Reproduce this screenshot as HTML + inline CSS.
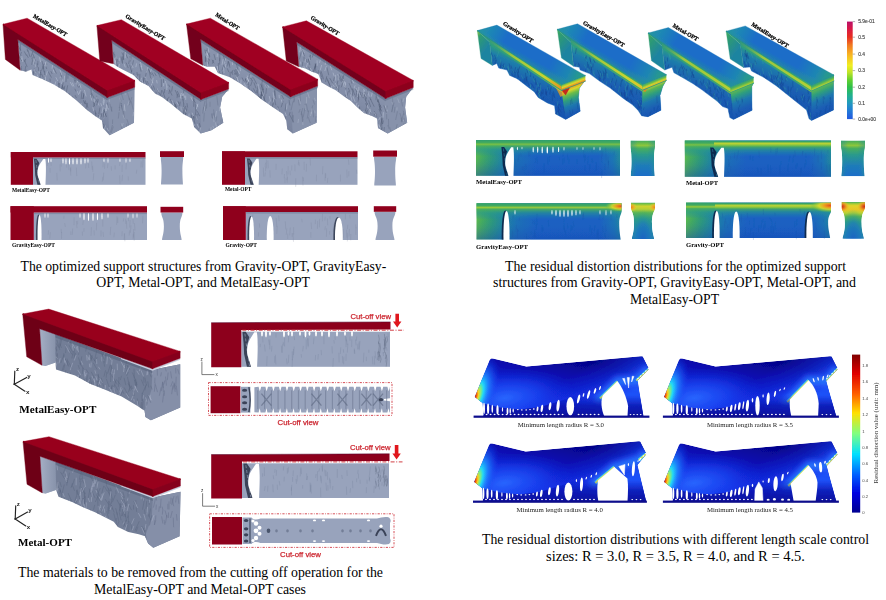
<!DOCTYPE html><html><head><meta charset="utf-8"><title>Optimized support structures</title><style>html,body{margin:0;padding:0;background:#fff}body{width:886px;height:600px;overflow:hidden}</style></head><body><svg width="886" height="600" viewBox="0 0 886 600" style="display:block"><defs><filter id="soft" x="-5%" y="-5%" width="110%" height="110%"><feGaussianBlur stdDeviation="0.45"/></filter><filter id="soft2" x="-20%" y="-20%" width="140%" height="140%"><feGaussianBlur stdDeviation="2.2"/></filter><clipPath id="cb1"><polygon points="17.80,39.60 107.30,97.60 134.80,87.20 134.40,88.00 134.00,122.70 109.50,135.30 103.00,128.10 101.90,120.60 95.40,116.20 86.70,109.70 75.90,100.00 65.00,91.30 54.20,84.80 43.40,79.40 32.50,75.00 31.40,69.60 26.00,71.80 20.20,70.30"/></clipPath><linearGradient id="g1" gradientUnits="userSpaceOnUse" x1="97.30" y1="83.60" x2="79.30" y2="119.60"><stop offset="0" stop-color="#8a95ae"/><stop offset="0.5" stop-color="#838ea8"/><stop offset="1" stop-color="#78839d"/></linearGradient><clipPath id="cb2"><polygon points="111.70,40.30 201.00,99.40 228.70,88.90 227.70,90.20 222.20,96.70 220.10,107.60 223.30,122.70 211.40,130.30 200.60,133.60 194.10,127.10 191.90,118.40 183.20,114.10 176.70,108.60 170.20,103.20 161.50,96.70 155.00,93.50 148.50,85.90 139.90,81.50 133.40,75.00 122.50,69.60 117.10,66.40 113.40,63.80"/></clipPath><linearGradient id="g2" gradientUnits="userSpaceOnUse" x1="191.00" y1="85.40" x2="173.00" y2="121.40"><stop offset="0" stop-color="#8a95ae"/><stop offset="0.5" stop-color="#838ea8"/><stop offset="1" stop-color="#78839d"/></linearGradient><clipPath id="cb3"><polygon points="200.60,39.30 290.60,96.80 317.70,86.10 317.00,88.00 316.60,122.70 292.70,133.60 287.30,129.20 286.20,120.60 283.00,114.10 273.20,107.60 262.40,100.00 251.50,91.30 240.70,83.70 229.90,77.20 217.90,72.90 214.70,66.80 207.10,66.80 202.80,65.30"/></clipPath><linearGradient id="g3" gradientUnits="userSpaceOnUse" x1="280.60" y1="82.80" x2="262.60" y2="118.80"><stop offset="0" stop-color="#8a95ae"/><stop offset="0.5" stop-color="#838ea8"/><stop offset="1" stop-color="#78839d"/></linearGradient><clipPath id="cb4"><polygon points="296.70,42.10 385.60,98.60 413.30,87.50 412.00,89.10 406.20,96.70 405.10,107.50 407.20,122.70 387.70,133.60 378.00,128.10 376.90,118.40 372.50,116.20 363.90,113.00 357.40,107.50 350.90,101.00 344.40,96.70 335.70,90.20 329.20,87.00 321.60,82.60 318.40,74.00 311.90,71.80 305.30,68.50 298.80,66.80"/></clipPath><linearGradient id="g4" gradientUnits="userSpaceOnUse" x1="375.60" y1="84.60" x2="357.60" y2="120.60"><stop offset="0" stop-color="#8a95ae"/><stop offset="0.5" stop-color="#838ea8"/><stop offset="1" stop-color="#78839d"/></linearGradient><clipPath id="cb5"><polygon points="489.60,42.10 561.50,90.10 585.40,80.90 583.90,81.90 579.30,88.30 578.40,97.40 580.20,111.20 565.60,119.40 555.50,113.90 554.60,105.70 547.30,102.90 538.10,97.40 534.40,91.90 527.10,86.40 518.90,80.00 516.10,78.20 509.70,75.40 507.00,70.00 498.70,68.10 496.90,63.50 492.30,65.40"/></clipPath><linearGradient id="g5" gradientUnits="userSpaceOnUse" x1="549.50" y1="72.10" x2="531.50" y2="112.10"><stop offset="0" stop-color="#2a9a86"/><stop offset="0.14" stop-color="#1f7eaa"/><stop offset="0.42" stop-color="#1a5eb2"/><stop offset="1" stop-color="#184eae"/></linearGradient><linearGradient id="g6" gradientUnits="userSpaceOnUse" x1="560.78" y1="88.23" x2="573.71" y2="121.83"><stop offset="0" stop-color="#e0601e"/><stop offset="0.07" stop-color="#e8a022"/><stop offset="0.14" stop-color="#d8d82c"/><stop offset="0.24" stop-color="#6cbc48"/><stop offset="0.38" stop-color="#2f9f7c"/><stop offset="0.55" stop-color="#1f78ae"/><stop offset="0.75" stop-color="#1a5cb4"/><stop offset="1" stop-color="#184eae"/></linearGradient><linearGradient id="g7" gradientUnits="userSpaceOnUse" x1="489.60" y1="42.10" x2="561.50" y2="90.10"><stop offset="0" stop-color="#2f9f78"/><stop offset="0.4" stop-color="#3aa868"/><stop offset="0.8" stop-color="#6cbc48"/><stop offset="1" stop-color="#d8d82c"/></linearGradient><linearGradient id="g8" gradientUnits="userSpaceOnUse" x1="477.30" y1="30.60" x2="491.60" y2="42.10"><stop offset="0" stop-color="#a4cc38"/><stop offset="0.3" stop-color="#2f9c70"/><stop offset="1" stop-color="#1f84a0"/></linearGradient><linearGradient id="g9" gradientUnits="userSpaceOnUse" x1="477.30" y1="30.60" x2="561.50" y2="84.60"><stop offset="0" stop-color="#2f9c74"/><stop offset="0.25" stop-color="#268e8c"/><stop offset="0.7" stop-color="#2f9c74"/><stop offset="1" stop-color="#48ae5e"/></linearGradient><linearGradient id="g10" gradientUnits="userSpaceOnUse" x1="489.60" y1="42.10" x2="561.50" y2="90.10"><stop offset="0" stop-color="#58b456" stop-opacity="0.3"/><stop offset="0.3" stop-color="#a8cc38" stop-opacity="0.9"/><stop offset="0.75" stop-color="#c8d430" stop-opacity="1"/><stop offset="1" stop-color="#e8901e" stop-opacity="1"/></linearGradient><linearGradient id="g11" gradientUnits="userSpaceOnUse" x1="561.50" y1="84.60" x2="563.34" y2="89.39"><stop offset="0" stop-color="#3aa868"/><stop offset="0.35" stop-color="#a8cc38"/><stop offset="0.6" stop-color="#e0d42a"/><stop offset="1" stop-color="#e8801e"/></linearGradient><linearGradient id="g12" gradientUnits="userSpaceOnUse" x1="477.30" y1="30.60" x2="575.40" y2="83.40"><stop offset="0" stop-color="#2496a0"/><stop offset="0.1" stop-color="#1f88b4"/><stop offset="0.26" stop-color="#1c6dc8"/><stop offset="0.72" stop-color="#1c6dc8"/><stop offset="0.9" stop-color="#1f86b2"/><stop offset="1" stop-color="#279a8c"/></linearGradient><linearGradient id="g13" gradientUnits="userSpaceOnUse" x1="561.50" y1="84.60" x2="565.50" y2="77.60"><stop offset="0" stop-color="#2a9c86" stop-opacity="0.55"/><stop offset="1" stop-color="#2a9c86" stop-opacity="0"/></linearGradient><clipPath id="cb6"><polygon points="571.00,42.50 642.50,89.80 666.40,80.10 665.80,81.00 662.70,86.50 660.00,95.60 660.90,110.30 648.00,116.70 641.60,115.80 638.00,110.30 632.50,104.80 623.30,98.40 610.50,88.30 599.50,81.00 589.40,73.60 580.20,70.00 579.30,67.20 573.50,66.30"/></clipPath><linearGradient id="g14" gradientUnits="userSpaceOnUse" x1="630.50" y1="71.80" x2="612.50" y2="111.80"><stop offset="0" stop-color="#2a9a86"/><stop offset="0.14" stop-color="#1f7eaa"/><stop offset="0.42" stop-color="#1a5eb2"/><stop offset="1" stop-color="#184eae"/></linearGradient><linearGradient id="g15" gradientUnits="userSpaceOnUse" x1="641.75" y1="87.95" x2="655.29" y2="121.30"><stop offset="0" stop-color="#d8c82c"/><stop offset="0.07" stop-color="#a8cc38"/><stop offset="0.14" stop-color="#58b456"/><stop offset="0.26" stop-color="#2f9f7c"/><stop offset="0.42" stop-color="#1f78ae"/><stop offset="0.65" stop-color="#1a5cb4"/><stop offset="1" stop-color="#184eae"/></linearGradient><linearGradient id="g16" gradientUnits="userSpaceOnUse" x1="571.00" y1="42.50" x2="642.50" y2="89.80"><stop offset="0" stop-color="#2f9f78"/><stop offset="0.4" stop-color="#3aa868"/><stop offset="0.8" stop-color="#6cbc48"/><stop offset="1" stop-color="#8cc63c"/></linearGradient><linearGradient id="g17" gradientUnits="userSpaceOnUse" x1="557.30" y1="29.30" x2="573.00" y2="42.50"><stop offset="0" stop-color="#48ae5e"/><stop offset="0.3" stop-color="#2f9c70"/><stop offset="1" stop-color="#1f84a0"/></linearGradient><linearGradient id="g18" gradientUnits="userSpaceOnUse" x1="557.30" y1="29.30" x2="642.50" y2="84.30"><stop offset="0" stop-color="#2f9c74"/><stop offset="0.25" stop-color="#268e8c"/><stop offset="0.7" stop-color="#2f9c74"/><stop offset="1" stop-color="#48ae5e"/></linearGradient><linearGradient id="g19" gradientUnits="userSpaceOnUse" x1="571.00" y1="42.50" x2="642.50" y2="89.80"><stop offset="0" stop-color="#58b456" stop-opacity="0.3"/><stop offset="0.3" stop-color="#a8cc38" stop-opacity="0.9"/><stop offset="0.75" stop-color="#c8d430" stop-opacity="1"/><stop offset="1" stop-color="#e0c428" stop-opacity="1"/></linearGradient><linearGradient id="g20" gradientUnits="userSpaceOnUse" x1="642.50" y1="84.30" x2="644.42" y2="89.02"><stop offset="0" stop-color="#2f9f80"/><stop offset="0.4" stop-color="#6cbc48"/><stop offset="0.7" stop-color="#c8d430"/><stop offset="1" stop-color="#e8b024"/></linearGradient><linearGradient id="g21" gradientUnits="userSpaceOnUse" x1="557.30" y1="29.30" x2="656.40" y2="82.60"><stop offset="0" stop-color="#2496a0"/><stop offset="0.1" stop-color="#1f88b4"/><stop offset="0.26" stop-color="#1c6dc8"/><stop offset="0.72" stop-color="#1c6dc8"/><stop offset="0.9" stop-color="#1f86b2"/><stop offset="1" stop-color="#279a8c"/></linearGradient><linearGradient id="g22" gradientUnits="userSpaceOnUse" x1="642.50" y1="84.30" x2="646.50" y2="77.30"><stop offset="0" stop-color="#2a9c86" stop-opacity="0.55"/><stop offset="1" stop-color="#2a9c86" stop-opacity="0"/></linearGradient><clipPath id="cb7"><polygon points="662.00,46.20 730.70,92.00 753.60,82.80 751.80,86.50 751.80,100.00 752.10,110.30 733.50,119.50 729.80,117.60 728.00,108.50 722.50,106.60 717.00,101.10 709.60,95.60 702.30,90.10 693.10,83.70 682.10,77.30 673.90,72.70 672.10,67.20 664.70,70.00"/></clipPath><linearGradient id="g23" gradientUnits="userSpaceOnUse" x1="718.70" y1="74.00" x2="700.70" y2="114.00"><stop offset="0" stop-color="#2a9a86"/><stop offset="0.14" stop-color="#1f7eaa"/><stop offset="0.42" stop-color="#1a5eb2"/><stop offset="1" stop-color="#184eae"/></linearGradient><linearGradient id="g24" gradientUnits="userSpaceOnUse" x1="729.95" y1="90.14" x2="743.37" y2="123.55"><stop offset="0" stop-color="#8cc63c"/><stop offset="0.08" stop-color="#58b456"/><stop offset="0.2" stop-color="#2f9f7c"/><stop offset="0.38" stop-color="#1f78ae"/><stop offset="0.62" stop-color="#1a5cb4"/><stop offset="1" stop-color="#184eae"/></linearGradient><linearGradient id="g25" gradientUnits="userSpaceOnUse" x1="662.00" y1="46.20" x2="730.70" y2="92.00"><stop offset="0" stop-color="#2f9f78"/><stop offset="0.4" stop-color="#3aa868"/><stop offset="0.8" stop-color="#48ae5e"/><stop offset="1" stop-color="#8cc63c"/></linearGradient><linearGradient id="g26" gradientUnits="userSpaceOnUse" x1="648.20" y1="33.00" x2="664.00" y2="46.20"><stop offset="0" stop-color="#48ae5e"/><stop offset="0.3" stop-color="#2f9c70"/><stop offset="1" stop-color="#1f84a0"/></linearGradient><linearGradient id="g27" gradientUnits="userSpaceOnUse" x1="648.20" y1="33.00" x2="730.70" y2="86.50"><stop offset="0" stop-color="#2f9c74"/><stop offset="0.25" stop-color="#268e8c"/><stop offset="0.7" stop-color="#2f9c74"/><stop offset="1" stop-color="#48ae5e"/></linearGradient><linearGradient id="g28" gradientUnits="userSpaceOnUse" x1="662.00" y1="46.20" x2="730.70" y2="92.00"><stop offset="0" stop-color="#58b456" stop-opacity="0.3"/><stop offset="0.3" stop-color="#a8cc38" stop-opacity="0.9"/><stop offset="0.75" stop-color="#a8cc38" stop-opacity="1"/><stop offset="1" stop-color="#b8d034" stop-opacity="1"/></linearGradient><linearGradient id="g29" gradientUnits="userSpaceOnUse" x1="730.70" y1="86.50" x2="732.60" y2="91.24"><stop offset="0" stop-color="#2a9a86"/><stop offset="0.4" stop-color="#48ae5e"/><stop offset="0.75" stop-color="#8cc63c"/><stop offset="1" stop-color="#b8d034"/></linearGradient><linearGradient id="g30" gradientUnits="userSpaceOnUse" x1="648.20" y1="33.00" x2="743.60" y2="85.30"><stop offset="0" stop-color="#2496a0"/><stop offset="0.1" stop-color="#1f88b4"/><stop offset="0.26" stop-color="#1c6dc8"/><stop offset="0.72" stop-color="#1c6dc8"/><stop offset="0.9" stop-color="#1f86b2"/><stop offset="1" stop-color="#279a8c"/></linearGradient><linearGradient id="g31" gradientUnits="userSpaceOnUse" x1="730.70" y1="86.50" x2="734.70" y2="79.50"><stop offset="0" stop-color="#2a9c86" stop-opacity="0.55"/><stop offset="1" stop-color="#2a9c86" stop-opacity="0"/></linearGradient><clipPath id="cb8"><polygon points="740.40,44.30 811.50,90.50 834.00,80.50 833.50,80.00 833.50,95.00 833.50,110.00 811.50,120.50 809.00,118.75 806.50,110.00 801.50,106.00 789.00,96.00 776.50,86.00 764.00,77.50 751.50,71.00 750.00,67.00 743.50,67.50"/></clipPath><linearGradient id="g32" gradientUnits="userSpaceOnUse" x1="799.50" y1="72.50" x2="781.50" y2="112.50"><stop offset="0" stop-color="#2a9a86"/><stop offset="0.14" stop-color="#1f7eaa"/><stop offset="0.42" stop-color="#1a5eb2"/><stop offset="1" stop-color="#184eae"/></linearGradient><linearGradient id="g33" gradientUnits="userSpaceOnUse" x1="810.69" y1="88.67" x2="825.31" y2="121.57"><stop offset="0" stop-color="#8cc63c"/><stop offset="0.08" stop-color="#58b456"/><stop offset="0.2" stop-color="#2f9f7c"/><stop offset="0.38" stop-color="#1f78ae"/><stop offset="0.62" stop-color="#1a5cb4"/><stop offset="1" stop-color="#184eae"/></linearGradient><linearGradient id="g34" gradientUnits="userSpaceOnUse" x1="740.40" y1="44.30" x2="811.50" y2="90.50"><stop offset="0" stop-color="#2f9f78"/><stop offset="0.4" stop-color="#3aa868"/><stop offset="0.8" stop-color="#48ae5e"/><stop offset="1" stop-color="#8cc63c"/></linearGradient><linearGradient id="g35" gradientUnits="userSpaceOnUse" x1="726.10" y1="31.20" x2="742.40" y2="44.30"><stop offset="0" stop-color="#48ae5e"/><stop offset="0.3" stop-color="#2f9c70"/><stop offset="1" stop-color="#1f84a0"/></linearGradient><linearGradient id="g36" gradientUnits="userSpaceOnUse" x1="726.10" y1="31.20" x2="811.50" y2="85.00"><stop offset="0" stop-color="#2f9c74"/><stop offset="0.25" stop-color="#268e8c"/><stop offset="0.7" stop-color="#2f9c74"/><stop offset="1" stop-color="#48ae5e"/></linearGradient><linearGradient id="g37" gradientUnits="userSpaceOnUse" x1="740.40" y1="44.30" x2="811.50" y2="90.50"><stop offset="0" stop-color="#58b456" stop-opacity="0.3"/><stop offset="0.3" stop-color="#a8cc38" stop-opacity="0.9"/><stop offset="0.75" stop-color="#a8cc38" stop-opacity="1"/><stop offset="1" stop-color="#b8d034" stop-opacity="1"/></linearGradient><linearGradient id="g38" gradientUnits="userSpaceOnUse" x1="811.50" y1="85.00" x2="813.54" y2="89.59"><stop offset="0" stop-color="#2a9a86"/><stop offset="0.4" stop-color="#48ae5e"/><stop offset="0.75" stop-color="#8cc63c"/><stop offset="1" stop-color="#b8d034"/></linearGradient><linearGradient id="g39" gradientUnits="userSpaceOnUse" x1="726.10" y1="31.20" x2="824.00" y2="83.00"><stop offset="0" stop-color="#2496a0"/><stop offset="0.1" stop-color="#1f88b4"/><stop offset="0.26" stop-color="#1c6dc8"/><stop offset="0.72" stop-color="#1c6dc8"/><stop offset="0.9" stop-color="#1f86b2"/><stop offset="1" stop-color="#279a8c"/></linearGradient><linearGradient id="g40" gradientUnits="userSpaceOnUse" x1="811.50" y1="85.00" x2="815.50" y2="78.00"><stop offset="0" stop-color="#2a9c86" stop-opacity="0.55"/><stop offset="1" stop-color="#2a9c86" stop-opacity="0"/></linearGradient><linearGradient id="g41" gradientUnits="userSpaceOnUse" x1="0.00" y1="21.60" x2="0.00" y2="119.10"><stop offset="0" stop-color="#b8106a"/><stop offset="0.07" stop-color="#d81848"/><stop offset="0.16" stop-color="#e83020"/><stop offset="0.24" stop-color="#f07820"/><stop offset="0.33" stop-color="#f8b020"/><stop offset="0.45" stop-color="#f0ee20"/><stop offset="0.52" stop-color="#c0e428"/><stop offset="0.6" stop-color="#60d030"/><stop offset="0.67" stop-color="#30c048"/><stop offset="0.76" stop-color="#20b090"/><stop offset="0.84" stop-color="#2098c0"/><stop offset="0.92" stop-color="#2078d8"/><stop offset="1" stop-color="#2058e0"/></linearGradient><linearGradient id="g42" gradientUnits="userSpaceOnUse" x1="476.00" y1="0.00" x2="620.00" y2="0.00"><stop offset="0" stop-color="#5ab84e"/><stop offset="0.035" stop-color="#46ac5c"/><stop offset="0.1" stop-color="#2f9a78"/><stop offset="0.17" stop-color="#23889a"/><stop offset="0.28" stop-color="#1d70b6"/><stop offset="0.42" stop-color="#1a60c2"/><stop offset="0.85" stop-color="#1a60c2"/><stop offset="0.95" stop-color="#1d74b4"/><stop offset="1" stop-color="#22889c"/></linearGradient><linearGradient id="g43" gradientUnits="userSpaceOnUse" x1="0.00" y1="140.00" x2="0.00" y2="175.80"><stop offset="0" stop-color="#2f9e70" stop-opacity="1"/><stop offset="0.07" stop-color="#42aa5e" stop-opacity="1"/><stop offset="0.12" stop-color="#7cc244" stop-opacity="0.95"/><stop offset="0.17" stop-color="#48ae5e" stop-opacity="0.9"/><stop offset="0.27" stop-color="#2a9a8c" stop-opacity="0.6"/><stop offset="0.45" stop-color="#1f86b2" stop-opacity="0.0"/><stop offset="0.7" stop-color="#1a50ba" stop-opacity="0.15"/><stop offset="1" stop-color="#1746b2" stop-opacity="0.45"/></linearGradient><clipPath id="cb9"><path d="M630.50,140.50 L655.00,140.50 L655.00,145.50 C655.00,150.50 654.00,149.50 654.00,161.25 C654.00,170.00 654.70,173.00 654.70,176.00 L630.80,176.00 C630.80,173.00 631.50,170.00 631.50,161.25 C631.50,149.50 630.50,150.50 630.50,145.50 Z"/></clipPath><linearGradient id="g44" gradientUnits="userSpaceOnUse" x1="0.00" y1="140.50" x2="0.00" y2="176.00"><stop offset="0" stop-color="#42aa5e"/><stop offset="0.08" stop-color="#6cbc48"/><stop offset="0.14" stop-color="#8cc63c"/><stop offset="0.22" stop-color="#48ae5e"/><stop offset="0.4" stop-color="#2a9a8c"/><stop offset="0.7" stop-color="#1f7cb8"/><stop offset="1" stop-color="#1c6dc8"/></linearGradient><linearGradient id="g45" gradientUnits="userSpaceOnUse" x1="630.50" y1="0.00" x2="655.00" y2="0.00"><stop offset="0" stop-color="#2a9a8c" stop-opacity="0.55"/><stop offset="0.3" stop-color="#1f7cb8" stop-opacity="0"/><stop offset="0.7" stop-color="#1f7cb8" stop-opacity="0"/><stop offset="1" stop-color="#2a9a8c" stop-opacity="0.55"/></linearGradient><linearGradient id="g46" gradientUnits="userSpaceOnUse" x1="476.50" y1="0.00" x2="621.50" y2="0.00"><stop offset="0" stop-color="#5ab84e"/><stop offset="0.035" stop-color="#46ac5c"/><stop offset="0.1" stop-color="#2f9a78"/><stop offset="0.17" stop-color="#23889a"/><stop offset="0.28" stop-color="#1d70b6"/><stop offset="0.42" stop-color="#1a60c2"/><stop offset="0.85" stop-color="#1a60c2"/><stop offset="0.95" stop-color="#1d74b4"/><stop offset="1" stop-color="#22889c"/></linearGradient><linearGradient id="g47" gradientUnits="userSpaceOnUse" x1="0.00" y1="203.20" x2="0.00" y2="239.50"><stop offset="0" stop-color="#2f9e70" stop-opacity="1"/><stop offset="0.07" stop-color="#42aa5e" stop-opacity="1"/><stop offset="0.12" stop-color="#9ccc38" stop-opacity="0.95"/><stop offset="0.17" stop-color="#48ae5e" stop-opacity="0.9"/><stop offset="0.27" stop-color="#2a9a8c" stop-opacity="0.6"/><stop offset="0.45" stop-color="#1f86b2" stop-opacity="0.0"/><stop offset="0.7" stop-color="#1a50ba" stop-opacity="0.15"/><stop offset="1" stop-color="#1746b2" stop-opacity="0.45"/></linearGradient><radialGradient id="g48" gradientUnits="userSpaceOnUse" cx="620.50" cy="206.20" r="9.90" gradientTransform="translate(620.5 206.2) scale(1.6 0.55) translate(-620.5 -206.2)"><stop offset="0" stop-color="#e8501e" stop-opacity="1"/><stop offset="0.3" stop-color="#f0a020" stop-opacity="0.95"/><stop offset="0.55" stop-color="#e0dc28" stop-opacity="0.8"/><stop offset="0.8" stop-color="#8cc63c" stop-opacity="0.5"/><stop offset="1" stop-color="#48ae5e" stop-opacity="0"/></radialGradient><clipPath id="cb10"><path d="M631.00,202.60 L655.00,202.60 L655.00,207.60 C655.00,212.60 652.00,211.60 652.00,223.80 C652.00,233.00 654.10,236.00 654.10,239.00 L631.90,239.00 C631.90,236.00 634.00,233.00 634.00,223.80 C634.00,211.60 631.00,212.60 631.00,207.60 Z"/></clipPath><linearGradient id="g49" gradientUnits="userSpaceOnUse" x1="0.00" y1="202.60" x2="0.00" y2="239.00"><stop offset="0" stop-color="#48ae5e"/><stop offset="0.05" stop-color="#8cc63c"/><stop offset="0.1" stop-color="#d0d42e"/><stop offset="0.18" stop-color="#b8d034"/><stop offset="0.28" stop-color="#58b456"/><stop offset="0.45" stop-color="#2a9a8c"/><stop offset="0.72" stop-color="#1f7cb8"/><stop offset="1" stop-color="#1c6dc8"/></linearGradient><radialGradient id="g50" gradientUnits="userSpaceOnUse" cx="643.00" cy="241.00" r="31.30" gradientTransform="translate(643.0 241.0) scale(0.42 1) translate(-643.0 -241.0)"><stop offset="0" stop-color="#1a60c2" stop-opacity="0.9"/><stop offset="0.55" stop-color="#1f7cb8" stop-opacity="0.75"/><stop offset="0.8" stop-color="#2a9a8c" stop-opacity="0.35"/><stop offset="1" stop-color="#48ae5e" stop-opacity="0"/></radialGradient><radialGradient id="g51" gradientUnits="userSpaceOnUse" cx="631.50" cy="207.20" r="5.62" gradientTransform="translate(631.5 207.2) scale(1 0.8) translate(-631.5 -207.2)"><stop offset="0" stop-color="#e8881e" stop-opacity="1"/><stop offset="0.4" stop-color="#ecac24" stop-opacity="0.9"/><stop offset="1" stop-color="#e0d42a" stop-opacity="0"/></radialGradient><radialGradient id="g52" gradientUnits="userSpaceOnUse" cx="654.50" cy="207.20" r="5.62" gradientTransform="translate(654.5 207.2) scale(1 0.8) translate(-654.5 -207.2)"><stop offset="0" stop-color="#e8881e" stop-opacity="1"/><stop offset="0.4" stop-color="#ecac24" stop-opacity="0.9"/><stop offset="1" stop-color="#e0d42a" stop-opacity="0"/></radialGradient><linearGradient id="g53" gradientUnits="userSpaceOnUse" x1="684.80" y1="0.00" x2="831.00" y2="0.00"><stop offset="0" stop-color="#5ab84e"/><stop offset="0.035" stop-color="#46ac5c"/><stop offset="0.1" stop-color="#2f9a78"/><stop offset="0.17" stop-color="#23889a"/><stop offset="0.28" stop-color="#1d70b6"/><stop offset="0.42" stop-color="#1a60c2"/><stop offset="0.85" stop-color="#1a60c2"/><stop offset="0.95" stop-color="#1d74b4"/><stop offset="1" stop-color="#22889c"/></linearGradient><linearGradient id="g54" gradientUnits="userSpaceOnUse" x1="0.00" y1="140.50" x2="0.00" y2="176.80"><stop offset="0" stop-color="#2f9e70" stop-opacity="1"/><stop offset="0.07" stop-color="#42aa5e" stop-opacity="1"/><stop offset="0.12" stop-color="#7cc244" stop-opacity="0.95"/><stop offset="0.17" stop-color="#48ae5e" stop-opacity="0.9"/><stop offset="0.27" stop-color="#2a9a8c" stop-opacity="0.6"/><stop offset="0.45" stop-color="#1f86b2" stop-opacity="0.0"/><stop offset="0.7" stop-color="#1a50ba" stop-opacity="0.15"/><stop offset="1" stop-color="#1746b2" stop-opacity="0.45"/></linearGradient><linearGradient id="g55" gradientUnits="userSpaceOnUse" x1="0.00" y1="141.50" x2="0.00" y2="147.50"><stop offset="0" stop-color="#d8d82c" stop-opacity="0"/><stop offset="0.35" stop-color="#c8d830" stop-opacity="0.9"/><stop offset="0.6" stop-color="#8cc63c" stop-opacity="0.8"/><stop offset="1" stop-color="#48ae5e" stop-opacity="0"/></linearGradient><clipPath id="cb11"><path d="M841.00,140.50 L865.00,140.50 L865.00,145.50 C865.00,150.50 863.80,149.50 863.80,161.40 C863.80,170.30 864.64,173.30 864.64,176.30 L841.36,176.30 C841.36,173.30 842.20,170.30 842.20,161.40 C842.20,149.50 841.00,150.50 841.00,145.50 Z"/></clipPath><linearGradient id="g56" gradientUnits="userSpaceOnUse" x1="0.00" y1="140.50" x2="0.00" y2="176.30"><stop offset="0" stop-color="#42aa5e"/><stop offset="0.08" stop-color="#6cbc48"/><stop offset="0.14" stop-color="#8cc63c"/><stop offset="0.22" stop-color="#48ae5e"/><stop offset="0.4" stop-color="#2a9a8c"/><stop offset="0.7" stop-color="#1f7cb8"/><stop offset="1" stop-color="#1c6dc8"/></linearGradient><linearGradient id="g57" gradientUnits="userSpaceOnUse" x1="841.00" y1="0.00" x2="865.00" y2="0.00"><stop offset="0" stop-color="#2a9a8c" stop-opacity="0.55"/><stop offset="0.3" stop-color="#1f7cb8" stop-opacity="0"/><stop offset="0.7" stop-color="#1f7cb8" stop-opacity="0"/><stop offset="1" stop-color="#2a9a8c" stop-opacity="0.55"/></linearGradient><linearGradient id="g58" gradientUnits="userSpaceOnUse" x1="686.00" y1="0.00" x2="831.00" y2="0.00"><stop offset="0" stop-color="#5ab84e"/><stop offset="0.035" stop-color="#46ac5c"/><stop offset="0.1" stop-color="#2f9a78"/><stop offset="0.17" stop-color="#23889a"/><stop offset="0.28" stop-color="#1d70b6"/><stop offset="0.42" stop-color="#1a60c2"/><stop offset="0.85" stop-color="#1a60c2"/><stop offset="0.95" stop-color="#1d74b4"/><stop offset="1" stop-color="#22889c"/></linearGradient><linearGradient id="g59" gradientUnits="userSpaceOnUse" x1="0.00" y1="202.60" x2="0.00" y2="238.00"><stop offset="0" stop-color="#2f9e70" stop-opacity="1"/><stop offset="0.07" stop-color="#42aa5e" stop-opacity="1"/><stop offset="0.12" stop-color="#9ccc38" stop-opacity="0.95"/><stop offset="0.17" stop-color="#48ae5e" stop-opacity="0.9"/><stop offset="0.27" stop-color="#2a9a8c" stop-opacity="0.6"/><stop offset="0.45" stop-color="#1f86b2" stop-opacity="0.0"/><stop offset="0.7" stop-color="#1a50ba" stop-opacity="0.15"/><stop offset="1" stop-color="#1746b2" stop-opacity="0.45"/></linearGradient><linearGradient id="g60" gradientUnits="userSpaceOnUse" x1="0.00" y1="203.60" x2="0.00" y2="209.60"><stop offset="0" stop-color="#d8d82c" stop-opacity="0"/><stop offset="0.35" stop-color="#c8d830" stop-opacity="0.9"/><stop offset="0.6" stop-color="#8cc63c" stop-opacity="0.8"/><stop offset="1" stop-color="#48ae5e" stop-opacity="0"/></linearGradient><radialGradient id="g61" gradientUnits="userSpaceOnUse" cx="830.00" cy="205.60" r="12.60" gradientTransform="translate(830.0 205.6) scale(1.6 0.55) translate(-830.0 -205.6)"><stop offset="0" stop-color="#e8501e" stop-opacity="1"/><stop offset="0.3" stop-color="#f0a020" stop-opacity="0.95"/><stop offset="0.55" stop-color="#e0dc28" stop-opacity="0.8"/><stop offset="0.8" stop-color="#8cc63c" stop-opacity="0.5"/><stop offset="1" stop-color="#48ae5e" stop-opacity="0"/></radialGradient><clipPath id="cb12"><path d="M841.50,202.00 L865.00,202.00 L865.00,207.00 C865.00,212.00 861.60,211.00 861.60,223.40 C861.60,232.80 863.98,235.80 863.98,238.80 L842.52,238.80 C842.52,235.80 844.90,232.80 844.90,223.40 C844.90,211.00 841.50,212.00 841.50,207.00 Z"/></clipPath><linearGradient id="g62" gradientUnits="userSpaceOnUse" x1="0.00" y1="202.00" x2="0.00" y2="238.80"><stop offset="0" stop-color="#48ae5e"/><stop offset="0.05" stop-color="#a8cc38"/><stop offset="0.1" stop-color="#e0d42a"/><stop offset="0.2" stop-color="#e8c828"/><stop offset="0.3" stop-color="#b8d034"/><stop offset="0.4" stop-color="#58b456"/><stop offset="0.55" stop-color="#2a9a8c"/><stop offset="0.78" stop-color="#1f7cb8"/><stop offset="1" stop-color="#1c6dc8"/></linearGradient><radialGradient id="g63" gradientUnits="userSpaceOnUse" cx="853.25" cy="240.80" r="31.65" gradientTransform="translate(853.2 240.8) scale(0.42 1) translate(-853.2 -240.8)"><stop offset="0" stop-color="#1a60c2" stop-opacity="0.9"/><stop offset="0.55" stop-color="#1f7cb8" stop-opacity="0.75"/><stop offset="0.8" stop-color="#2a9a8c" stop-opacity="0.35"/><stop offset="1" stop-color="#48ae5e" stop-opacity="0"/></radialGradient><radialGradient id="g64" gradientUnits="userSpaceOnUse" cx="842.00" cy="206.60" r="7.50" gradientTransform="translate(842.0 206.6) scale(1 0.8) translate(-842.0 -206.6)"><stop offset="0" stop-color="#c8301c" stop-opacity="1"/><stop offset="0.3" stop-color="#e0601e" stop-opacity="0.95"/><stop offset="0.6" stop-color="#eca022" stop-opacity="0.8"/><stop offset="1" stop-color="#e8c828" stop-opacity="0"/></radialGradient><radialGradient id="g65" gradientUnits="userSpaceOnUse" cx="864.50" cy="206.60" r="7.50" gradientTransform="translate(864.5 206.6) scale(1 0.8) translate(-864.5 -206.6)"><stop offset="0" stop-color="#c8301c" stop-opacity="1"/><stop offset="0.3" stop-color="#e0601e" stop-opacity="0.95"/><stop offset="0.6" stop-color="#eca022" stop-opacity="0.8"/><stop offset="1" stop-color="#e8c828" stop-opacity="0"/></radialGradient><linearGradient id="g66" gradientUnits="userSpaceOnUse" x1="39.60" y1="0.00" x2="55.60" y2="0.00"><stop offset="0" stop-color="#a5afc5" stop-opacity="1"/><stop offset="0.4" stop-color="#99a3ba" stop-opacity="1"/><stop offset="1" stop-color="#8893ab" stop-opacity="1"/></linearGradient><clipPath id="cb13"><polygon points="55.30,334.00 152.50,369.80 180.20,364.20 180.20,407.50 150.90,420.20 145.40,417.00 144.60,410.70 137.50,406.00 121.60,396.50 105.80,390.00 90.00,383.80 75.00,375.50 56.00,369.60 55.60,362.40"/></clipPath><linearGradient id="g67" gradientUnits="userSpaceOnUse" x1="39.90" y1="0.00" x2="55.90" y2="0.00"><stop offset="0" stop-color="#a5afc5" stop-opacity="1"/><stop offset="0.4" stop-color="#99a3ba" stop-opacity="1"/><stop offset="1" stop-color="#8893ab" stop-opacity="1"/></linearGradient><clipPath id="cb14"><polygon points="55.60,461.60 152.80,497.40 180.50,491.80 179.60,536.25 153.30,547.70 148.10,543.50 145.00,536.25 138.75,534.20 128.30,532.10 117.90,526.90 113.75,521.70 95.00,512.30 82.50,507.10 72.10,501.90 58.50,496.70 56.20,490.20"/></clipPath><linearGradient id="g68" gradientUnits="userSpaceOnUse" x1="540.00" y1="352.00" x2="528.00" y2="412.00"><stop offset="0" stop-color="#05058a"/><stop offset="0.2" stop-color="#0808a2"/><stop offset="0.5" stop-color="#0c18c6"/><stop offset="0.8" stop-color="#1230e6"/><stop offset="1" stop-color="#1434ea"/></linearGradient><radialGradient id="g69" gradientUnits="userSpaceOnUse" cx="505.00" cy="398.00" r="46.00" gradientTransform="translate(505 398) rotate(-8) scale(1.5 0.62) translate(-505 -398)"><stop offset="0" stop-color="#2a68ff" stop-opacity="0.95"/><stop offset="0.5" stop-color="#1e4cf6" stop-opacity="0.6"/><stop offset="1" stop-color="#1030e0" stop-opacity="0"/></radialGradient><linearGradient id="g70" gradientUnits="userSpaceOnUse" x1="606.00" y1="355.00" x2="629.00" y2="394.00"><stop offset="0" stop-color="#1634e6" stop-opacity="0"/><stop offset="0.3" stop-color="#1634e6" stop-opacity="0.35"/><stop offset="0.65" stop-color="#1a44f4" stop-opacity="0.75"/><stop offset="1" stop-color="#2058ff" stop-opacity="0.9"/></linearGradient><radialGradient id="g71" gradientUnits="userSpaceOnUse" cx="474.60" cy="397.00" r="36.00" gradientTransform="translate(474.6 397) rotate(-68) scale(1.25 0.55) translate(-474.6 -397)"><stop offset="0" stop-color="#c81808" stop-opacity="1"/><stop offset="0.08" stop-color="#f06010" stop-opacity="1"/><stop offset="0.16" stop-color="#f8d020" stop-opacity="1"/><stop offset="0.25" stop-color="#80f080" stop-opacity="1"/><stop offset="0.36" stop-color="#20d8f8" stop-opacity="1"/><stop offset="0.55" stop-color="#2088ff" stop-opacity="0.85"/><stop offset="1" stop-color="#1838ee" stop-opacity="0"/></radialGradient><linearGradient id="g72" gradientUnits="userSpaceOnUse" x1="0.00" y1="395.00" x2="0.00" y2="416.00"><stop offset="0" stop-color="#0a14b4" stop-opacity="0.0"/><stop offset="0.5" stop-color="#0a10a8" stop-opacity="0.75"/><stop offset="1" stop-color="#080c98" stop-opacity="0.95"/></linearGradient><clipPath id="cb15"><polygon points="474.60,397.00 489.60,360.00 491.00,358.40 493.00,358.60 526.30,366.40 641.20,356.20 642.80,356.60 648.80,368.40 648.60,369.60 637.60,380.40 643.50,416.20 483.50,416.20 482.60,403.20"/></clipPath><clipPath id="cb16"><polygon points="474.60,397.00 489.60,360.00 491.00,358.40 493.00,358.60 526.30,366.40 640.80,356.20 642.40,356.60 648.40,368.40 648.20,369.60 637.00,381.20 647.00,416.20 483.50,416.20 482.60,403.20"/></clipPath><clipPath id="cb17"><polygon points="474.60,397.00 489.60,360.00 491.00,358.40 493.00,358.60 526.30,366.40 639.30,356.20 640.90,356.60 646.90,368.40 646.70,369.60 638.10,380.00 646.80,416.20 483.50,416.20 482.60,403.20"/></clipPath><clipPath id="cb18"><polygon points="474.60,397.00 489.60,360.00 491.00,358.40 493.00,358.60 526.30,366.40 640.80,356.20 642.40,356.60 648.40,368.40 648.20,369.60 637.40,381.00 647.00,416.20 483.50,416.20 482.60,403.20"/></clipPath><linearGradient id="g73" gradientUnits="userSpaceOnUse" x1="0.00" y1="354.60" x2="0.00" y2="512.60"><stop offset="0" stop-color="#800000"/><stop offset="0.12" stop-color="#e00000"/><stop offset="0.25" stop-color="#ff6000"/><stop offset="0.37" stop-color="#ffe000"/><stop offset="0.5" stop-color="#80ff80"/><stop offset="0.63" stop-color="#00e0ff"/><stop offset="0.76" stop-color="#0060ff"/><stop offset="0.88" stop-color="#0000e0"/><stop offset="1" stop-color="#000090"/></linearGradient></defs><g filter="url(#soft)">
<polygon points="17.80,39.60 107.30,97.60 134.80,87.20 134.40,88.00 134.00,122.70 109.50,135.30 103.00,128.10 101.90,120.60 95.40,116.20 86.70,109.70 75.90,100.00 65.00,91.30 54.20,84.80 43.40,79.40 32.50,75.00 31.40,69.60 26.00,71.80 20.20,70.30" fill="url(#g1)" />
<polygon points="107.30,97.60 134.80,87.20 134.40,88.00 134.00,122.70 109.50,135.30" fill="#8792ab" />
<g clip-path="url(#cb1)" stroke="#4f5a74" stroke-opacity="0.5" stroke-width="0.9" fill="none" stroke-linecap="round"><path d="M46.7,81.1 l0.1,2.4"/><path d="M50.0,79.0 l0.3,2.2"/><path d="M24.2,60.0 l2.8,6.4"/><path d="M39.8,84.7 l1.0,5.4"/><path d="M103.4,123.9 l1.4,3.4"/><path d="M29.2,74.8 l0.0,3.1"/><path d="M75.2,95.5 l1.1,2.1"/><path d="M38.5,67.6 l0.0,3.9"/><path d="M58.6,92.8 l1.9,5.9"/><path d="M70.1,102.0 l1.7,6.1"/><path d="M104.0,110.5 l2.5,6.0"/><path d="M60.7,90.9 l0.2,6.6"/><path d="M95.6,113.2 l0.1,5.6"/><path d="M61.0,97.6 l-0.3,4.8"/><path d="M25.8,66.3 l-1.5,7.8"/><path d="M44.2,79.5 l0.3,2.1"/><path d="M32.9,54.1 l2.6,6.1"/><path d="M40.9,83.7 l0.3,2.5"/><path d="M69.4,98.9 l2.0,6.9"/><path d="M55.5,93.4 l3.0,7.2"/><path d="M34.1,60.0 l0.0,4.9"/><path d="M40.7,70.5 l0.1,4.2"/><path d="M104.0,112.0 l-0.4,5.7"/><path d="M26.0,70.1 l-1.2,7.1"/><path d="M53.7,68.0 l2.6,5.2"/><path d="M24.4,51.7 l1.9,3.6"/><path d="M18.3,46.1 l2.0,3.7"/><path d="M96.7,96.2 l0.8,3.4"/><path d="M50.1,89.5 l0.9,7.9"/><path d="M60.4,73.0 l1.2,3.9"/><path d="M91.0,89.8 l0.5,7.7"/><path d="M32.7,51.9 l-1.7,4.9"/><path d="M96.1,99.1 l1.5,3.9"/><path d="M87.4,110.0 l1.3,3.8"/><path d="M92.7,114.5 l-1.3,6.7"/><path d="M83.4,100.2 l2.0,3.6"/><path d="M21.3,52.5 l-1.9,5.9"/><path d="M60.6,98.4 l1.6,7.6"/><path d="M37.9,61.3 l-0.1,3.2"/><path d="M99.9,107.9 l-1.0,5.8"/><path d="M27.8,75.8 l-0.9,6.6"/><path d="M60.3,94.0 l-0.7,3.9"/><path d="M104.4,109.5 l-0.8,7.6"/><path d="M33.1,57.1 l-1.3,7.3"/><path d="M33.8,81.4 l1.3,5.8"/><path d="M66.3,73.9 l-0.3,7.8"/><path d="M67.6,85.7 l-1.4,7.1"/><path d="M37.2,63.7 l0.0,3.4"/><path d="M42.1,61.4 l1.6,7.3"/><path d="M60.2,96.5 l-1.2,4.4"/><path d="M63.8,87.1 l0.3,2.1"/><path d="M33.7,77.9 l0.3,3.0"/><path d="M83.4,93.4 l0.2,5.1"/><path d="M86.8,104.0 l1.0,3.4"/><path d="M87.4,103.3 l-1.8,6.3"/><path d="M59.0,83.3 l-0.4,5.1"/><path d="M59.5,82.9 l-0.7,7.6"/><path d="M98.3,99.8 l-1.6,5.1"/><path d="M91.8,93.5 l2.1,4.2"/><path d="M39.1,77.1 l-1.7,6.5"/><path d="M34.1,72.0 l-0.7,2.8"/><path d="M103.3,126.3 l0.4,4.4"/><path d="M107.7,103.0 l0.3,4.6"/><path d="M48.2,71.7 l3.1,5.5"/><path d="M68.0,74.3 l-0.1,4.0"/><path d="M62.8,102.0 l-2.1,6.4"/><path d="M27.9,50.0 l1.9,6.4"/><path d="M30.7,78.4 l2.0,6.6"/><path d="M34.5,68.9 l2.7,5.6"/><path d="M25.5,59.3 l-0.7,2.3"/><path d="M76.5,80.8 l3.2,6.4"/><path d="M95.1,101.5 l-1.5,5.1"/><path d="M41.7,74.2 l1.4,3.1"/><path d="M32.0,58.2 l1.0,3.7"/><path d="M85.4,100.7 l0.7,3.0"/><path d="M20.3,44.4 l0.3,6.4"/><path d="M36.2,82.4 l-0.5,2.6"/><path d="M57.5,92.8 l0.4,4.3"/><path d="M81.9,91.8 l-0.7,7.0"/><path d="M75.0,89.1 l0.9,2.1"/><path d="M26.8,54.8 l1.3,2.7"/><path d="M94.9,110.5 l1.1,3.5"/><path d="M45.2,64.1 l1.4,4.5"/><path d="M105.8,113.4 l-1.1,3.3"/><path d="M46.2,60.2 l0.5,4.3"/><path d="M62.5,86.6 l0.6,1.9"/><path d="M27.1,49.2 l0.5,2.1"/><path d="M40.4,72.3 l-0.3,6.5"/><path d="M83.9,94.9 l-1.3,3.7"/><path d="M33.7,71.2 l-0.5,2.2"/><path d="M98.3,115.3 l2.7,6.3"/><path d="M65.6,98.0 l-1.3,6.7"/><path d="M72.4,96.6 l2.0,5.8"/><path d="M21.0,55.8 l-0.5,2.6"/><path d="M69.1,93.4 l0.6,6.1"/><path d="M21.2,66.3 l0.3,5.0"/><path d="M75.7,102.5 l1.6,3.2"/><path d="M43.9,64.1 l-2.1,6.1"/><path d="M62.5,85.3 l-0.9,6.0"/><path d="M74.3,79.7 l0.9,2.8"/><path d="M84.0,101.9 l0.9,1.8"/><path d="M43.9,79.3 l1.6,5.8"/><path d="M64.8,86.1 l-0.7,2.6"/><path d="M39.1,83.0 l0.3,2.1"/><path d="M93.4,102.5 l1.2,3.4"/><path d="M101.4,113.6 l0.2,2.8"/><path d="M101.7,121.4 l-1.3,4.9"/><path d="M80.2,109.9 l2.4,4.3"/><path d="M20.0,57.1 l1.5,3.5"/><path d="M49.1,88.1 l-0.3,2.0"/><path d="M91.7,118.4 l-1.6,6.1"/><path d="M44.6,71.2 l0.1,8.0"/><path d="M51.0,71.5 l1.0,2.1"/><path d="M92.0,118.4 l1.0,3.3"/><path d="M63.2,82.9 l-1.9,7.5"/><path d="M91.3,116.4 l0.3,7.6"/><path d="M80.9,105.7 l-0.6,4.7"/><path d="M75.3,80.3 l3.0,6.9"/><path d="M60.4,78.4 l-2.1,6.1"/><path d="M43.1,66.7 l1.0,5.3"/></g>
<g clip-path="url(#cb1)" stroke="#c6cee0" stroke-opacity="0.55" stroke-width="0.8" fill="none" stroke-linecap="round"><path d="M33.0,58.7 l0.5,5.6"/><path d="M40.6,86.1 l1.5,3.5"/><path d="M34.9,64.2 l0.7,2.2"/><path d="M42.6,84.8 l0.8,4.9"/><path d="M56.0,77.6 l1.5,3.0"/><path d="M45.9,62.3 l-0.1,4.0"/><path d="M94.1,99.4 l0.5,2.9"/><path d="M60.6,94.0 l2.7,4.8"/><path d="M23.4,72.5 l0.0,3.9"/><path d="M19.3,71.6 l-1.2,5.2"/><path d="M103.9,100.4 l0.2,2.6"/><path d="M81.2,103.3 l-0.7,4.5"/><path d="M60.0,69.6 l1.6,4.9"/><path d="M100.9,103.6 l0.8,2.4"/><path d="M76.2,81.8 l0.2,2.3"/><path d="M70.3,82.3 l2.2,3.8"/><path d="M45.9,89.4 l-1.1,4.4"/><path d="M60.3,77.0 l-0.5,5.8"/><path d="M44.7,75.5 l0.7,4.6"/><path d="M42.9,85.9 l1.4,2.6"/><path d="M49.0,82.9 l-0.5,2.8"/><path d="M84.5,90.4 l1.5,5.7"/><path d="M90.5,95.4 l1.3,4.9"/><path d="M103.1,101.7 l0.5,2.9"/><path d="M79.8,84.5 l1.2,3.4"/><path d="M103.6,98.8 l0.4,2.2"/><path d="M99.9,115.6 l-1.7,5.7"/><path d="M47.3,90.3 l2.4,4.4"/><path d="M77.4,91.5 l1.2,3.1"/><path d="M19.1,54.0 l2.4,5.3"/><path d="M103.0,107.7 l-1.0,5.2"/><path d="M55.8,81.7 l-1.0,3.4"/><path d="M36.1,81.5 l0.3,2.1"/><path d="M91.9,89.4 l1.0,1.9"/><path d="M99.3,117.3 l1.3,5.4"/><path d="M45.4,77.2 l-0.3,3.0"/><path d="M46.5,60.7 l-1.4,4.8"/><path d="M77.0,79.0 l0.3,2.9"/><path d="M105.3,108.2 l0.4,3.0"/><path d="M64.6,76.1 l-0.6,5.2"/><path d="M92.9,107.6 l0.8,3.2"/><path d="M52.5,65.5 l-0.4,2.8"/><path d="M39.6,57.7 l1.0,4.1"/><path d="M107.1,128.1 l1.3,2.8"/><path d="M28.1,70.3 l1.2,3.6"/><path d="M56.7,87.0 l-1.1,4.9"/><path d="M76.4,106.0 l0.1,3.2"/><path d="M53.3,69.9 l0.9,2.8"/><path d="M34.7,69.4 l0.6,3.3"/><path d="M106.7,105.4 l-0.2,5.2"/><path d="M104.9,112.8 l-1.1,5.2"/><path d="M98.0,102.9 l0.9,2.3"/><path d="M105.3,125.9 l-0.8,3.4"/><path d="M58.1,92.0 l2.4,5.3"/><path d="M72.4,82.9 l1.4,3.2"/><path d="M36.6,72.8 l1.6,4.3"/><path d="M20.0,64.6 l0.7,2.7"/><path d="M38.7,71.2 l0.9,2.0"/><path d="M54.5,84.7 l0.9,2.2"/><path d="M80.3,90.4 l-1.0,3.1"/><path d="M47.3,71.4 l-0.8,3.6"/><path d="M106.5,104.5 l1.7,4.6"/><path d="M21.8,56.4 l0.9,5.2"/><path d="M96.9,97.1 l0.1,2.1"/><path d="M77.5,81.3 l0.9,4.4"/><path d="M62.5,79.8 l-1.1,3.9"/><path d="M29.2,73.9 l2.0,5.5"/><path d="M32.6,80.2 l1.8,3.5"/><path d="M100.4,122.5 l-0.9,4.4"/><path d="M34.9,58.7 l-0.8,3.5"/></g>
<g clip-path="url(#cb1)" stroke="#5f6a85" stroke-opacity="0.45" stroke-width="0.8" fill="none" stroke-linecap="round"><path d="M129.4,98.2 l0.3,4.3"/><path d="M121.5,105.4 l0.7,3.7"/><path d="M126.8,123.9 l-0.1,3.2"/><path d="M127.6,93.0 l2.1,7.7"/><path d="M123.6,111.4 l0.9,6.7"/><path d="M119.0,112.6 l-0.6,5.5"/><path d="M119.7,107.4 l-0.3,3.1"/><path d="M120.8,100.1 l-1.5,7.4"/><path d="M120.0,98.1 l1.6,5.6"/><path d="M111.6,107.1 l0.1,3.5"/><path d="M121.3,93.1 l2.0,6.5"/><path d="M127.0,119.6 l1.9,5.8"/><path d="M121.2,105.2 l2.2,8.4"/><path d="M130.2,127.5 l-1.6,7.2"/><path d="M113.2,126.9 l-1.9,5.7"/><path d="M131.7,97.5 l-2.3,7.4"/><path d="M110.0,104.2 l1.8,7.3"/><path d="M131.2,101.5 l1.9,7.7"/><path d="M121.1,124.7 l0.7,4.2"/><path d="M121.2,103.1 l0.7,3.1"/><path d="M112.4,125.3 l-1.9,6.8"/><path d="M112.6,119.9 l-0.1,3.7"/></g>
<g clip-path="url(#cb1)" stroke="#bcc5d8" stroke-opacity="0.5" stroke-width="0.7" fill="none" stroke-linecap="round"><path d="M124.5,104.6 l-0.2,5.5"/><path d="M123.1,123.4 l-0.8,2.3"/><path d="M124.4,105.8 l0.8,5.1"/><path d="M133.6,112.4 l-0.6,3.4"/><path d="M119.6,98.0 l1.5,4.7"/><path d="M129.2,100.7 l-1.5,4.3"/><path d="M123.2,115.5 l1.1,3.1"/><path d="M109.2,97.0 l0.2,4.5"/><path d="M121.4,123.8 l0.5,2.5"/><path d="M125.0,92.4 l0.2,2.0"/></g>
<polygon points="17.80,39.60 107.30,97.60 107.30,100.20 17.80,42.20" fill="#515c77" opacity="0.5"/>
<polygon points="107.30,97.60 134.80,87.20 134.80,89.40 107.30,99.80" fill="#515c77" opacity="0.4"/>
<path d="M3.00,24.30 L107.30,90.60 L134.80,80.50 M107.30,90.60 L107.30,97.60" stroke="#73001a" stroke-width="1.6" fill="none"/>
<polygon points="3.00,24.30 107.30,90.60 107.30,97.60 17.80,39.60 20.20,70.30 5.40,59.40" fill="#73001a" stroke="#73001a" stroke-width="0.4"/>
<polygon points="107.30,90.60 134.80,80.50 134.80,87.20 107.30,97.60" fill="#8c001d" stroke="#8c001d" stroke-width="0.3"/>
<polygon points="3.00,24.30 27.10,18.20 134.80,80.50 107.30,90.60" fill="#a00021" stroke="#a00021" stroke-width="0.4"/>
<text x="32.80" y="17.30" font-family="'Liberation Serif', serif" font-size="5.8" font-weight="bold" fill="#000" text-anchor="start" textLength="38.00" lengthAdjust="spacingAndGlyphs" transform="rotate(30.30 32.80 17.30)" stroke="#000" stroke-width="0.25">MetalEasy-OPT</text>
<polygon points="111.70,40.30 201.00,99.40 228.70,88.90 227.70,90.20 222.20,96.70 220.10,107.60 223.30,122.70 211.40,130.30 200.60,133.60 194.10,127.10 191.90,118.40 183.20,114.10 176.70,108.60 170.20,103.20 161.50,96.70 155.00,93.50 148.50,85.90 139.90,81.50 133.40,75.00 122.50,69.60 117.10,66.40 113.40,63.80" fill="url(#g2)" />
<polygon points="201.00,99.40 228.70,88.90 227.70,90.20 222.20,96.70 220.10,107.60 223.30,122.70 211.40,130.30 200.60,133.60" fill="#8792ab" />
<g clip-path="url(#cb2)" stroke="#4f5a74" stroke-opacity="0.5" stroke-width="0.9" fill="none" stroke-linecap="round"><path d="M122.3,56.9 l0.1,5.5"/><path d="M131.9,70.2 l-0.8,2.7"/><path d="M133.5,60.7 l-1.4,5.7"/><path d="M181.6,96.3 l-0.1,2.1"/><path d="M162.1,95.7 l-1.4,4.5"/><path d="M176.7,113.4 l0.1,2.3"/><path d="M148.0,68.7 l3.3,5.8"/><path d="M163.5,79.5 l-0.0,3.2"/><path d="M158.5,97.8 l0.8,3.0"/><path d="M138.0,88.5 l-0.7,6.7"/><path d="M115.5,67.4 l-0.6,4.8"/><path d="M152.0,72.8 l1.6,3.0"/><path d="M143.9,84.4 l-0.7,7.0"/><path d="M137.0,72.5 l0.5,6.7"/><path d="M137.3,88.8 l-0.8,3.2"/><path d="M113.9,52.1 l-1.9,6.2"/><path d="M178.1,113.4 l1.2,3.8"/><path d="M193.4,116.7 l-1.9,5.7"/><path d="M156.0,92.1 l1.0,7.1"/><path d="M177.2,94.4 l-0.1,3.3"/><path d="M122.0,52.8 l0.9,2.0"/><path d="M194.2,100.8 l1.0,1.9"/><path d="M174.7,104.7 l2.9,5.7"/><path d="M164.6,102.6 l-1.7,6.7"/><path d="M120.8,76.0 l3.2,7.0"/><path d="M130.0,56.6 l-1.3,7.0"/><path d="M170.3,99.3 l1.6,3.4"/><path d="M123.1,55.8 l0.6,3.9"/><path d="M114.4,53.9 l1.3,6.2"/><path d="M143.5,77.7 l-0.1,7.1"/><path d="M115.9,59.2 l1.5,6.5"/><path d="M175.3,90.4 l3.1,6.5"/><path d="M183.9,90.3 l-0.5,3.2"/><path d="M197.1,114.4 l-0.8,4.9"/><path d="M129.7,65.1 l2.0,6.7"/><path d="M195.2,103.9 l0.5,6.2"/><path d="M123.7,52.7 l-0.6,6.7"/><path d="M182.9,99.4 l0.8,4.3"/><path d="M189.8,121.8 l0.7,2.0"/><path d="M138.2,74.3 l-1.0,4.1"/><path d="M133.8,73.6 l-0.9,6.5"/><path d="M169.5,90.6 l-0.6,2.9"/><path d="M172.4,86.6 l-0.7,4.6"/><path d="M162.7,91.0 l2.3,6.9"/><path d="M129.5,76.6 l2.7,6.5"/><path d="M126.2,62.9 l1.9,4.8"/><path d="M141.0,92.7 l2.7,5.8"/><path d="M196.1,110.2 l-1.3,7.8"/><path d="M177.4,91.4 l2.4,5.3"/><path d="M131.2,56.7 l-0.7,4.3"/><path d="M174.2,102.7 l1.9,4.4"/><path d="M166.0,101.0 l1.1,7.4"/><path d="M164.7,89.4 l-0.4,3.4"/><path d="M191.6,115.3 l-0.5,7.1"/><path d="M169.5,89.9 l2.4,5.2"/><path d="M151.4,89.7 l1.7,5.5"/><path d="M150.4,87.1 l-0.3,4.4"/><path d="M193.6,116.7 l1.2,6.6"/><path d="M158.3,72.8 l2.0,4.9"/><path d="M183.7,104.2 l0.1,2.6"/><path d="M161.7,90.4 l-1.2,5.7"/><path d="M158.8,102.8 l-0.2,3.3"/><path d="M148.9,69.9 l1.7,7.7"/><path d="M117.6,59.5 l0.3,2.1"/><path d="M151.1,78.6 l1.2,3.4"/><path d="M180.2,102.1 l-0.6,3.3"/><path d="M146.7,70.1 l-1.2,6.5"/><path d="M168.9,97.2 l-1.0,3.2"/><path d="M145.0,89.3 l0.8,6.9"/><path d="M139.5,64.4 l1.5,6.8"/><path d="M187.0,103.6 l0.5,3.5"/><path d="M127.8,76.8 l1.1,3.5"/><path d="M139.9,74.3 l-0.3,5.8"/><path d="M147.0,90.9 l-0.5,2.3"/><path d="M193.9,99.4 l-0.2,7.0"/><path d="M112.9,74.3 l1.8,5.7"/><path d="M121.0,56.9 l1.5,6.5"/><path d="M128.5,77.1 l-0.8,2.9"/><path d="M167.9,99.0 l-1.2,7.3"/><path d="M185.7,112.8 l-0.6,5.1"/><path d="M153.4,85.9 l1.1,3.4"/><path d="M125.7,53.6 l1.9,4.4"/><path d="M156.5,88.4 l3.6,6.2"/><path d="M186.9,108.9 l-1.2,5.9"/><path d="M146.0,94.9 l-0.1,2.5"/><path d="M167.3,98.8 l-1.7,5.8"/><path d="M144.4,78.4 l-1.3,4.7"/><path d="M117.4,65.2 l-0.9,3.9"/><path d="M145.5,80.9 l2.2,6.2"/><path d="M151.3,85.7 l1.8,6.7"/><path d="M185.6,106.3 l0.3,3.6"/><path d="M199.4,123.5 l1.0,3.9"/><path d="M140.1,80.5 l3.1,5.9"/><path d="M178.3,101.7 l0.6,2.2"/><path d="M112.9,72.9 l-0.3,5.6"/><path d="M184.2,107.5 l-0.1,5.7"/><path d="M174.8,104.4 l-0.2,3.3"/><path d="M154.6,72.9 l1.5,2.7"/><path d="M182.9,108.0 l-0.8,4.1"/><path d="M182.6,96.3 l0.6,3.8"/><path d="M141.1,81.8 l3.5,6.8"/><path d="M161.3,79.7 l0.1,6.9"/><path d="M193.7,96.2 l0.0,4.3"/><path d="M197.5,111.6 l1.9,4.1"/><path d="M168.8,85.0 l1.0,1.8"/><path d="M171.8,112.5 l-0.6,2.5"/><path d="M122.9,73.5 l-0.4,3.4"/><path d="M128.1,78.5 l-1.4,6.1"/><path d="M175.7,104.6 l0.8,6.2"/><path d="M194.1,126.5 l3.1,5.5"/><path d="M115.4,70.1 l0.6,2.4"/><path d="M176.0,111.8 l2.2,4.4"/><path d="M146.0,78.3 l2.3,5.6"/><path d="M182.7,109.0 l0.9,5.7"/><path d="M148.4,95.0 l0.2,6.7"/><path d="M137.4,90.6 l-1.2,6.1"/><path d="M143.0,93.0 l-0.0,7.0"/><path d="M140.3,88.9 l-0.3,4.2"/><path d="M167.8,103.0 l1.8,3.2"/><path d="M136.2,77.0 l-1.7,6.7"/></g>
<g clip-path="url(#cb2)" stroke="#c6cee0" stroke-opacity="0.55" stroke-width="0.8" fill="none" stroke-linecap="round"><path d="M118.6,71.5 l0.1,5.5"/><path d="M138.9,84.4 l-1.3,4.6"/><path d="M142.2,80.7 l1.8,4.9"/><path d="M180.9,93.6 l-0.3,4.4"/><path d="M153.1,78.1 l-0.8,4.9"/><path d="M152.1,94.9 l1.6,4.8"/><path d="M165.8,104.1 l0.4,4.1"/><path d="M163.8,83.2 l-0.2,2.7"/><path d="M145.5,76.9 l1.6,3.8"/><path d="M119.4,58.1 l-0.1,2.4"/><path d="M181.0,106.9 l0.2,3.4"/><path d="M113.5,75.8 l0.5,5.4"/><path d="M162.2,100.1 l-1.1,3.5"/><path d="M181.9,117.1 l1.4,2.7"/><path d="M129.9,57.9 l0.1,2.2"/><path d="M189.5,122.5 l2.5,5.0"/><path d="M165.4,81.4 l1.7,5.6"/><path d="M163.5,105.5 l0.8,4.6"/><path d="M151.4,99.2 l1.9,5.6"/><path d="M116.0,57.0 l-1.5,5.4"/><path d="M185.0,115.6 l-0.2,4.8"/><path d="M197.9,104.1 l-1.5,4.8"/><path d="M171.9,100.5 l2.1,4.6"/><path d="M140.9,66.1 l1.4,3.7"/><path d="M133.0,78.4 l-0.2,2.0"/><path d="M128.8,83.7 l-0.8,2.8"/><path d="M190.9,97.2 l1.6,3.4"/><path d="M196.1,115.9 l0.9,3.7"/><path d="M185.4,109.9 l0.8,2.4"/><path d="M119.4,64.3 l-0.6,2.5"/><path d="M136.5,63.8 l-0.6,3.0"/><path d="M141.5,78.1 l-0.9,3.2"/><path d="M125.5,52.2 l-0.3,5.6"/><path d="M131.9,64.7 l1.0,2.8"/><path d="M147.4,95.5 l2.4,5.2"/><path d="M140.4,62.1 l1.3,4.7"/><path d="M197.2,124.2 l1.3,3.1"/><path d="M115.1,60.4 l0.4,2.7"/><path d="M192.2,113.1 l0.9,2.4"/><path d="M181.8,93.5 l1.0,2.1"/><path d="M166.8,86.8 l-0.0,2.8"/><path d="M176.7,102.0 l1.3,2.5"/><path d="M177.3,107.7 l-0.4,2.2"/><path d="M144.2,89.7 l1.9,3.5"/><path d="M193.1,122.4 l1.1,2.9"/><path d="M185.7,96.0 l0.0,3.5"/><path d="M114.0,58.0 l1.6,3.7"/><path d="M177.3,111.1 l-0.3,3.3"/><path d="M147.9,67.4 l-1.7,5.2"/><path d="M156.9,88.3 l2.0,3.6"/><path d="M197.0,104.2 l0.7,2.3"/><path d="M183.1,93.1 l1.7,4.5"/><path d="M115.5,62.8 l-0.4,4.1"/><path d="M124.0,72.0 l0.9,2.0"/><path d="M156.7,80.5 l0.4,2.5"/><path d="M125.9,78.4 l0.1,2.6"/><path d="M177.5,111.7 l1.1,5.7"/><path d="M151.7,84.0 l-1.1,3.4"/><path d="M180.8,95.3 l0.5,3.3"/><path d="M200.6,127.6 l-1.1,5.1"/><path d="M118.3,76.7 l1.7,5.5"/><path d="M151.0,79.1 l1.8,3.7"/><path d="M151.4,69.0 l-0.8,2.4"/><path d="M183.2,107.4 l-1.3,5.1"/><path d="M189.1,113.8 l-0.2,3.1"/><path d="M137.6,88.0 l1.3,4.3"/><path d="M158.8,102.8 l0.8,3.0"/><path d="M168.7,98.9 l0.4,5.8"/><path d="M136.9,75.7 l1.0,2.4"/><path d="M124.2,64.0 l1.0,3.0"/></g>
<g clip-path="url(#cb2)" stroke="#5f6a85" stroke-opacity="0.45" stroke-width="0.8" fill="none" stroke-linecap="round"><path d="M204.3,113.1 l-0.6,8.0"/><path d="M216.7,116.8 l-0.6,4.2"/><path d="M213.8,113.1 l0.1,6.7"/><path d="M210.0,102.1 l-0.0,4.3"/><path d="M211.8,114.5 l0.3,3.1"/><path d="M224.1,102.0 l0.0,6.3"/><path d="M209.3,129.0 l-0.9,4.7"/><path d="M206.1,95.8 l0.3,8.2"/><path d="M203.6,107.4 l-0.9,5.6"/><path d="M204.8,101.5 l-1.5,8.6"/><path d="M206.0,105.5 l-0.6,5.1"/><path d="M217.8,124.0 l-0.1,7.9"/><path d="M221.0,120.2 l0.1,7.6"/><path d="M222.2,118.9 l2.2,8.2"/><path d="M224.4,93.6 l-0.5,7.6"/><path d="M214.8,128.1 l0.4,6.4"/><path d="M222.1,124.8 l0.6,6.6"/><path d="M213.6,109.9 l1.1,7.3"/><path d="M212.0,113.4 l0.7,5.3"/><path d="M222.2,124.0 l0.2,6.0"/><path d="M206.7,104.3 l-0.2,3.9"/><path d="M216.9,96.6 l1.0,8.5"/></g>
<g clip-path="url(#cb2)" stroke="#bcc5d8" stroke-opacity="0.5" stroke-width="0.7" fill="none" stroke-linecap="round"><path d="M223.7,123.6 l1.2,5.7"/><path d="M213.0,126.2 l0.6,1.9"/><path d="M216.5,111.3 l-1.1,5.6"/><path d="M215.8,129.3 l-0.0,4.1"/><path d="M219.6,107.4 l-0.2,3.4"/><path d="M211.0,127.5 l-0.1,4.7"/><path d="M204.5,106.9 l-0.2,3.6"/><path d="M216.8,125.1 l0.1,5.9"/><path d="M213.3,115.9 l0.7,5.9"/><path d="M215.6,122.8 l0.3,2.7"/></g>
<polygon points="111.70,40.30 201.00,99.40 201.00,102.00 111.70,42.90" fill="#515c77" opacity="0.5"/>
<polygon points="201.00,99.40 228.70,88.90 228.70,91.10 201.00,101.60" fill="#515c77" opacity="0.4"/>
<path d="M96.90,25.60 L201.00,92.80 L228.70,82.60 M201.00,92.80 L201.00,99.40" stroke="#73001a" stroke-width="1.6" fill="none"/>
<polygon points="96.90,25.60 201.00,92.80 201.00,99.40 111.70,40.30 113.40,63.80 99.80,60.90" fill="#73001a" stroke="#73001a" stroke-width="0.4"/>
<polygon points="201.00,92.80 228.70,82.60 228.70,88.90 201.00,99.40" fill="#8c001d" stroke="#8c001d" stroke-width="0.3"/>
<polygon points="96.90,25.60 121.40,19.70 228.70,82.60 201.00,92.80" fill="#a00021" stroke="#a00021" stroke-width="0.4"/>
<text x="125.00" y="17.30" font-family="'Liberation Serif', serif" font-size="5.8" font-weight="bold" fill="#000" text-anchor="start" textLength="45.00" lengthAdjust="spacingAndGlyphs" transform="rotate(31.10 125.00 17.30)" stroke="#000" stroke-width="0.25">GravityEasy-OPT</text>
<polygon points="200.60,39.30 290.60,96.80 317.70,86.10 317.00,88.00 316.60,122.70 292.70,133.60 287.30,129.20 286.20,120.60 283.00,114.10 273.20,107.60 262.40,100.00 251.50,91.30 240.70,83.70 229.90,77.20 217.90,72.90 214.70,66.80 207.10,66.80 202.80,65.30" fill="url(#g3)" />
<polygon points="290.60,96.80 317.70,86.10 317.00,88.00 316.60,122.70 292.70,133.60" fill="#8792ab" />
<g clip-path="url(#cb3)" stroke="#4f5a74" stroke-opacity="0.5" stroke-width="0.9" fill="none" stroke-linecap="round"><path d="M290.0,112.5 l-0.7,2.6"/><path d="M264.8,111.4 l1.1,7.2"/><path d="M216.0,67.1 l1.8,4.7"/><path d="M219.6,71.4 l-1.4,3.9"/><path d="M257.0,90.5 l1.7,6.5"/><path d="M261.6,90.2 l0.1,7.1"/><path d="M260.4,94.9 l1.5,5.1"/><path d="M259.8,109.2 l0.9,5.4"/><path d="M212.4,72.9 l1.1,2.4"/><path d="M218.2,77.5 l-1.0,5.6"/><path d="M206.6,69.9 l-0.4,3.9"/><path d="M232.8,70.4 l-0.7,2.5"/><path d="M253.5,88.7 l2.0,3.8"/><path d="M281.4,121.5 l-0.1,4.6"/><path d="M223.1,85.2 l1.8,6.9"/><path d="M283.0,101.6 l-1.7,5.3"/><path d="M248.3,77.5 l-0.4,4.3"/><path d="M221.8,82.0 l-0.8,4.8"/><path d="M223.1,67.2 l-1.0,3.0"/><path d="M228.8,62.2 l1.0,5.1"/><path d="M236.7,68.7 l1.5,6.8"/><path d="M223.3,64.9 l1.6,3.0"/><path d="M260.6,84.1 l2.7,5.6"/><path d="M228.1,61.5 l-1.0,4.6"/><path d="M272.2,98.0 l1.2,6.2"/><path d="M285.8,125.0 l1.6,4.8"/><path d="M241.3,89.5 l-0.9,3.4"/><path d="M254.0,82.7 l1.9,5.3"/><path d="M277.9,106.7 l1.5,5.0"/><path d="M270.2,105.6 l1.3,5.2"/><path d="M235.6,69.6 l1.7,6.9"/><path d="M259.5,96.6 l0.4,4.2"/><path d="M227.4,68.7 l1.3,3.1"/><path d="M265.0,94.7 l-1.1,7.4"/><path d="M281.8,95.4 l1.7,3.2"/><path d="M263.2,91.0 l-0.2,4.5"/><path d="M263.3,107.5 l-0.1,4.1"/><path d="M217.5,80.9 l-0.6,6.4"/><path d="M204.9,49.9 l0.8,3.1"/><path d="M234.6,73.3 l2.1,5.4"/><path d="M276.8,111.2 l0.5,3.5"/><path d="M262.4,80.4 l-1.1,6.9"/><path d="M226.4,84.9 l2.6,5.0"/><path d="M223.0,80.6 l-0.9,3.1"/><path d="M267.0,105.5 l-0.6,4.3"/><path d="M274.7,91.1 l1.2,7.6"/><path d="M285.3,116.8 l-0.2,7.0"/><path d="M241.0,89.2 l0.4,4.6"/><path d="M282.8,117.5 l-0.2,2.3"/><path d="M272.7,104.0 l-0.3,7.8"/><path d="M249.7,74.5 l0.7,4.1"/><path d="M220.0,58.0 l-0.4,6.2"/><path d="M222.9,71.7 l-1.3,4.5"/><path d="M233.1,89.4 l0.1,2.8"/><path d="M233.6,78.0 l2.4,6.1"/><path d="M261.8,93.7 l-1.3,6.5"/><path d="M212.3,60.1 l1.5,2.9"/><path d="M226.5,79.9 l1.9,4.3"/><path d="M231.4,71.8 l1.3,2.7"/><path d="M206.1,66.5 l-0.3,2.5"/><path d="M289.1,100.1 l0.7,4.9"/><path d="M219.9,53.3 l-0.3,7.5"/><path d="M259.8,97.5 l1.1,3.3"/><path d="M213.4,74.3 l1.8,6.8"/><path d="M219.9,79.1 l2.8,7.0"/><path d="M273.1,108.9 l1.4,3.7"/><path d="M274.6,99.6 l1.1,5.2"/><path d="M274.8,89.8 l-0.1,5.4"/><path d="M275.7,115.9 l0.7,7.6"/><path d="M245.5,79.5 l2.4,4.9"/><path d="M262.0,94.3 l3.4,7.1"/><path d="M206.4,50.7 l3.2,5.5"/><path d="M278.1,113.4 l1.2,4.4"/><path d="M261.1,92.2 l0.6,4.0"/><path d="M262.7,107.4 l0.8,2.9"/><path d="M242.2,77.9 l1.4,2.9"/><path d="M231.3,90.6 l-1.7,7.3"/><path d="M290.2,115.6 l3.1,6.1"/><path d="M262.7,89.2 l-1.6,5.2"/><path d="M245.8,78.4 l-1.0,3.9"/><path d="M204.3,65.2 l2.0,4.2"/><path d="M260.4,97.1 l0.3,4.5"/><path d="M252.1,77.3 l-0.8,3.0"/><path d="M249.5,99.6 l1.5,3.2"/><path d="M248.6,87.1 l1.7,5.0"/><path d="M251.7,90.1 l2.4,5.0"/><path d="M237.1,78.8 l0.3,7.2"/><path d="M266.7,85.6 l-0.8,7.9"/><path d="M213.4,60.4 l-0.9,2.9"/><path d="M253.5,77.9 l3.0,5.9"/><path d="M223.4,56.2 l1.8,5.3"/><path d="M230.2,72.4 l-0.1,7.3"/><path d="M279.7,119.2 l2.7,6.7"/><path d="M267.7,107.4 l-1.2,6.0"/><path d="M213.4,72.2 l-0.8,7.6"/><path d="M207.4,48.1 l-0.9,5.2"/><path d="M214.7,69.8 l1.2,3.3"/><path d="M243.6,85.3 l1.3,2.3"/><path d="M214.0,54.4 l1.4,5.1"/><path d="M262.8,85.0 l0.4,7.2"/><path d="M264.7,110.1 l0.5,2.0"/><path d="M216.4,78.0 l3.2,6.0"/><path d="M220.4,73.7 l0.5,4.3"/><path d="M218.4,63.5 l-0.1,7.2"/><path d="M209.1,53.5 l0.1,7.4"/><path d="M205.7,56.2 l0.1,4.8"/><path d="M236.5,64.2 l1.3,5.3"/><path d="M204.8,74.3 l0.9,2.1"/><path d="M260.9,88.1 l1.5,4.8"/><path d="M253.0,103.7 l3.8,7.0"/><path d="M253.3,100.6 l-0.2,6.6"/><path d="M258.1,86.4 l-1.6,6.6"/><path d="M286.0,103.8 l-0.8,6.5"/><path d="M248.2,81.6 l0.9,5.2"/><path d="M207.8,56.0 l0.8,7.9"/><path d="M234.2,70.2 l1.6,3.8"/><path d="M205.3,57.1 l0.1,4.7"/><path d="M228.3,61.4 l1.0,3.7"/><path d="M266.9,111.8 l-1.1,3.9"/><path d="M252.5,80.3 l-1.8,5.2"/></g>
<g clip-path="url(#cb3)" stroke="#c6cee0" stroke-opacity="0.55" stroke-width="0.8" fill="none" stroke-linecap="round"><path d="M235.5,75.6 l2.5,4.9"/><path d="M247.1,77.9 l1.5,2.7"/><path d="M216.6,73.5 l0.5,2.8"/><path d="M221.1,80.5 l1.6,4.3"/><path d="M269.2,101.7 l-0.4,2.3"/><path d="M279.1,95.2 l0.2,2.7"/><path d="M280.3,119.5 l0.7,2.8"/><path d="M269.3,96.5 l1.1,4.6"/><path d="M207.8,47.2 l1.0,4.4"/><path d="M246.8,77.9 l1.9,3.4"/><path d="M284.3,124.3 l-0.0,2.2"/><path d="M265.8,85.5 l1.0,2.4"/><path d="M268.6,110.2 l0.2,3.7"/><path d="M254.8,95.5 l1.0,4.3"/><path d="M267.0,105.6 l-0.8,5.0"/><path d="M231.3,90.0 l1.1,3.7"/><path d="M250.7,75.6 l0.2,2.0"/><path d="M261.6,90.0 l1.9,5.6"/><path d="M267.7,85.2 l1.2,2.3"/><path d="M247.3,75.9 l1.2,5.6"/><path d="M214.9,73.7 l2.1,5.3"/><path d="M206.8,51.7 l0.5,5.9"/><path d="M258.2,102.5 l0.9,3.7"/><path d="M280.6,115.2 l-0.1,2.3"/><path d="M239.8,66.6 l0.7,4.2"/><path d="M285.3,112.8 l0.9,2.8"/><path d="M225.8,64.3 l-0.4,2.8"/><path d="M258.6,108.9 l0.1,2.9"/><path d="M218.3,78.2 l-0.4,3.0"/><path d="M274.2,98.3 l-1.0,3.8"/><path d="M218.0,70.1 l0.1,3.8"/><path d="M279.2,118.7 l-0.5,3.4"/><path d="M277.4,117.0 l1.6,5.8"/><path d="M203.7,74.2 l-0.5,2.0"/><path d="M217.3,54.0 l-0.2,2.7"/><path d="M210.4,76.1 l-1.2,4.7"/><path d="M287.0,103.9 l-0.4,5.2"/><path d="M206.5,51.9 l1.6,3.4"/><path d="M206.9,53.5 l2.2,5.0"/><path d="M244.3,82.8 l-0.2,2.7"/><path d="M217.0,66.3 l0.5,2.4"/><path d="M248.2,80.8 l-0.9,2.7"/><path d="M281.3,99.8 l0.8,2.6"/><path d="M207.4,62.2 l0.1,3.6"/><path d="M232.9,84.0 l0.2,4.6"/><path d="M251.9,103.4 l-0.6,5.5"/><path d="M237.3,77.6 l1.1,5.8"/><path d="M236.5,68.3 l3.0,5.2"/><path d="M258.0,84.1 l0.9,4.4"/><path d="M223.0,59.5 l-0.9,5.3"/><path d="M280.8,114.3 l-0.1,3.3"/><path d="M250.4,103.0 l-0.3,2.0"/><path d="M277.8,108.1 l1.9,5.7"/><path d="M259.2,89.1 l0.9,4.8"/><path d="M249.6,92.6 l-0.1,3.3"/><path d="M249.5,91.6 l-0.8,2.9"/><path d="M245.4,84.9 l1.3,3.7"/><path d="M217.3,66.8 l0.3,4.1"/><path d="M273.2,92.8 l0.6,5.2"/><path d="M260.5,105.7 l2.6,4.8"/><path d="M237.8,89.0 l0.9,2.3"/><path d="M223.6,67.5 l0.4,5.2"/><path d="M241.1,79.9 l-0.5,6.0"/><path d="M242.4,92.2 l1.9,4.7"/><path d="M262.1,96.3 l0.6,2.9"/><path d="M232.4,61.9 l0.1,2.8"/><path d="M206.9,68.1 l0.7,3.0"/><path d="M225.6,58.8 l-1.0,4.4"/><path d="M220.5,78.3 l0.9,4.4"/><path d="M206.8,56.4 l1.3,4.7"/></g>
<g clip-path="url(#cb3)" stroke="#5f6a85" stroke-opacity="0.45" stroke-width="0.8" fill="none" stroke-linecap="round"><path d="M301.8,114.1 l0.8,7.8"/><path d="M301.3,111.6 l1.8,8.4"/><path d="M316.0,116.4 l-0.6,5.2"/><path d="M299.9,93.3 l0.6,7.5"/><path d="M304.8,108.7 l-1.5,8.3"/><path d="M292.2,112.1 l0.2,5.8"/><path d="M312.7,105.7 l-1.6,5.6"/><path d="M302.6,108.5 l-1.4,5.9"/><path d="M308.4,117.5 l1.7,5.1"/><path d="M308.7,110.7 l-1.4,7.5"/><path d="M294.6,98.7 l-0.8,3.4"/><path d="M294.2,94.0 l-0.3,7.5"/><path d="M293.0,115.3 l0.1,7.3"/><path d="M293.0,115.7 l-0.3,5.5"/><path d="M316.7,120.2 l2.0,8.0"/><path d="M300.0,109.5 l-1.0,2.9"/><path d="M298.5,100.2 l0.8,4.8"/><path d="M313.2,110.8 l0.3,6.1"/><path d="M292.9,101.8 l-1.7,8.0"/><path d="M313.1,100.1 l1.3,4.0"/><path d="M305.1,104.3 l0.0,5.8"/><path d="M306.3,104.0 l1.6,7.6"/></g>
<g clip-path="url(#cb3)" stroke="#bcc5d8" stroke-opacity="0.5" stroke-width="0.7" fill="none" stroke-linecap="round"><path d="M314.7,110.8 l0.3,2.2"/><path d="M305.0,105.5 l0.5,4.2"/><path d="M298.5,119.5 l-0.5,3.1"/><path d="M311.7,112.1 l-1.1,3.6"/><path d="M302.8,122.4 l0.1,2.2"/><path d="M307.6,92.6 l1.6,5.2"/><path d="M306.6,97.3 l-0.2,5.7"/><path d="M311.7,108.7 l-0.6,4.7"/><path d="M299.0,98.4 l1.3,5.2"/><path d="M314.6,98.2 l0.7,2.3"/></g>
<polygon points="200.60,39.30 290.60,96.80 290.60,99.40 200.60,41.90" fill="#515c77" opacity="0.5"/>
<polygon points="290.60,96.80 317.70,86.10 317.70,88.30 290.60,99.00" fill="#515c77" opacity="0.4"/>
<path d="M186.50,24.10 L290.60,89.80 L317.70,79.40 M290.60,89.80 L290.60,96.80" stroke="#73001a" stroke-width="1.6" fill="none"/>
<polygon points="186.50,24.10 290.60,89.80 290.60,96.80 200.60,39.30 202.80,65.30 190.80,58.80" fill="#73001a" stroke="#73001a" stroke-width="0.4"/>
<polygon points="290.60,89.80 317.70,79.40 317.70,86.10 290.60,96.80" fill="#8c001d" stroke="#8c001d" stroke-width="0.3"/>
<polygon points="186.50,24.10 210.30,18.20 317.70,79.40 290.60,89.80" fill="#a00021" stroke="#a00021" stroke-width="0.4"/>
<text x="215.00" y="15.80" font-family="'Liberation Serif', serif" font-size="5.8" font-weight="bold" fill="#000" text-anchor="start" textLength="27.00" lengthAdjust="spacingAndGlyphs" transform="rotate(32.60 215.00 15.80)" stroke="#000" stroke-width="0.25">Metal-OPT</text>
<polygon points="296.70,42.10 385.60,98.60 413.30,87.50 412.00,89.10 406.20,96.70 405.10,107.50 407.20,122.70 387.70,133.60 378.00,128.10 376.90,118.40 372.50,116.20 363.90,113.00 357.40,107.50 350.90,101.00 344.40,96.70 335.70,90.20 329.20,87.00 321.60,82.60 318.40,74.00 311.90,71.80 305.30,68.50 298.80,66.80" fill="url(#g4)" />
<polygon points="385.60,98.60 413.30,87.50 412.00,89.10 406.20,96.70 405.10,107.50 407.20,122.70 387.70,133.60 378.00,128.10" fill="#8792ab" />
<g clip-path="url(#cb4)" stroke="#4f5a74" stroke-opacity="0.5" stroke-width="0.9" fill="none" stroke-linecap="round"><path d="M368.7,100.8 l1.8,5.7"/><path d="M378.2,99.3 l-0.2,2.3"/><path d="M304.0,56.9 l0.1,3.4"/><path d="M326.9,67.5 l1.8,7.3"/><path d="M370.5,115.8 l1.4,7.8"/><path d="M301.5,67.2 l0.2,3.3"/><path d="M307.0,73.1 l-0.3,4.6"/><path d="M310.3,55.5 l-2.6,7.1"/><path d="M380.5,105.3 l-0.5,4.1"/><path d="M343.8,75.2 l-1.1,4.8"/><path d="M351.0,80.6 l0.8,2.7"/><path d="M377.7,100.9 l3.6,6.6"/><path d="M352.8,88.6 l-0.4,7.7"/><path d="M302.7,62.2 l-0.4,3.5"/><path d="M315.7,64.4 l0.1,2.4"/><path d="M307.6,75.1 l0.7,5.5"/><path d="M302.1,50.3 l2.3,5.4"/><path d="M348.5,88.4 l2.2,5.6"/><path d="M315.5,65.0 l-1.7,6.9"/><path d="M339.2,74.4 l3.0,6.6"/><path d="M342.1,76.0 l1.8,4.5"/><path d="M345.4,85.8 l0.5,3.1"/><path d="M315.2,63.9 l0.6,7.2"/><path d="M374.2,122.9 l-0.8,4.9"/><path d="M349.2,83.5 l2.5,6.0"/><path d="M320.1,72.0 l1.4,4.9"/><path d="M374.5,111.6 l0.0,3.4"/><path d="M367.8,89.8 l0.0,3.5"/><path d="M382.3,117.8 l-1.1,6.0"/><path d="M329.9,78.3 l3.7,6.6"/><path d="M380.1,109.0 l0.8,2.4"/><path d="M363.3,89.9 l1.6,3.7"/><path d="M315.1,66.5 l-2.7,7.4"/><path d="M367.5,103.7 l-1.8,6.4"/><path d="M364.6,92.3 l-1.2,5.6"/><path d="M365.5,110.3 l1.5,3.8"/><path d="M383.3,120.9 l-0.6,2.8"/><path d="M381.8,119.3 l-1.2,6.9"/><path d="M349.9,103.0 l-1.6,6.5"/><path d="M326.8,78.2 l3.1,7.0"/><path d="M384.0,105.7 l2.2,6.7"/><path d="M316.0,63.6 l-1.3,4.8"/><path d="M359.2,94.7 l-1.1,6.6"/><path d="M359.9,108.0 l1.9,4.0"/><path d="M356.9,91.3 l-1.1,5.5"/><path d="M365.7,103.6 l0.9,1.9"/><path d="M369.0,108.2 l1.1,4.6"/><path d="M317.0,83.2 l1.5,5.5"/><path d="M305.8,72.0 l-0.2,4.6"/><path d="M367.4,110.3 l-0.4,2.2"/><path d="M314.1,85.2 l1.3,4.0"/><path d="M376.5,121.4 l0.4,4.3"/><path d="M381.8,127.9 l-0.6,3.1"/><path d="M313.2,54.3 l-0.9,2.9"/><path d="M339.6,77.9 l1.7,3.7"/><path d="M348.3,91.3 l-1.2,4.1"/><path d="M377.1,96.2 l0.8,5.7"/><path d="M381.4,117.8 l1.1,5.7"/><path d="M345.0,101.9 l1.0,4.9"/><path d="M381.8,124.2 l0.2,6.1"/><path d="M338.8,97.3 l-0.8,6.3"/><path d="M301.4,51.6 l-1.9,7.5"/><path d="M311.9,71.2 l0.4,2.2"/><path d="M364.3,94.6 l1.8,6.3"/><path d="M345.9,105.3 l-1.0,5.8"/><path d="M357.1,112.0 l-0.5,6.2"/><path d="M321.7,78.3 l-1.2,6.9"/><path d="M327.7,80.3 l2.7,6.7"/><path d="M361.6,95.1 l0.6,2.2"/><path d="M334.1,96.0 l0.8,3.0"/><path d="M379.5,106.5 l1.9,4.2"/><path d="M321.2,71.5 l2.2,7.5"/><path d="M318.4,70.5 l-0.2,7.0"/><path d="M365.7,92.3 l0.7,6.5"/><path d="M348.1,99.1 l0.8,3.6"/><path d="M378.6,104.1 l1.7,5.5"/><path d="M364.0,112.9 l1.2,5.3"/><path d="M379.5,103.9 l0.1,2.4"/><path d="M365.0,99.1 l2.8,6.2"/><path d="M326.2,92.1 l-0.5,5.8"/><path d="M365.7,116.6 l1.4,6.3"/><path d="M334.3,77.6 l-0.7,3.0"/><path d="M345.2,95.0 l2.9,6.8"/><path d="M326.7,76.6 l-1.1,4.9"/><path d="M357.2,94.1 l1.5,5.2"/><path d="M373.3,117.2 l-0.2,2.9"/><path d="M364.3,114.1 l-0.9,7.3"/><path d="M370.7,117.2 l-0.3,2.8"/><path d="M360.4,92.1 l-0.0,2.4"/><path d="M369.5,96.7 l1.4,3.0"/><path d="M359.5,106.9 l-0.4,4.1"/><path d="M306.7,59.5 l-0.1,2.0"/><path d="M310.2,54.8 l0.2,4.7"/><path d="M367.1,114.8 l0.9,2.5"/><path d="M352.9,89.8 l1.8,5.1"/><path d="M366.6,114.4 l0.4,6.8"/><path d="M302.8,48.0 l0.8,5.0"/><path d="M305.1,71.4 l1.0,5.4"/><path d="M343.7,80.2 l-2.4,6.8"/><path d="M370.5,99.2 l3.5,7.1"/><path d="M339.0,85.4 l-0.6,6.1"/><path d="M337.8,76.0 l1.2,4.2"/><path d="M316.8,72.0 l1.6,4.3"/><path d="M358.8,91.8 l-0.5,5.3"/><path d="M384.3,127.5 l-0.8,7.5"/><path d="M359.6,90.8 l-0.5,2.0"/><path d="M362.1,92.7 l1.5,3.8"/><path d="M355.7,89.2 l0.8,2.1"/><path d="M331.4,89.7 l2.0,4.3"/><path d="M306.9,75.4 l-1.6,4.5"/><path d="M379.1,109.6 l2.8,6.4"/><path d="M308.8,67.1 l1.0,3.1"/><path d="M302.6,68.7 l-2.5,7.3"/><path d="M337.8,81.0 l-1.4,6.7"/><path d="M308.7,59.4 l1.1,5.4"/><path d="M301.2,70.4 l2.2,4.2"/><path d="M376.1,95.8 l-0.1,3.9"/><path d="M375.6,113.2 l1.0,3.1"/><path d="M377.0,97.7 l2.2,5.1"/><path d="M316.2,74.5 l-0.5,5.8"/></g>
<g clip-path="url(#cb4)" stroke="#c6cee0" stroke-opacity="0.55" stroke-width="0.8" fill="none" stroke-linecap="round"><path d="M335.4,91.7 l0.2,2.2"/><path d="M334.4,89.3 l-0.1,3.0"/><path d="M358.8,87.3 l0.0,5.6"/><path d="M303.5,79.5 l0.5,2.9"/><path d="M368.6,107.8 l2.3,4.4"/><path d="M309.1,75.5 l1.0,1.9"/><path d="M321.6,65.3 l-1.3,4.5"/><path d="M356.0,88.2 l1.3,2.3"/><path d="M363.0,116.6 l1.7,4.5"/><path d="M367.6,105.0 l-0.4,2.4"/><path d="M377.7,93.7 l0.2,5.4"/><path d="M370.2,109.2 l-0.8,4.3"/><path d="M304.0,66.6 l0.6,3.1"/><path d="M300.7,46.7 l-1.0,5.2"/><path d="M337.2,90.4 l0.4,2.8"/><path d="M310.5,68.4 l1.5,3.1"/><path d="M363.7,111.3 l0.5,2.4"/><path d="M326.3,66.5 l-1.4,4.2"/><path d="M363.6,89.4 l-0.2,2.4"/><path d="M351.0,92.0 l-0.0,3.6"/><path d="M356.9,103.3 l-1.4,5.0"/><path d="M372.4,91.7 l-1.0,4.6"/><path d="M337.9,74.4 l0.8,5.7"/><path d="M359.2,93.0 l0.8,3.3"/><path d="M307.0,81.0 l-1.3,4.4"/><path d="M366.4,117.6 l1.4,4.8"/><path d="M320.3,59.7 l-0.7,2.8"/><path d="M378.1,119.2 l-1.3,4.9"/><path d="M368.0,91.7 l1.3,5.1"/><path d="M352.8,96.1 l2.2,5.4"/><path d="M345.6,90.9 l1.0,5.7"/><path d="M378.9,124.9 l0.8,2.2"/><path d="M325.6,61.5 l-0.3,3.0"/><path d="M383.4,112.6 l-0.4,4.7"/><path d="M364.6,93.6 l1.5,2.7"/><path d="M357.7,90.9 l-0.2,5.9"/><path d="M350.8,96.0 l1.2,4.6"/><path d="M302.9,49.4 l1.3,3.2"/><path d="M308.8,81.7 l1.3,4.6"/><path d="M364.4,90.2 l0.5,3.2"/><path d="M358.5,105.4 l-0.7,2.3"/><path d="M330.0,65.0 l1.7,5.0"/><path d="M374.3,112.5 l1.5,2.7"/><path d="M317.1,60.7 l0.1,4.6"/><path d="M355.0,85.7 l-0.8,2.3"/><path d="M332.8,83.9 l1.3,2.6"/><path d="M301.8,50.3 l1.2,5.7"/><path d="M360.2,109.0 l0.6,2.9"/><path d="M342.8,81.5 l1.4,5.0"/><path d="M333.1,73.0 l0.9,2.6"/><path d="M331.8,86.2 l-0.9,3.8"/><path d="M304.1,74.2 l1.4,2.6"/><path d="M335.5,83.5 l2.1,4.4"/><path d="M309.2,57.3 l0.4,2.9"/><path d="M307.6,63.1 l-1.1,3.7"/><path d="M345.4,82.4 l0.2,5.0"/><path d="M376.2,119.2 l-0.7,2.3"/><path d="M343.4,79.2 l1.8,5.1"/><path d="M305.3,78.6 l-0.4,3.8"/><path d="M305.3,59.4 l-0.2,2.8"/><path d="M328.8,95.6 l1.4,3.7"/><path d="M300.6,62.0 l0.2,2.1"/><path d="M363.3,92.8 l-0.0,4.0"/><path d="M354.0,105.6 l-0.7,5.7"/><path d="M372.7,119.9 l0.9,2.6"/><path d="M352.4,80.4 l1.4,2.5"/><path d="M335.6,75.2 l0.1,5.0"/><path d="M380.0,117.4 l-0.6,2.0"/><path d="M319.2,74.0 l0.5,5.8"/><path d="M385.4,105.9 l1.8,5.0"/></g>
<g clip-path="url(#cb4)" stroke="#5f6a85" stroke-opacity="0.45" stroke-width="0.8" fill="none" stroke-linecap="round"><path d="M412.3,109.0 l-1.4,4.1"/><path d="M394.9,107.3 l-0.6,5.0"/><path d="M387.2,106.1 l-0.9,3.9"/><path d="M386.6,114.5 l0.1,4.5"/><path d="M401.0,118.2 l0.7,3.8"/><path d="M389.7,127.2 l1.0,3.8"/><path d="M400.0,113.5 l2.5,7.9"/><path d="M392.6,98.6 l0.2,6.5"/><path d="M397.1,124.6 l-1.7,6.8"/><path d="M411.2,102.3 l0.6,8.6"/><path d="M387.9,125.5 l1.2,3.4"/><path d="M394.0,103.0 l-2.3,8.5"/><path d="M397.4,111.7 l-1.7,7.9"/><path d="M403.4,111.1 l0.7,3.6"/><path d="M403.5,113.7 l-2.1,7.5"/><path d="M411.3,99.5 l-0.9,3.3"/><path d="M401.3,99.1 l1.2,7.0"/><path d="M392.7,105.8 l-0.8,6.1"/><path d="M388.5,119.3 l0.1,6.7"/><path d="M403.9,121.4 l0.1,3.1"/><path d="M404.0,118.1 l1.5,6.7"/><path d="M411.2,120.9 l0.2,4.4"/></g>
<g clip-path="url(#cb4)" stroke="#bcc5d8" stroke-opacity="0.5" stroke-width="0.7" fill="none" stroke-linecap="round"><path d="M411.2,100.1 l-1.2,3.4"/><path d="M409.7,101.0 l0.5,4.9"/><path d="M403.6,120.2 l0.5,2.5"/><path d="M392.1,102.2 l0.5,2.1"/><path d="M397.0,107.7 l-0.1,2.3"/><path d="M410.8,113.4 l-0.5,3.4"/><path d="M397.8,98.9 l1.3,3.7"/><path d="M404.0,98.4 l-1.1,3.3"/><path d="M406.3,122.7 l-0.4,4.5"/><path d="M404.7,127.4 l-0.5,2.7"/></g>
<polygon points="296.70,42.10 385.60,98.60 385.60,101.20 296.70,44.70" fill="#515c77" opacity="0.5"/>
<polygon points="385.60,98.60 413.30,87.50 413.30,89.70 385.60,100.80" fill="#515c77" opacity="0.4"/>
<path d="M282.60,26.90 L385.60,91.30 L413.30,80.50 M385.60,91.30 L385.60,98.60" stroke="#73001a" stroke-width="1.6" fill="none"/>
<polygon points="282.60,26.90 385.60,91.30 385.60,98.60 296.70,42.10 298.80,66.80 286.30,60.90" fill="#73001a" stroke="#73001a" stroke-width="0.4"/>
<polygon points="385.60,91.30 413.30,80.50 413.30,87.50 385.60,98.60" fill="#8c001d" stroke="#8c001d" stroke-width="0.3"/>
<polygon points="282.60,26.90 306.40,20.80 413.30,80.50 385.60,91.30" fill="#a00021" stroke="#a00021" stroke-width="0.4"/>
<text x="310.20" y="18.70" font-family="'Liberation Serif', serif" font-size="5.8" font-weight="bold" fill="#000" text-anchor="start" textLength="32.30" lengthAdjust="spacingAndGlyphs" transform="rotate(31.50 310.20 18.70)" stroke="#000" stroke-width="0.25">Gravity-OPT</text>
</g>
<g filter="url(#soft)">
<rect x="33.00" y="157.40" width="112.50" height="27.40" fill="#98a3bc" />
<path d="M68.6,163.6 l0.4,6.6" stroke="#6d7892" stroke-opacity="0.35" stroke-width="0.6" fill="none"/>
<path d="M128.2,176.3 l0.1,4.2" stroke="#6d7892" stroke-opacity="0.35" stroke-width="0.6" fill="none"/>
<path d="M37.6,169.3 l0.3,4.6" stroke="#6d7892" stroke-opacity="0.35" stroke-width="0.6" fill="none"/>
<path d="M43.6,158.5 l-0.4,7.2" stroke="#6d7892" stroke-opacity="0.35" stroke-width="0.6" fill="none"/>
<path d="M36.4,163.1 l-0.3,7.3" stroke="#6d7892" stroke-opacity="0.35" stroke-width="0.6" fill="none"/>
<path d="M143.1,158.8 l-0.5,8.6" stroke="#6d7892" stroke-opacity="0.35" stroke-width="0.6" fill="none"/>
<path d="M141.2,161.4 l-0.2,6.1" stroke="#6d7892" stroke-opacity="0.35" stroke-width="0.6" fill="none"/>
<path d="M70.7,166.9 l-0.0,4.6" stroke="#6d7892" stroke-opacity="0.35" stroke-width="0.6" fill="none"/>
<path d="M42.0,160.1 l-0.4,3.5" stroke="#6d7892" stroke-opacity="0.35" stroke-width="0.6" fill="none"/>
<path d="M103.7,172.6 l-0.3,7.8" stroke="#6d7892" stroke-opacity="0.35" stroke-width="0.6" fill="none"/>
<path d="M115.1,165.4 l-0.0,4.1" stroke="#6d7892" stroke-opacity="0.35" stroke-width="0.6" fill="none"/>
<path d="M136.8,169.8 l-0.5,3.9" stroke="#6d7892" stroke-opacity="0.35" stroke-width="0.6" fill="none"/>
<path d="M111.2,166.3 l0.3,4.4" stroke="#6d7892" stroke-opacity="0.35" stroke-width="0.6" fill="none"/>
<path d="M122.5,174.8 l-0.5,6.5" stroke="#6d7892" stroke-opacity="0.35" stroke-width="0.6" fill="none"/>
<path d="M56.8,172.8 l0.4,7.7" stroke="#6d7892" stroke-opacity="0.35" stroke-width="0.6" fill="none"/>
<path d="M61.1,160.3 l0.2,6.4" stroke="#6d7892" stroke-opacity="0.35" stroke-width="0.6" fill="none"/>
<path d="M51.0,162.3 l0.1,3.6" stroke="#6d7892" stroke-opacity="0.35" stroke-width="0.6" fill="none"/>
<path d="M104.8,163.3 l-0.3,5.5" stroke="#6d7892" stroke-opacity="0.35" stroke-width="0.6" fill="none"/>
<path d="M93.8,173.2 l-0.6,7.3" stroke="#6d7892" stroke-opacity="0.35" stroke-width="0.6" fill="none"/>
<path d="M60.0,164.3 l0.2,7.1" stroke="#6d7892" stroke-opacity="0.35" stroke-width="0.6" fill="none"/>
<path d="M102.7,176.8 l-0.4,4.9" stroke="#6d7892" stroke-opacity="0.35" stroke-width="0.6" fill="none"/>
<path d="M107.9,163.7 l-0.4,4.4" stroke="#6d7892" stroke-opacity="0.35" stroke-width="0.6" fill="none"/>
<path d="M119.7,175.3 l0.3,8.8" stroke="#6d7892" stroke-opacity="0.35" stroke-width="0.6" fill="none"/>
<path d="M122.2,164.7 l-0.2,7.3" stroke="#6d7892" stroke-opacity="0.35" stroke-width="0.6" fill="none"/>
<path d="M42.0,170.8 l-0.5,3.3" stroke="#6d7892" stroke-opacity="0.35" stroke-width="0.6" fill="none"/>
<path d="M91.7,161.5 l0.5,8.3" stroke="#6d7892" stroke-opacity="0.35" stroke-width="0.6" fill="none"/>
<path d="M86.1,162.4 l-0.5,6.0" stroke="#6d7892" stroke-opacity="0.35" stroke-width="0.6" fill="none"/>
<path d="M92.6,165.8 l0.3,6.2" stroke="#6d7892" stroke-opacity="0.35" stroke-width="0.6" fill="none"/>
<path d="M120.1,160.6 l-0.5,5.3" stroke="#6d7892" stroke-opacity="0.35" stroke-width="0.6" fill="none"/>
<path d="M88.5,163.6 l0.2,4.3" stroke="#6d7892" stroke-opacity="0.35" stroke-width="0.6" fill="none"/>
<path d="M70.5,168.1 l0.3,7.6" stroke="#6d7892" stroke-opacity="0.35" stroke-width="0.6" fill="none"/>
<path d="M76.3,167.5 l0.5,8.6" stroke="#6d7892" stroke-opacity="0.35" stroke-width="0.6" fill="none"/>
<path d="M103.1,160.5 l-0.1,6.8" stroke="#6d7892" stroke-opacity="0.35" stroke-width="0.6" fill="none"/>
<path d="M66.2,159.2 l0.6,8.5" stroke="#6d7892" stroke-opacity="0.35" stroke-width="0.6" fill="none"/>
<path d="M50.0,167.9 l0.1,4.8" stroke="#6d7892" stroke-opacity="0.35" stroke-width="0.6" fill="none"/>
<path d="M43.4,173.7 l0.3,5.6" stroke="#6d7892" stroke-opacity="0.35" stroke-width="0.6" fill="none"/>
<path d="M45.3,166.4 l-0.5,8.8" stroke="#6d7892" stroke-opacity="0.35" stroke-width="0.6" fill="none"/>
<path d="M41.6,164.3 l0.3,3.8" stroke="#6d7892" stroke-opacity="0.35" stroke-width="0.6" fill="none"/>
<path d="M47.6,159.8 l-0.4,6.2" stroke="#6d7892" stroke-opacity="0.35" stroke-width="0.6" fill="none"/>
<path d="M126.4,161.8 l-0.4,7.6" stroke="#6d7892" stroke-opacity="0.35" stroke-width="0.6" fill="none"/>
<rect x="33.00" y="157.40" width="112.50" height="1.60" fill="#6a7590" opacity="0.5"/>
<polygon points="33.95,158.77 36.56,158.77 39.32,162.88 37.90,167.54 37.50,174.39 39.72,180.14 40.82,184.80 37.42,184.80 35.21,175.21 34.82,167.54" fill="#3a4358"/>
<path d="M35.84,160.14 Q37.35,171.10 39.48,184.25" stroke="#8e99b3" stroke-width="0.6" fill="none" stroke-dasharray="3 2"/>
<path d="M40.82,185.35 C39.72,180.14 36.95,176.58 37.66,171.10 C38.14,165.62 40.90,162.88 43.27,159.04 L45.33,159.04 C46.43,165.62 45.80,176.58 45.48,185.35 Z" fill="#fff"/>
<ellipse cx="48.50" cy="160.50" rx="0.54" ry="2.40" fill="#fff"/>
<ellipse cx="51.00" cy="160.15" rx="0.48" ry="2.00" fill="#fff"/>
<ellipse cx="63.00" cy="160.85" rx="0.54" ry="2.80" fill="#fff"/>
<ellipse cx="66.00" cy="161.20" rx="0.54" ry="3.20" fill="#fff"/>
<ellipse cx="69.50" cy="161.34" rx="0.60" ry="3.36" fill="#fff"/>
<ellipse cx="73.00" cy="161.20" rx="0.60" ry="3.20" fill="#fff"/>
<ellipse cx="77.00" cy="161.20" rx="0.60" ry="3.20" fill="#fff"/>
<ellipse cx="81.00" cy="161.20" rx="0.60" ry="3.20" fill="#fff"/>
<ellipse cx="85.00" cy="160.85" rx="0.54" ry="2.80" fill="#fff"/>
<ellipse cx="88.00" cy="160.50" rx="0.48" ry="2.40" fill="#fff"/>
<ellipse cx="104.00" cy="160.15" rx="0.42" ry="2.00" fill="#fff"/>
<ellipse cx="108.00" cy="160.50" rx="0.42" ry="2.40" fill="#fff"/>
<ellipse cx="120.00" cy="160.15" rx="0.42" ry="2.00" fill="#fff"/>
<ellipse cx="126.00" cy="160.50" rx="0.42" ry="2.40" fill="#fff"/>
<ellipse cx="130.00" cy="160.15" rx="0.42" ry="2.00" fill="#fff"/>
<rect x="10.80" y="152.00" width="134.70" height="5.40" fill="#8f001e" />
<rect x="10.80" y="152.00" width="22.20" height="32.80" fill="#8f001e" />
<text x="12.00" y="192.00" font-family="'Liberation Serif', serif" font-size="5.4" font-weight="bold" fill="#000" text-anchor="start" textLength="38.00" lengthAdjust="spacingAndGlyphs" >MetalEasy-OPT</text>
<path d="M160.80,157.00 L183.20,157.00 C183.20,162.00 182.40,162.00 182.40,170.80 C182.40,178.60 182.96,181.60 182.96,184.60 L161.04,184.60 C161.04,181.60 161.60,178.60 161.60,170.80 C161.60,162.00 160.80,162.00 160.80,157.00 Z" fill="#98a3bc"/>
<rect x="160.00" y="151.20" width="24.00" height="5.80" fill="#8f001e" />
<rect x="33.80" y="212.50" width="113.20" height="27.50" fill="#98a3bc" />
<path d="M83.3,220.4 l-0.5,4.5" stroke="#6d7892" stroke-opacity="0.35" stroke-width="0.6" fill="none"/>
<path d="M142.9,215.9 l-0.3,7.4" stroke="#6d7892" stroke-opacity="0.35" stroke-width="0.6" fill="none"/>
<path d="M134.2,232.0 l-0.0,8.7" stroke="#6d7892" stroke-opacity="0.35" stroke-width="0.6" fill="none"/>
<path d="M102.8,219.4 l-0.0,7.3" stroke="#6d7892" stroke-opacity="0.35" stroke-width="0.6" fill="none"/>
<path d="M117.0,216.2 l-0.4,8.7" stroke="#6d7892" stroke-opacity="0.35" stroke-width="0.6" fill="none"/>
<path d="M48.5,230.2 l-0.2,4.5" stroke="#6d7892" stroke-opacity="0.35" stroke-width="0.6" fill="none"/>
<path d="M64.7,223.1 l0.6,3.9" stroke="#6d7892" stroke-opacity="0.35" stroke-width="0.6" fill="none"/>
<path d="M130.1,220.1 l-0.4,7.5" stroke="#6d7892" stroke-opacity="0.35" stroke-width="0.6" fill="none"/>
<path d="M74.1,217.3 l-0.1,7.9" stroke="#6d7892" stroke-opacity="0.35" stroke-width="0.6" fill="none"/>
<path d="M131.0,225.3 l-0.6,7.6" stroke="#6d7892" stroke-opacity="0.35" stroke-width="0.6" fill="none"/>
<path d="M103.0,231.9 l0.5,5.0" stroke="#6d7892" stroke-opacity="0.35" stroke-width="0.6" fill="none"/>
<path d="M129.5,230.3 l-0.3,5.2" stroke="#6d7892" stroke-opacity="0.35" stroke-width="0.6" fill="none"/>
<path d="M77.7,220.7 l-0.1,3.7" stroke="#6d7892" stroke-opacity="0.35" stroke-width="0.6" fill="none"/>
<path d="M61.6,232.1 l-0.1,6.8" stroke="#6d7892" stroke-opacity="0.35" stroke-width="0.6" fill="none"/>
<path d="M133.7,229.0 l-0.3,8.5" stroke="#6d7892" stroke-opacity="0.35" stroke-width="0.6" fill="none"/>
<path d="M124.6,233.8 l0.3,7.5" stroke="#6d7892" stroke-opacity="0.35" stroke-width="0.6" fill="none"/>
<path d="M125.6,218.7 l0.2,5.3" stroke="#6d7892" stroke-opacity="0.35" stroke-width="0.6" fill="none"/>
<path d="M128.5,216.2 l0.0,5.0" stroke="#6d7892" stroke-opacity="0.35" stroke-width="0.6" fill="none"/>
<path d="M126.4,220.6 l0.4,8.1" stroke="#6d7892" stroke-opacity="0.35" stroke-width="0.6" fill="none"/>
<path d="M132.8,216.4 l0.5,7.5" stroke="#6d7892" stroke-opacity="0.35" stroke-width="0.6" fill="none"/>
<path d="M110.7,226.9 l-0.5,8.2" stroke="#6d7892" stroke-opacity="0.35" stroke-width="0.6" fill="none"/>
<path d="M96.6,222.8 l-0.2,7.7" stroke="#6d7892" stroke-opacity="0.35" stroke-width="0.6" fill="none"/>
<path d="M122.2,231.3 l-0.3,5.0" stroke="#6d7892" stroke-opacity="0.35" stroke-width="0.6" fill="none"/>
<path d="M64.0,215.6 l-0.2,3.2" stroke="#6d7892" stroke-opacity="0.35" stroke-width="0.6" fill="none"/>
<path d="M123.8,218.2 l-0.5,3.4" stroke="#6d7892" stroke-opacity="0.35" stroke-width="0.6" fill="none"/>
<path d="M117.7,217.6 l-0.0,5.4" stroke="#6d7892" stroke-opacity="0.35" stroke-width="0.6" fill="none"/>
<path d="M124.4,233.1 l-0.2,6.8" stroke="#6d7892" stroke-opacity="0.35" stroke-width="0.6" fill="none"/>
<path d="M134.5,223.1 l0.5,7.4" stroke="#6d7892" stroke-opacity="0.35" stroke-width="0.6" fill="none"/>
<path d="M70.8,231.4 l0.1,3.6" stroke="#6d7892" stroke-opacity="0.35" stroke-width="0.6" fill="none"/>
<path d="M101.0,230.5 l0.0,5.9" stroke="#6d7892" stroke-opacity="0.35" stroke-width="0.6" fill="none"/>
<path d="M82.3,231.5 l0.2,4.2" stroke="#6d7892" stroke-opacity="0.35" stroke-width="0.6" fill="none"/>
<path d="M76.4,220.9 l0.6,7.2" stroke="#6d7892" stroke-opacity="0.35" stroke-width="0.6" fill="none"/>
<path d="M50.4,232.2 l-0.6,6.5" stroke="#6d7892" stroke-opacity="0.35" stroke-width="0.6" fill="none"/>
<path d="M84.0,228.2 l-0.1,3.6" stroke="#6d7892" stroke-opacity="0.35" stroke-width="0.6" fill="none"/>
<path d="M94.0,230.3 l0.3,5.1" stroke="#6d7892" stroke-opacity="0.35" stroke-width="0.6" fill="none"/>
<path d="M61.1,228.8 l0.4,4.3" stroke="#6d7892" stroke-opacity="0.35" stroke-width="0.6" fill="none"/>
<path d="M133.2,233.8 l-0.1,5.3" stroke="#6d7892" stroke-opacity="0.35" stroke-width="0.6" fill="none"/>
<path d="M114.3,232.6 l-0.4,4.8" stroke="#6d7892" stroke-opacity="0.35" stroke-width="0.6" fill="none"/>
<path d="M72.7,228.5 l-0.4,6.3" stroke="#6d7892" stroke-opacity="0.35" stroke-width="0.6" fill="none"/>
<path d="M91.4,227.2 l-0.4,8.7" stroke="#6d7892" stroke-opacity="0.35" stroke-width="0.6" fill="none"/>
<rect x="33.80" y="212.50" width="113.20" height="1.60" fill="#6a7590" opacity="0.5"/>
<path d="M36.00,240.00 C35.70,225.97 36.75,214.50 38.50,214.50 C40.25,214.50 41.30,225.97 41.00,240.00 Z" fill="#3d465c"/>
<path d="M37.60,240.50 C37.30,226.47 38.18,215.00 39.55,215.00 C40.91,215.00 41.80,226.47 41.50,240.50 Z" fill="#fff"/>
<ellipse cx="45.00" cy="215.60" rx="0.48" ry="2.40" fill="#fff"/>
<ellipse cx="48.00" cy="215.60" rx="0.48" ry="2.40" fill="#fff"/>
<ellipse cx="80.00" cy="215.60" rx="0.48" ry="2.40" fill="#fff"/>
<ellipse cx="84.00" cy="216.65" rx="0.60" ry="3.60" fill="#fff"/>
<ellipse cx="88.50" cy="217.00" rx="0.60" ry="4.00" fill="#fff"/>
<ellipse cx="93.00" cy="217.00" rx="0.60" ry="4.00" fill="#fff"/>
<ellipse cx="97.50" cy="216.65" rx="0.60" ry="3.60" fill="#fff"/>
<ellipse cx="102.00" cy="216.30" rx="0.54" ry="3.20" fill="#fff"/>
<ellipse cx="108.00" cy="215.60" rx="0.48" ry="2.40" fill="#fff"/>
<ellipse cx="128.00" cy="215.60" rx="0.42" ry="2.40" fill="#fff"/>
<ellipse cx="133.00" cy="215.95" rx="0.42" ry="2.80" fill="#fff"/>
<ellipse cx="137.00" cy="215.60" rx="0.42" ry="2.40" fill="#fff"/>
<rect x="10.50" y="206.20" width="136.50" height="6.30" fill="#8f001e" />
<rect x="10.50" y="206.20" width="23.30" height="33.80" fill="#8f001e" />
<text x="12.00" y="247.20" font-family="'Liberation Serif', serif" font-size="5.4" font-weight="bold" fill="#000" text-anchor="start" textLength="43.00" lengthAdjust="spacingAndGlyphs" >GravityEasy-OPT</text>
<path d="M161.30,212.50 L182.40,212.50 C182.40,217.50 179.80,217.50 179.80,226.25 C179.80,234.00 181.62,237.00 181.62,240.00 L162.08,240.00 C162.08,237.00 163.90,234.00 163.90,226.25 C163.90,217.50 161.30,217.50 161.30,212.50 Z" fill="#98a3bc"/>
<rect x="160.50" y="206.80" width="22.70" height="5.70" fill="#8f001e" />
<rect x="245.00" y="157.10" width="112.50" height="27.70" fill="#98a3bc" />
<path d="M356.5,169.7 l0.4,4.1" stroke="#6d7892" stroke-opacity="0.35" stroke-width="0.6" fill="none"/>
<path d="M346.8,169.5 l0.3,8.2" stroke="#6d7892" stroke-opacity="0.35" stroke-width="0.6" fill="none"/>
<path d="M287.2,177.2 l-0.4,3.1" stroke="#6d7892" stroke-opacity="0.35" stroke-width="0.6" fill="none"/>
<path d="M302.5,176.7 l0.5,8.7" stroke="#6d7892" stroke-opacity="0.35" stroke-width="0.6" fill="none"/>
<path d="M303.4,177.4 l0.1,3.9" stroke="#6d7892" stroke-opacity="0.35" stroke-width="0.6" fill="none"/>
<path d="M316.5,174.7 l-0.1,6.6" stroke="#6d7892" stroke-opacity="0.35" stroke-width="0.6" fill="none"/>
<path d="M276.1,163.8 l-0.1,6.1" stroke="#6d7892" stroke-opacity="0.35" stroke-width="0.6" fill="none"/>
<path d="M298.8,160.0 l-0.6,5.0" stroke="#6d7892" stroke-opacity="0.35" stroke-width="0.6" fill="none"/>
<path d="M325.8,173.6 l-0.3,4.5" stroke="#6d7892" stroke-opacity="0.35" stroke-width="0.6" fill="none"/>
<path d="M304.1,161.7 l0.1,8.4" stroke="#6d7892" stroke-opacity="0.35" stroke-width="0.6" fill="none"/>
<path d="M269.9,170.2 l0.3,7.5" stroke="#6d7892" stroke-opacity="0.35" stroke-width="0.6" fill="none"/>
<path d="M325.3,172.8 l-0.3,8.0" stroke="#6d7892" stroke-opacity="0.35" stroke-width="0.6" fill="none"/>
<path d="M348.4,159.2 l0.5,5.7" stroke="#6d7892" stroke-opacity="0.35" stroke-width="0.6" fill="none"/>
<path d="M257.4,159.5 l0.4,7.1" stroke="#6d7892" stroke-opacity="0.35" stroke-width="0.6" fill="none"/>
<path d="M263.4,167.6 l0.2,9.0" stroke="#6d7892" stroke-opacity="0.35" stroke-width="0.6" fill="none"/>
<path d="M284.5,174.0 l-0.3,4.2" stroke="#6d7892" stroke-opacity="0.35" stroke-width="0.6" fill="none"/>
<path d="M265.5,166.6 l0.1,4.8" stroke="#6d7892" stroke-opacity="0.35" stroke-width="0.6" fill="none"/>
<path d="M265.6,162.6 l-0.5,4.2" stroke="#6d7892" stroke-opacity="0.35" stroke-width="0.6" fill="none"/>
<path d="M282.3,168.5 l-0.4,5.9" stroke="#6d7892" stroke-opacity="0.35" stroke-width="0.6" fill="none"/>
<path d="M295.7,178.2 l-0.0,8.7" stroke="#6d7892" stroke-opacity="0.35" stroke-width="0.6" fill="none"/>
<path d="M299.1,162.2 l0.1,3.9" stroke="#6d7892" stroke-opacity="0.35" stroke-width="0.6" fill="none"/>
<path d="M266.4,159.6 l0.2,8.8" stroke="#6d7892" stroke-opacity="0.35" stroke-width="0.6" fill="none"/>
<path d="M291.8,165.4 l-0.1,5.1" stroke="#6d7892" stroke-opacity="0.35" stroke-width="0.6" fill="none"/>
<path d="M322.9,166.2 l-0.4,8.2" stroke="#6d7892" stroke-opacity="0.35" stroke-width="0.6" fill="none"/>
<path d="M310.1,158.2 l0.4,7.4" stroke="#6d7892" stroke-opacity="0.35" stroke-width="0.6" fill="none"/>
<path d="M286.5,171.1 l0.5,5.4" stroke="#6d7892" stroke-opacity="0.35" stroke-width="0.6" fill="none"/>
<path d="M294.9,164.3 l0.1,7.0" stroke="#6d7892" stroke-opacity="0.35" stroke-width="0.6" fill="none"/>
<path d="M327.8,177.8 l-0.4,5.2" stroke="#6d7892" stroke-opacity="0.35" stroke-width="0.6" fill="none"/>
<path d="M340.4,174.5 l0.1,7.1" stroke="#6d7892" stroke-opacity="0.35" stroke-width="0.6" fill="none"/>
<path d="M284.9,177.7 l0.1,5.4" stroke="#6d7892" stroke-opacity="0.35" stroke-width="0.6" fill="none"/>
<path d="M267.8,160.5 l0.5,7.8" stroke="#6d7892" stroke-opacity="0.35" stroke-width="0.6" fill="none"/>
<path d="M250.9,164.8 l-0.0,6.0" stroke="#6d7892" stroke-opacity="0.35" stroke-width="0.6" fill="none"/>
<path d="M287.4,176.6 l-0.2,6.2" stroke="#6d7892" stroke-opacity="0.35" stroke-width="0.6" fill="none"/>
<path d="M348.8,171.3 l-0.0,5.0" stroke="#6d7892" stroke-opacity="0.35" stroke-width="0.6" fill="none"/>
<path d="M290.0,170.7 l0.3,4.6" stroke="#6d7892" stroke-opacity="0.35" stroke-width="0.6" fill="none"/>
<path d="M288.2,166.1 l-0.2,8.5" stroke="#6d7892" stroke-opacity="0.35" stroke-width="0.6" fill="none"/>
<path d="M306.5,163.8 l-0.2,7.9" stroke="#6d7892" stroke-opacity="0.35" stroke-width="0.6" fill="none"/>
<path d="M265.4,172.4 l-0.6,4.2" stroke="#6d7892" stroke-opacity="0.35" stroke-width="0.6" fill="none"/>
<path d="M254.5,174.8 l-0.4,4.4" stroke="#6d7892" stroke-opacity="0.35" stroke-width="0.6" fill="none"/>
<path d="M254.2,163.6 l0.3,7.3" stroke="#6d7892" stroke-opacity="0.35" stroke-width="0.6" fill="none"/>
<rect x="245.00" y="157.10" width="112.50" height="1.60" fill="#6a7590" opacity="0.5"/>
<polygon points="246.96,158.49 249.61,158.49 252.42,162.64 250.98,167.35 250.57,174.27 252.82,180.09 253.94,184.80 250.49,184.80 248.25,175.11 247.85,167.35" fill="#3a4358"/>
<path d="M248.89,159.87 Q250.41,170.95 252.58,184.25" stroke="#8e99b3" stroke-width="0.6" fill="none" stroke-dasharray="3 2"/>
<path d="M253.94,185.35 C252.82,180.09 250.01,176.49 250.73,170.95 C251.22,165.41 254.02,162.64 256.43,158.76 L258.52,158.76 C259.64,165.41 259.00,176.49 258.68,185.35 Z" fill="#fff"/>
<rect x="222.00" y="151.30" width="135.50" height="5.80" fill="#8f001e" />
<rect x="222.00" y="151.30" width="23.00" height="33.50" fill="#8f001e" />
<text x="225.00" y="191.20" font-family="'Liberation Serif', serif" font-size="5.4" font-weight="bold" fill="#000" text-anchor="start" textLength="26.50" lengthAdjust="spacingAndGlyphs" >Metal-OPT</text>
<path d="M374.00,156.70 L396.20,156.70 C396.20,161.70 395.20,161.70 395.20,171.10 C395.20,179.50 395.90,182.50 395.90,185.50 L374.30,185.50 C374.30,182.50 375.00,179.50 375.00,171.10 C375.00,161.70 374.00,161.70 374.00,156.70 Z" fill="#98a3bc"/>
<rect x="373.20" y="150.50" width="23.80" height="6.20" fill="#8f001e" />
<rect x="245.80" y="212.00" width="112.20" height="28.00" fill="#98a3bc" />
<path d="M347.3,232.9 l0.1,8.5" stroke="#6d7892" stroke-opacity="0.35" stroke-width="0.6" fill="none"/>
<path d="M258.5,232.4 l-0.1,4.2" stroke="#6d7892" stroke-opacity="0.35" stroke-width="0.6" fill="none"/>
<path d="M329.7,231.0 l-0.1,3.6" stroke="#6d7892" stroke-opacity="0.35" stroke-width="0.6" fill="none"/>
<path d="M343.3,228.8 l0.1,8.9" stroke="#6d7892" stroke-opacity="0.35" stroke-width="0.6" fill="none"/>
<path d="M252.9,214.2 l-0.5,3.1" stroke="#6d7892" stroke-opacity="0.35" stroke-width="0.6" fill="none"/>
<path d="M325.4,226.2 l-0.5,4.0" stroke="#6d7892" stroke-opacity="0.35" stroke-width="0.6" fill="none"/>
<path d="M268.4,225.8 l0.2,8.8" stroke="#6d7892" stroke-opacity="0.35" stroke-width="0.6" fill="none"/>
<path d="M287.8,233.6 l-0.1,5.3" stroke="#6d7892" stroke-opacity="0.35" stroke-width="0.6" fill="none"/>
<path d="M276.2,217.9 l0.6,9.0" stroke="#6d7892" stroke-opacity="0.35" stroke-width="0.6" fill="none"/>
<path d="M325.2,216.7 l-0.4,3.9" stroke="#6d7892" stroke-opacity="0.35" stroke-width="0.6" fill="none"/>
<path d="M286.8,228.5 l-0.5,6.2" stroke="#6d7892" stroke-opacity="0.35" stroke-width="0.6" fill="none"/>
<path d="M322.5,213.7 l-0.1,7.7" stroke="#6d7892" stroke-opacity="0.35" stroke-width="0.6" fill="none"/>
<path d="M311.1,222.5 l0.5,6.6" stroke="#6d7892" stroke-opacity="0.35" stroke-width="0.6" fill="none"/>
<path d="M285.3,221.3 l0.5,8.2" stroke="#6d7892" stroke-opacity="0.35" stroke-width="0.6" fill="none"/>
<path d="M347.8,224.8 l-0.4,4.1" stroke="#6d7892" stroke-opacity="0.35" stroke-width="0.6" fill="none"/>
<path d="M290.3,227.5 l-0.6,7.8" stroke="#6d7892" stroke-opacity="0.35" stroke-width="0.6" fill="none"/>
<path d="M333.8,223.8 l-0.6,7.8" stroke="#6d7892" stroke-opacity="0.35" stroke-width="0.6" fill="none"/>
<path d="M293.6,227.1 l0.1,7.4" stroke="#6d7892" stroke-opacity="0.35" stroke-width="0.6" fill="none"/>
<path d="M293.0,233.2 l0.5,8.6" stroke="#6d7892" stroke-opacity="0.35" stroke-width="0.6" fill="none"/>
<path d="M315.4,219.6 l-0.1,4.6" stroke="#6d7892" stroke-opacity="0.35" stroke-width="0.6" fill="none"/>
<path d="M346.6,229.6 l0.3,7.9" stroke="#6d7892" stroke-opacity="0.35" stroke-width="0.6" fill="none"/>
<path d="M356.0,227.4 l-0.2,7.5" stroke="#6d7892" stroke-opacity="0.35" stroke-width="0.6" fill="none"/>
<path d="M277.2,225.8 l-0.4,8.1" stroke="#6d7892" stroke-opacity="0.35" stroke-width="0.6" fill="none"/>
<path d="M301.7,218.8 l0.5,3.5" stroke="#6d7892" stroke-opacity="0.35" stroke-width="0.6" fill="none"/>
<path d="M349.4,228.9 l-0.4,7.6" stroke="#6d7892" stroke-opacity="0.35" stroke-width="0.6" fill="none"/>
<path d="M310.8,232.1 l0.1,5.6" stroke="#6d7892" stroke-opacity="0.35" stroke-width="0.6" fill="none"/>
<path d="M349.8,214.8 l0.3,3.6" stroke="#6d7892" stroke-opacity="0.35" stroke-width="0.6" fill="none"/>
<path d="M278.7,215.4 l0.4,5.7" stroke="#6d7892" stroke-opacity="0.35" stroke-width="0.6" fill="none"/>
<path d="M327.4,218.4 l0.3,6.9" stroke="#6d7892" stroke-opacity="0.35" stroke-width="0.6" fill="none"/>
<path d="M259.4,223.4 l0.3,4.3" stroke="#6d7892" stroke-opacity="0.35" stroke-width="0.6" fill="none"/>
<path d="M319.6,218.8 l-0.2,8.5" stroke="#6d7892" stroke-opacity="0.35" stroke-width="0.6" fill="none"/>
<path d="M350.8,234.0 l-0.1,6.4" stroke="#6d7892" stroke-opacity="0.35" stroke-width="0.6" fill="none"/>
<path d="M336.3,228.9 l-0.1,8.2" stroke="#6d7892" stroke-opacity="0.35" stroke-width="0.6" fill="none"/>
<path d="M292.2,233.0 l-0.0,3.7" stroke="#6d7892" stroke-opacity="0.35" stroke-width="0.6" fill="none"/>
<path d="M329.9,216.0 l0.2,3.3" stroke="#6d7892" stroke-opacity="0.35" stroke-width="0.6" fill="none"/>
<path d="M355.7,224.4 l0.3,3.8" stroke="#6d7892" stroke-opacity="0.35" stroke-width="0.6" fill="none"/>
<path d="M317.7,220.9 l-0.3,7.9" stroke="#6d7892" stroke-opacity="0.35" stroke-width="0.6" fill="none"/>
<path d="M252.4,223.0 l-0.5,8.1" stroke="#6d7892" stroke-opacity="0.35" stroke-width="0.6" fill="none"/>
<path d="M345.4,213.7 l-0.0,5.8" stroke="#6d7892" stroke-opacity="0.35" stroke-width="0.6" fill="none"/>
<path d="M326.6,228.3 l-0.2,8.6" stroke="#6d7892" stroke-opacity="0.35" stroke-width="0.6" fill="none"/>
<rect x="245.80" y="212.00" width="112.20" height="1.60" fill="#6a7590" opacity="0.5"/>
<path d="M247.60,240.00 C247.30,226.80 248.49,216.00 250.55,216.00 C252.62,216.00 253.80,226.80 253.50,240.00 Z" fill="#3d465c"/>
<path d="M249.20,240.50 C248.90,227.30 249.92,216.50 251.60,216.50 C253.28,216.50 254.30,227.30 254.00,240.50 Z" fill="#fff"/>
<path d="M266.80,240.50 C266.50,227.03 267.82,216.00 270.20,216.00 C272.58,216.00 273.90,227.03 273.60,240.50 Z" fill="#fff"/>
<path d="M333.40,240.00 C333.10,227.35 334.74,217.00 337.85,217.00 C340.97,217.00 342.60,227.35 342.30,240.00 Z" fill="#3d465c"/>
<path d="M335.00,240.50 C334.70,227.85 336.17,217.50 338.90,217.50 C341.63,217.50 343.10,227.85 342.80,240.50 Z" fill="#fff"/>
<rect x="223.00" y="206.20" width="135.00" height="5.80" fill="#8f001e" />
<rect x="223.00" y="206.20" width="22.80" height="33.80" fill="#8f001e" />
<text x="225.50" y="246.60" font-family="'Liberation Serif', serif" font-size="5.4" font-weight="bold" fill="#000" text-anchor="start" textLength="31.50" lengthAdjust="spacingAndGlyphs" >Gravity-OPT</text>
<path d="M374.60,211.80 L395.40,211.80 C395.40,216.80 392.40,216.80 392.40,225.90 C392.40,234.00 394.50,237.00 394.50,240.00 L375.50,240.00 C375.50,237.00 377.60,234.00 377.60,225.90 C377.60,216.80 374.60,216.80 374.60,211.80 Z" fill="#98a3bc"/>
<rect x="373.80" y="206.20" width="22.40" height="5.60" fill="#8f001e" />
</g>
<text x="203.40" y="270.50" font-family="'Liberation Serif', serif" font-size="13.7" font-weight="normal" fill="#000" text-anchor="middle" textLength="365.80" lengthAdjust="spacingAndGlyphs" >The optimized support structures from Gravity-OPT, GravityEasy-</text>
<text x="203.15" y="287.30" font-family="'Liberation Serif', serif" font-size="13.7" font-weight="normal" fill="#000" text-anchor="middle" textLength="213.70" lengthAdjust="spacingAndGlyphs" >OPT, Metal-OPT, and MetalEasy-OPT</text>
<g filter="url(#soft)">
<polygon points="489.60,42.10 561.50,90.10 585.40,80.90 583.90,81.90 579.30,88.30 578.40,97.40 580.20,111.20 565.60,119.40 555.50,113.90 554.60,105.70 547.30,102.90 538.10,97.40 534.40,91.90 527.10,86.40 518.90,80.00 516.10,78.20 509.70,75.40 507.00,70.00 498.70,68.10 496.90,63.50 492.30,65.40" fill="url(#g5)" stroke="#1b6cbc" stroke-width="0.4"/>
<g clip-path="url(#cb5)" stroke="#13408e" stroke-opacity="0.5" stroke-width="0.8" fill="none" stroke-linecap="round"><path d="M502.4,77.8 l0.9,2.4"/><path d="M525.5,73.2 l0.7,6.6"/><path d="M545.4,107.9 l-0.8,3.0"/><path d="M536.0,95.9 l0.3,5.1"/><path d="M551.0,87.4 l-1.2,6.5"/><path d="M540.0,83.4 l-0.8,4.2"/><path d="M560.5,94.0 l0.2,5.4"/><path d="M518.1,68.1 l0.4,4.3"/><path d="M509.2,74.0 l0.1,5.8"/><path d="M503.8,63.8 l-2.2,6.4"/><path d="M501.0,80.1 l0.2,3.9"/><path d="M511.1,65.9 l0.7,2.5"/><path d="M535.5,101.8 l1.1,5.3"/><path d="M558.5,104.6 l-0.4,6.3"/><path d="M516.7,70.8 l2.1,6.5"/><path d="M557.8,90.2 l1.6,4.5"/><path d="M525.1,93.0 l-0.4,5.3"/><path d="M558.3,107.4 l2.8,4.8"/><path d="M494.0,76.1 l0.1,3.6"/><path d="M491.1,72.3 l-1.0,4.9"/><path d="M490.5,51.5 l2.6,5.6"/><path d="M555.8,113.6 l1.1,4.4"/><path d="M558.7,109.8 l-0.5,2.3"/><path d="M558.6,111.9 l1.3,3.1"/><path d="M517.2,89.9 l-2.3,6.6"/><path d="M535.5,78.7 l0.2,5.6"/><path d="M517.8,69.4 l1.0,2.5"/><path d="M501.7,75.7 l0.2,2.8"/><path d="M531.6,83.8 l2.3,4.1"/><path d="M494.6,55.2 l1.8,5.5"/><path d="M548.0,85.8 l0.8,4.3"/><path d="M515.6,67.4 l-1.1,5.2"/><path d="M522.8,93.1 l1.8,4.7"/><path d="M494.0,58.5 l-0.1,2.4"/><path d="M520.0,79.8 l2.0,6.4"/><path d="M500.9,62.2 l-0.6,6.5"/><path d="M519.8,66.5 l-0.6,2.6"/><path d="M535.2,93.3 l0.2,2.3"/><path d="M512.9,82.5 l0.4,5.6"/><path d="M503.3,65.9 l2.3,4.8"/><path d="M552.6,93.1 l1.4,3.7"/><path d="M497.7,78.5 l1.1,3.5"/><path d="M537.1,87.8 l0.8,5.4"/><path d="M500.1,68.6 l-1.9,6.7"/><path d="M497.8,64.4 l-0.2,3.0"/><path d="M527.1,76.7 l-1.2,6.6"/><path d="M522.8,81.2 l-0.2,2.6"/><path d="M540.4,105.7 l-0.2,2.2"/><path d="M545.9,91.4 l0.0,2.3"/><path d="M541.3,98.7 l-0.4,3.8"/><path d="M512.3,71.0 l0.9,1.8"/><path d="M543.6,97.1 l-0.7,2.7"/><path d="M539.9,89.3 l2.7,4.6"/><path d="M493.2,73.0 l1.7,6.8"/><path d="M556.2,112.1 l-1.6,4.7"/><path d="M538.1,91.4 l0.2,3.0"/><path d="M524.3,78.5 l0.0,4.6"/><path d="M505.6,70.4 l0.7,4.5"/><path d="M536.5,91.3 l-0.5,3.3"/><path d="M541.7,92.7 l-0.9,3.1"/><path d="M526.4,77.3 l-0.4,4.0"/><path d="M548.6,104.1 l0.4,3.0"/><path d="M515.3,72.4 l-0.7,5.7"/><path d="M504.4,77.9 l-0.4,5.3"/><path d="M536.5,82.5 l0.5,2.3"/><path d="M494.9,62.4 l-1.7,5.1"/><path d="M546.6,92.0 l-0.4,2.5"/><path d="M542.9,89.9 l0.3,3.3"/><path d="M542.7,102.7 l0.9,6.3"/><path d="M519.8,93.1 l1.1,2.7"/><path d="M512.3,83.2 l-0.8,3.6"/><path d="M553.5,91.7 l1.1,5.8"/><path d="M500.8,63.9 l0.0,4.0"/><path d="M506.9,68.6 l1.9,3.4"/><path d="M518.1,72.3 l-0.1,5.4"/><path d="M502.2,73.8 l1.3,4.9"/><path d="M506.4,81.2 l0.0,3.2"/><path d="M530.7,72.9 l-0.1,3.6"/><path d="M533.4,76.6 l0.8,3.0"/><path d="M519.7,90.8 l-0.9,2.4"/><path d="M509.2,63.7 l1.0,4.8"/><path d="M494.6,71.0 l-0.5,3.3"/><path d="M526.6,69.1 l1.2,3.7"/><path d="M536.1,98.5 l0.9,4.7"/><path d="M545.7,89.6 l0.8,5.7"/><path d="M559.4,104.2 l1.5,2.7"/><path d="M495.7,60.7 l0.3,4.1"/><path d="M512.0,73.8 l2.5,6.4"/><path d="M526.9,79.7 l2.1,5.9"/><path d="M552.3,95.3 l0.2,5.1"/></g>
<g clip-path="url(#cb5)" stroke="#38a8a0" stroke-opacity="0.45" stroke-width="0.7" fill="none" stroke-linecap="round"><path d="M509.2,86.3 l1.4,3.2"/><path d="M537.3,85.0 l-0.7,3.2"/><path d="M514.4,88.8 l0.6,3.4"/><path d="M502.9,72.4 l0.6,3.7"/><path d="M508.4,69.6 l1.0,5.2"/><path d="M540.8,85.4 l-0.4,5.8"/><path d="M538.6,90.1 l1.0,2.6"/><path d="M537.2,82.5 l1.8,4.2"/><path d="M532.8,88.3 l0.1,3.3"/><path d="M500.2,69.7 l0.6,2.5"/><path d="M539.0,94.4 l0.1,5.1"/><path d="M506.3,79.9 l-0.6,4.2"/><path d="M516.3,90.4 l-0.2,5.3"/><path d="M498.8,51.5 l-1.8,5.4"/><path d="M541.3,103.3 l-0.5,2.7"/><path d="M525.7,95.2 l-0.8,3.7"/><path d="M539.6,102.0 l-0.7,2.7"/><path d="M512.8,70.9 l1.0,2.0"/><path d="M533.4,78.7 l0.9,3.0"/><path d="M557.5,112.7 l0.8,5.9"/><path d="M546.2,108.7 l-0.6,5.2"/><path d="M505.2,82.9 l-0.0,4.2"/><path d="M550.3,105.1 l-0.6,3.8"/><path d="M521.8,94.2 l-0.4,3.1"/><path d="M548.6,103.6 l1.2,3.4"/><path d="M508.0,66.3 l0.3,4.0"/><path d="M493.7,68.6 l1.2,5.4"/><path d="M505.0,76.5 l0.8,4.6"/><path d="M526.5,96.2 l0.3,3.9"/><path d="M545.2,102.4 l-0.6,3.4"/><path d="M496.5,68.5 l0.8,3.9"/><path d="M530.6,84.7 l-0.3,2.0"/><path d="M510.1,73.3 l-0.1,4.4"/><path d="M500.8,59.9 l-0.9,5.4"/><path d="M540.0,89.2 l-1.4,4.5"/><path d="M502.5,66.3 l1.5,3.7"/><path d="M507.9,67.0 l0.9,2.4"/><path d="M530.4,85.7 l0.6,4.1"/><path d="M527.7,69.1 l2.0,5.4"/><path d="M494.6,64.0 l1.4,3.9"/><path d="M545.2,102.3 l0.1,2.9"/><path d="M536.1,89.1 l-0.1,2.3"/><path d="M538.3,93.1 l2.1,4.5"/><path d="M551.6,85.3 l1.3,2.7"/><path d="M507.0,71.4 l0.8,2.9"/><path d="M522.9,89.5 l2.0,4.5"/><path d="M504.6,65.4 l-0.2,2.4"/><path d="M547.9,87.2 l-0.3,2.1"/><path d="M521.6,75.8 l1.4,2.9"/><path d="M557.9,101.5 l-0.5,3.7"/></g>
<polygon points="561.50,90.10 585.40,80.90 583.90,81.90 579.30,88.30 578.40,97.40 580.20,111.20 565.60,119.40" fill="url(#g6)" />
<g clip-path="url(#cb5)" stroke="#13408e" stroke-opacity="0.35" stroke-width="0.8" fill="none" stroke-linecap="round"><path d="M580.7,107.5 l0.2,2.9"/><path d="M582.0,105.9 l-0.2,5.3"/><path d="M572.6,109.9 l-0.1,3.2"/><path d="M581.4,98.0 l-1.0,3.7"/><path d="M583.9,96.4 l-0.5,5.1"/><path d="M581.0,107.4 l0.4,2.6"/><path d="M578.1,113.6 l-0.3,3.0"/><path d="M576.9,111.9 l0.1,2.1"/><path d="M569.6,110.4 l0.9,3.6"/><path d="M577.2,103.0 l0.8,5.9"/><path d="M574.5,115.5 l-0.4,2.5"/><path d="M564.0,118.6 l-0.3,2.1"/><path d="M570.6,100.4 l-0.0,4.0"/><path d="M571.6,99.0 l0.6,4.6"/><path d="M583.7,105.3 l0.8,4.1"/><path d="M583.7,103.8 l-1.2,5.1"/><path d="M571.1,114.2 l0.9,3.3"/><path d="M563.4,106.9 l1.3,6.2"/></g>
<polygon points="561.00,89.90 570.00,87.50 565.70,95.30" fill="#c4201c" opacity="0.95"/>
<polygon points="555.50,86.90 561.50,90.10 564.50,94.60 560.50,97.10" fill="#e8a022" opacity="0.75"/>
<polygon points="489.60,42.10 561.50,90.10 561.50,92.10 489.60,44.10" fill="url(#g7)" opacity="0.85"/>
<path d="M477.30,30.60 L561.50,84.60 L585.40,75.40 M561.50,84.60 L561.50,90.10 M489.60,42.10 L561.50,90.10 L585.40,80.90" stroke="#2f9f80" stroke-width="1.5" fill="none"/>
<polygon points="477.30,30.60 489.60,42.10 492.30,65.40 481.00,58.60" fill="url(#g8)" stroke="#2f9f78" stroke-width="0.3"/>
<polygon points="477.30,30.60 561.50,84.60 561.50,90.10 489.60,42.10" fill="url(#g9)" />
<polygon points="489.60,39.49 561.50,86.52 561.50,90.10 489.60,42.10" fill="url(#g10)" />
<polygon points="561.50,84.60 585.40,75.40 585.40,80.90 561.50,90.10" fill="url(#g11)" />
<polygon points="477.30,30.60 496.90,25.10 585.40,75.40 561.50,84.60" fill="url(#g12)" stroke="#1f7cb8" stroke-width="0.3"/>
<polygon points="477.30,30.60 485.14,28.40 571.06,80.92 561.50,84.60" fill="url(#g13)" />
<text x="502.50" y="24.50" font-family="'Liberation Serif', serif" font-size="5.8" font-weight="bold" fill="#000" text-anchor="start" textLength="34.50" lengthAdjust="spacingAndGlyphs" transform="rotate(32.00 502.50 24.50)" stroke="#000" stroke-width="0.25">Gravity-OPT</text>
<polygon points="571.00,42.50 642.50,89.80 666.40,80.10 665.80,81.00 662.70,86.50 660.00,95.60 660.90,110.30 648.00,116.70 641.60,115.80 638.00,110.30 632.50,104.80 623.30,98.40 610.50,88.30 599.50,81.00 589.40,73.60 580.20,70.00 579.30,67.20 573.50,66.30" fill="url(#g14)" stroke="#1b6cbc" stroke-width="0.4"/>
<g clip-path="url(#cb6)" stroke="#13408e" stroke-opacity="0.5" stroke-width="0.8" fill="none" stroke-linecap="round"><path d="M603.5,73.0 l0.2,2.8"/><path d="M603.1,90.3 l0.1,3.2"/><path d="M598.9,76.7 l1.7,6.4"/><path d="M613.7,73.5 l2.7,6.0"/><path d="M593.4,59.1 l1.6,3.6"/><path d="M602.9,70.9 l1.4,2.8"/><path d="M576.2,63.8 l-0.5,2.6"/><path d="M599.8,70.8 l2.9,5.5"/><path d="M622.4,106.3 l0.0,4.0"/><path d="M631.1,86.3 l0.1,5.5"/><path d="M621.6,92.3 l0.4,2.9"/><path d="M591.4,66.3 l-0.1,3.4"/><path d="M578.3,62.9 l1.3,2.9"/><path d="M607.4,89.0 l0.6,3.8"/><path d="M633.9,114.3 l-2.2,6.1"/><path d="M637.5,111.8 l1.7,4.8"/><path d="M642.9,114.2 l2.1,4.3"/><path d="M631.4,92.0 l1.8,4.8"/><path d="M604.9,68.8 l2.2,4.8"/><path d="M605.6,86.5 l0.8,2.1"/><path d="M639.2,101.3 l-0.3,3.9"/><path d="M624.5,90.5 l0.4,4.8"/><path d="M586.2,81.3 l-2.0,5.5"/><path d="M605.6,73.1 l-0.6,5.7"/><path d="M639.4,113.5 l-0.5,3.3"/><path d="M604.2,77.2 l-1.3,5.9"/><path d="M632.1,88.6 l0.1,2.8"/><path d="M585.5,57.4 l-0.3,2.8"/><path d="M588.3,64.5 l1.6,6.0"/><path d="M589.7,57.3 l0.8,4.1"/><path d="M573.3,56.1 l-0.6,1.9"/><path d="M586.3,55.9 l-0.2,2.5"/><path d="M612.6,78.6 l-1.1,3.3"/><path d="M599.5,87.5 l-0.6,2.6"/><path d="M573.3,69.0 l0.2,5.5"/><path d="M627.7,97.8 l0.6,3.3"/><path d="M585.5,70.1 l-0.1,5.9"/><path d="M615.5,95.8 l1.1,4.7"/><path d="M636.8,90.4 l-0.3,3.7"/><path d="M638.2,106.8 l-1.0,6.6"/><path d="M602.7,87.2 l1.5,3.3"/><path d="M616.5,80.4 l-1.4,5.2"/><path d="M578.6,64.8 l-1.1,3.5"/><path d="M642.0,113.6 l1.9,4.8"/><path d="M639.2,91.7 l2.1,3.7"/><path d="M605.0,94.5 l-0.9,4.0"/><path d="M627.1,87.5 l0.3,3.5"/><path d="M599.8,77.5 l-0.0,3.6"/><path d="M641.1,100.4 l0.9,1.9"/><path d="M574.6,71.4 l-1.7,5.2"/><path d="M631.2,100.1 l0.4,2.0"/><path d="M590.1,58.6 l0.9,4.6"/><path d="M605.8,70.3 l-1.0,5.6"/><path d="M612.2,89.6 l-2.1,6.0"/><path d="M623.4,105.1 l1.5,5.1"/><path d="M638.1,113.1 l0.1,3.2"/><path d="M597.2,84.2 l1.2,4.9"/><path d="M611.5,86.1 l0.2,6.6"/><path d="M640.1,103.8 l-0.5,4.7"/><path d="M640.8,103.2 l0.3,5.2"/><path d="M623.2,77.6 l-0.9,3.5"/><path d="M576.4,48.3 l-0.9,5.2"/><path d="M587.5,62.2 l0.3,5.5"/><path d="M613.6,89.6 l-1.1,6.7"/><path d="M638.0,103.5 l0.9,3.8"/><path d="M627.1,97.9 l-1.7,5.6"/><path d="M571.3,59.8 l2.5,6.2"/><path d="M630.7,99.3 l3.0,5.9"/><path d="M593.1,63.7 l-0.3,3.5"/><path d="M611.0,94.7 l1.8,4.2"/><path d="M630.9,88.8 l-1.2,6.6"/><path d="M585.3,80.3 l2.6,5.6"/><path d="M626.9,98.4 l-2.0,5.8"/><path d="M595.7,86.5 l-0.3,3.6"/><path d="M621.3,92.7 l1.0,3.2"/><path d="M608.3,94.6 l2.0,6.1"/><path d="M621.5,80.3 l-0.9,5.8"/><path d="M591.2,66.9 l0.7,5.8"/><path d="M627.9,85.4 l-0.9,3.6"/><path d="M580.8,73.9 l-0.1,2.5"/><path d="M575.9,67.7 l1.1,6.3"/><path d="M601.2,75.2 l-0.5,3.2"/><path d="M623.2,93.0 l2.2,5.0"/><path d="M597.7,70.6 l1.9,5.4"/><path d="M593.3,84.7 l0.5,5.2"/><path d="M599.8,89.4 l0.1,4.2"/><path d="M631.7,91.9 l0.2,2.5"/><path d="M624.6,92.6 l0.7,6.9"/><path d="M599.7,88.1 l1.6,3.5"/><path d="M617.5,100.8 l1.3,5.1"/></g>
<g clip-path="url(#cb6)" stroke="#38a8a0" stroke-opacity="0.45" stroke-width="0.7" fill="none" stroke-linecap="round"><path d="M606.9,81.3 l-1.0,3.7"/><path d="M637.5,100.3 l2.3,5.4"/><path d="M637.4,112.5 l-1.2,3.4"/><path d="M574.1,69.5 l-0.7,3.4"/><path d="M587.2,68.1 l1.3,3.4"/><path d="M629.1,84.1 l1.9,5.6"/><path d="M597.4,78.7 l-1.6,5.3"/><path d="M615.7,77.0 l0.2,2.3"/><path d="M612.5,100.0 l0.8,3.6"/><path d="M599.5,91.2 l0.2,4.4"/><path d="M600.4,73.4 l0.5,3.9"/><path d="M641.3,95.8 l0.8,2.1"/><path d="M596.8,86.4 l-0.5,2.9"/><path d="M602.7,80.5 l1.0,1.9"/><path d="M619.5,86.5 l-1.1,5.6"/><path d="M590.8,74.6 l1.5,4.4"/><path d="M574.0,47.6 l-0.1,4.9"/><path d="M590.7,64.3 l1.0,2.6"/><path d="M629.1,103.0 l-0.6,3.3"/><path d="M614.2,83.5 l1.5,4.0"/><path d="M641.3,105.0 l1.9,4.1"/><path d="M593.8,84.5 l0.3,2.0"/><path d="M634.2,105.6 l1.0,3.0"/><path d="M620.5,98.1 l-0.5,3.4"/><path d="M613.2,99.7 l-1.2,3.3"/><path d="M573.2,45.9 l0.8,4.1"/><path d="M625.3,86.2 l0.2,5.1"/><path d="M625.0,80.6 l1.7,4.8"/><path d="M602.7,73.9 l-0.7,4.6"/><path d="M616.3,95.3 l1.6,4.4"/><path d="M609.6,90.5 l0.7,2.7"/><path d="M593.9,70.6 l0.1,4.9"/><path d="M584.2,56.0 l1.9,4.6"/><path d="M576.8,64.0 l-0.8,3.0"/><path d="M637.2,109.7 l0.2,4.8"/><path d="M591.0,84.1 l0.5,2.0"/><path d="M592.7,71.9 l2.7,4.9"/><path d="M630.0,83.6 l1.6,5.4"/><path d="M584.6,65.0 l0.9,2.3"/><path d="M589.1,69.1 l0.2,3.2"/><path d="M627.2,90.3 l-0.9,5.6"/><path d="M611.0,80.1 l-0.6,2.5"/><path d="M612.9,99.5 l2.6,4.9"/><path d="M620.0,92.5 l1.2,5.2"/><path d="M607.3,73.2 l0.7,4.5"/><path d="M640.0,110.6 l0.6,2.1"/><path d="M578.0,65.4 l-0.5,2.7"/><path d="M578.3,74.0 l0.8,2.4"/><path d="M625.6,107.0 l0.6,3.3"/><path d="M638.8,116.9 l1.9,5.2"/></g>
<polygon points="642.50,89.80 666.40,80.10 665.80,81.00 662.70,86.50 660.00,95.60 660.90,110.30 648.00,116.70 641.60,115.80" fill="url(#g15)" />
<g clip-path="url(#cb6)" stroke="#13408e" stroke-opacity="0.35" stroke-width="0.8" fill="none" stroke-linecap="round"><path d="M655.5,118.4 l-0.6,2.5"/><path d="M660.5,113.8 l1.4,4.8"/><path d="M664.5,98.3 l-0.9,5.8"/><path d="M650.5,112.2 l-0.7,4.0"/><path d="M644.4,118.2 l-0.8,3.8"/><path d="M653.8,115.3 l-0.1,3.5"/><path d="M644.1,107.5 l-0.6,2.3"/><path d="M658.3,106.0 l-2.1,6.5"/><path d="M664.5,97.8 l-0.9,5.5"/><path d="M656.8,96.2 l0.3,6.6"/><path d="M656.5,115.4 l1.1,3.2"/><path d="M663.7,102.3 l0.6,2.1"/><path d="M665.3,113.6 l0.7,3.0"/><path d="M663.2,111.8 l1.3,4.8"/><path d="M652.6,118.5 l0.1,2.0"/><path d="M644.7,119.7 l-0.8,2.4"/><path d="M661.9,113.4 l-0.3,2.2"/><path d="M654.3,107.6 l-0.0,2.7"/></g>
<polygon points="642.00,89.60 648.00,87.90 645.10,92.20" fill="#e8801e" opacity="0.8"/>
<polygon points="571.00,42.50 642.50,89.80 642.50,91.80 571.00,44.50" fill="url(#g16)" opacity="0.85"/>
<path d="M557.30,29.30 L642.50,84.30 L666.40,74.60 M642.50,84.30 L642.50,89.80 M571.00,42.50 L642.50,89.80 L666.40,80.10" stroke="#2f9f80" stroke-width="1.5" fill="none"/>
<polygon points="557.30,29.30 571.00,42.50 573.50,66.30 561.40,58.00" fill="url(#g17)" stroke="#2f9f78" stroke-width="0.3"/>
<polygon points="557.30,29.30 642.50,84.30 642.50,89.80 571.00,42.50" fill="url(#g18)" />
<polygon points="571.00,39.89 642.50,86.22 642.50,89.80 571.00,42.50" fill="url(#g19)" />
<polygon points="642.50,84.30 666.40,74.60 666.40,80.10 642.50,89.80" fill="url(#g20)" />
<polygon points="557.30,29.30 577.50,23.80 666.40,74.60 642.50,84.30" fill="url(#g21)" stroke="#1f7cb8" stroke-width="0.3"/>
<polygon points="557.30,29.30 565.38,27.10 652.06,80.42 642.50,84.30" fill="url(#g22)" />
<text x="582.40" y="24.00" font-family="'Liberation Serif', serif" font-size="5.8" font-weight="bold" fill="#000" text-anchor="start" textLength="47.00" lengthAdjust="spacingAndGlyphs" transform="rotate(29.50 582.40 24.00)" stroke="#000" stroke-width="0.25">GravityEasy-OPT</text>
<polygon points="662.00,46.20 730.70,92.00 753.60,82.80 751.80,86.50 751.80,100.00 752.10,110.30 733.50,119.50 729.80,117.60 728.00,108.50 722.50,106.60 717.00,101.10 709.60,95.60 702.30,90.10 693.10,83.70 682.10,77.30 673.90,72.70 672.10,67.20 664.70,70.00" fill="url(#g23)" stroke="#1b6cbc" stroke-width="0.4"/>
<g clip-path="url(#cb7)" stroke="#13408e" stroke-opacity="0.5" stroke-width="0.8" fill="none" stroke-linecap="round"><path d="M715.5,109.5 l1.2,3.9"/><path d="M677.8,77.6 l-1.2,4.7"/><path d="M696.9,99.7 l1.5,2.7"/><path d="M683.4,66.4 l1.9,3.6"/><path d="M725.2,114.9 l-0.6,5.5"/><path d="M713.2,103.3 l0.1,3.0"/><path d="M703.8,79.7 l-0.7,3.6"/><path d="M719.1,87.6 l1.3,2.8"/><path d="M712.5,99.4 l0.4,5.9"/><path d="M702.1,92.1 l0.1,5.3"/><path d="M696.7,86.9 l0.4,2.6"/><path d="M690.3,83.3 l0.7,3.7"/><path d="M690.5,95.4 l1.2,2.1"/><path d="M711.0,93.5 l1.0,4.9"/><path d="M676.0,84.1 l1.8,6.4"/><path d="M692.9,70.7 l-1.3,6.3"/><path d="M677.1,79.1 l0.7,5.9"/><path d="M687.2,88.6 l-1.4,6.2"/><path d="M669.7,81.8 l0.7,5.5"/><path d="M669.7,75.8 l-0.4,2.3"/><path d="M707.4,103.8 l-0.1,6.7"/><path d="M668.7,64.7 l-0.9,3.1"/><path d="M710.5,87.5 l0.1,3.7"/><path d="M683.7,86.2 l-0.3,2.9"/><path d="M686.1,90.5 l-0.0,3.6"/><path d="M668.7,71.1 l1.2,5.1"/><path d="M662.2,65.8 l0.7,2.8"/><path d="M705.9,90.8 l0.0,3.3"/><path d="M681.6,65.0 l0.5,3.3"/><path d="M723.0,94.5 l0.9,2.5"/><path d="M684.0,85.0 l0.4,4.0"/><path d="M690.0,92.1 l-1.1,4.0"/><path d="M680.7,74.6 l1.0,5.3"/><path d="M678.8,85.9 l-0.3,3.8"/><path d="M693.4,74.8 l0.7,2.8"/><path d="M708.8,78.8 l0.8,5.5"/><path d="M665.2,57.3 l0.3,6.1"/><path d="M683.0,71.2 l0.7,3.3"/><path d="M717.3,103.8 l-0.3,6.4"/><path d="M667.4,57.9 l0.2,3.3"/><path d="M718.7,97.5 l-1.0,3.0"/><path d="M713.0,83.2 l2.0,6.6"/><path d="M718.6,105.1 l-0.9,3.7"/><path d="M680.4,67.2 l-2.0,5.7"/><path d="M706.7,85.1 l1.5,3.0"/><path d="M727.8,110.1 l1.3,3.5"/><path d="M693.3,74.8 l-0.1,2.8"/><path d="M707.0,82.8 l2.6,5.8"/><path d="M672.4,70.8 l0.2,4.4"/><path d="M713.4,94.3 l-0.4,2.2"/><path d="M662.0,53.0 l-0.8,4.9"/><path d="M669.5,78.5 l2.3,5.0"/><path d="M710.1,90.8 l-0.1,2.8"/><path d="M682.1,67.2 l1.6,3.7"/><path d="M688.3,81.4 l-0.7,4.0"/><path d="M666.8,79.1 l-1.7,6.1"/><path d="M714.6,105.3 l2.0,4.4"/><path d="M677.5,84.9 l0.6,3.6"/><path d="M697.1,92.7 l-1.0,5.9"/><path d="M721.7,91.9 l-0.5,5.8"/><path d="M686.5,69.2 l0.7,6.1"/><path d="M717.0,93.9 l-0.6,4.5"/><path d="M722.0,107.8 l-0.9,3.9"/><path d="M714.3,92.7 l-0.8,3.3"/><path d="M716.1,86.5 l-0.9,2.8"/><path d="M665.4,65.2 l0.3,4.8"/><path d="M690.1,69.1 l2.8,6.0"/><path d="M671.7,72.9 l-0.5,6.0"/><path d="M724.1,90.2 l-0.5,3.1"/><path d="M672.1,77.3 l0.2,2.8"/><path d="M724.8,100.1 l1.2,4.2"/><path d="M729.1,111.0 l-0.4,3.5"/><path d="M696.3,80.5 l-0.5,6.4"/><path d="M692.9,91.7 l-1.4,4.4"/><path d="M663.5,69.1 l-1.0,4.3"/><path d="M671.1,75.5 l1.2,6.0"/><path d="M730.9,94.1 l1.2,2.3"/><path d="M700.2,81.2 l1.9,3.8"/><path d="M725.7,105.1 l1.1,4.1"/><path d="M702.6,103.4 l-0.7,6.7"/><path d="M716.9,88.8 l1.5,3.4"/><path d="M692.6,91.2 l2.2,6.4"/><path d="M674.9,66.0 l0.1,2.3"/><path d="M682.9,77.8 l1.3,4.8"/><path d="M713.1,101.8 l0.5,4.3"/><path d="M679.4,74.4 l1.8,4.8"/><path d="M722.5,111.5 l0.6,6.1"/><path d="M672.7,77.3 l2.9,6.3"/><path d="M661.2,58.5 l2.1,4.5"/><path d="M719.2,112.3 l0.9,3.5"/></g>
<g clip-path="url(#cb7)" stroke="#38a8a0" stroke-opacity="0.45" stroke-width="0.7" fill="none" stroke-linecap="round"><path d="M675.4,73.1 l2.4,4.7"/><path d="M700.0,101.0 l2.4,5.2"/><path d="M689.3,80.3 l1.7,5.6"/><path d="M665.0,56.9 l0.9,4.2"/><path d="M703.2,101.5 l1.6,5.3"/><path d="M716.4,97.0 l1.7,5.5"/><path d="M687.2,71.4 l-0.2,4.8"/><path d="M669.7,54.4 l1.0,4.7"/><path d="M669.7,83.4 l0.6,5.2"/><path d="M718.3,110.6 l1.2,4.0"/><path d="M699.3,92.5 l-1.0,4.6"/><path d="M690.0,91.1 l-0.6,2.7"/><path d="M663.3,65.8 l-0.7,2.5"/><path d="M690.6,79.7 l0.6,4.3"/><path d="M660.0,68.9 l0.7,2.4"/><path d="M718.8,109.9 l1.3,2.3"/><path d="M714.1,92.5 l0.3,2.1"/><path d="M678.2,87.2 l1.3,2.5"/><path d="M708.0,85.7 l-1.2,3.5"/><path d="M683.1,76.4 l0.5,2.6"/><path d="M709.2,102.6 l1.2,2.5"/><path d="M704.7,102.9 l-0.3,2.4"/><path d="M707.3,81.9 l-0.6,4.4"/><path d="M694.0,89.2 l0.7,4.4"/><path d="M674.2,72.4 l-1.9,5.3"/><path d="M699.3,79.5 l-0.5,4.5"/><path d="M679.3,88.2 l-1.0,3.4"/><path d="M692.3,92.8 l0.6,2.7"/><path d="M727.9,101.2 l-0.5,3.9"/><path d="M706.8,95.8 l0.9,1.8"/><path d="M663.7,50.5 l-0.1,4.1"/><path d="M676.8,69.1 l1.2,5.7"/><path d="M704.5,83.5 l2.5,4.4"/><path d="M678.0,84.9 l1.9,3.5"/><path d="M682.6,85.0 l-0.4,2.4"/><path d="M688.6,77.8 l-1.3,3.5"/><path d="M726.8,110.7 l1.9,4.4"/><path d="M665.2,69.2 l1.1,4.4"/><path d="M681.6,75.5 l0.5,2.0"/><path d="M683.8,92.1 l-1.0,5.5"/><path d="M661.4,51.5 l-0.9,4.8"/><path d="M717.3,87.0 l0.9,1.9"/><path d="M721.1,100.9 l-0.7,2.9"/><path d="M669.0,53.5 l1.0,5.9"/><path d="M716.0,99.6 l-0.9,5.9"/><path d="M727.5,92.1 l1.6,4.7"/><path d="M683.3,91.3 l0.3,2.2"/><path d="M672.3,68.2 l0.3,4.8"/><path d="M713.9,94.5 l-0.4,5.0"/><path d="M722.2,112.6 l0.1,4.9"/></g>
<polygon points="730.70,92.00 753.60,82.80 751.80,86.50 751.80,100.00 752.10,110.30 733.50,119.50" fill="url(#g24)" />
<g clip-path="url(#cb7)" stroke="#13408e" stroke-opacity="0.35" stroke-width="0.8" fill="none" stroke-linecap="round"><path d="M740.2,111.6 l0.7,2.3"/><path d="M738.2,101.0 l-0.3,2.2"/><path d="M747.0,112.8 l-0.5,3.0"/><path d="M749.0,112.9 l-0.1,3.1"/><path d="M740.0,104.5 l-0.7,2.7"/><path d="M744.9,120.4 l0.5,2.8"/><path d="M742.3,99.4 l-0.1,3.5"/><path d="M741.8,119.8 l-0.5,4.9"/><path d="M743.9,116.8 l1.3,3.6"/><path d="M752.2,117.0 l0.7,2.5"/><path d="M736.3,113.8 l0.9,2.5"/><path d="M742.0,98.1 l0.3,3.3"/><path d="M736.0,98.1 l0.6,3.2"/><path d="M738.5,107.9 l0.5,3.8"/><path d="M732.1,118.1 l0.0,5.7"/><path d="M731.8,103.6 l0.2,6.5"/><path d="M736.0,117.7 l1.7,6.2"/><path d="M742.2,111.5 l0.3,2.6"/></g>
<polygon points="662.00,46.20 730.70,92.00 730.70,94.00 662.00,48.20" fill="url(#g25)" opacity="0.85"/>
<path d="M648.20,33.00 L730.70,86.50 L753.60,77.30 M730.70,86.50 L730.70,92.00 M662.00,46.20 L730.70,92.00 L753.60,82.80" stroke="#2f9f80" stroke-width="1.5" fill="none"/>
<polygon points="648.20,33.00 662.00,46.20 664.70,70.00 651.40,60.80" fill="url(#g26)" stroke="#2f9f78" stroke-width="0.3"/>
<polygon points="648.20,33.00 730.70,86.50 730.70,92.00 662.00,46.20" fill="url(#g27)" />
<polygon points="662.00,43.59 730.70,88.42 730.70,92.00 662.00,46.20" fill="url(#g28)" />
<polygon points="730.70,86.50 753.60,77.30 753.60,82.80 730.70,92.00" fill="url(#g29)" />
<polygon points="648.20,33.00 668.40,27.50 753.60,77.30 730.70,86.50" fill="url(#g30)" stroke="#1f7cb8" stroke-width="0.3"/>
<polygon points="648.20,33.00 656.28,30.80 739.86,82.82 730.70,86.50" fill="url(#g31)" />
<text x="672.30" y="26.80" font-family="'Liberation Serif', serif" font-size="5.8" font-weight="bold" fill="#000" text-anchor="start" textLength="28.50" lengthAdjust="spacingAndGlyphs" transform="rotate(30.60 672.30 26.80)" stroke="#000" stroke-width="0.25">Metal-OPT</text>
<polygon points="740.40,44.30 811.50,90.50 834.00,80.50 833.50,80.00 833.50,95.00 833.50,110.00 811.50,120.50 809.00,118.75 806.50,110.00 801.50,106.00 789.00,96.00 776.50,86.00 764.00,77.50 751.50,71.00 750.00,67.00 743.50,67.50" fill="url(#g32)" stroke="#1b6cbc" stroke-width="0.4"/>
<g clip-path="url(#cb8)" stroke="#13408e" stroke-opacity="0.5" stroke-width="0.8" fill="none" stroke-linecap="round"><path d="M784.8,92.5 l1.0,5.0"/><path d="M742.8,73.7 l-1.7,6.1"/><path d="M746.3,54.7 l1.3,3.5"/><path d="M802.7,109.3 l-1.1,3.7"/><path d="M758.7,77.6 l0.6,3.1"/><path d="M748.1,56.2 l0.7,2.6"/><path d="M786.2,90.5 l-0.8,6.2"/><path d="M755.0,60.7 l1.2,3.0"/><path d="M744.7,75.5 l2.3,4.8"/><path d="M755.8,71.6 l0.9,1.9"/><path d="M780.8,74.2 l1.8,5.6"/><path d="M782.2,82.8 l1.2,6.6"/><path d="M770.3,89.8 l-1.0,6.9"/><path d="M779.3,89.2 l-2.2,6.4"/><path d="M793.1,97.1 l1.3,4.0"/><path d="M794.7,102.2 l0.7,4.4"/><path d="M791.4,106.9 l-1.2,6.9"/><path d="M759.4,72.6 l0.9,6.6"/><path d="M763.5,76.1 l1.2,4.5"/><path d="M747.2,53.1 l0.4,2.8"/><path d="M764.7,77.4 l1.6,3.6"/><path d="M741.3,75.3 l0.7,3.3"/><path d="M763.6,75.0 l3.0,5.2"/><path d="M748.1,63.0 l0.7,3.9"/><path d="M808.8,106.6 l-0.2,6.8"/><path d="M783.7,82.9 l-0.7,2.1"/><path d="M778.4,72.4 l1.1,5.6"/><path d="M785.0,102.0 l1.1,3.7"/><path d="M802.8,94.6 l-1.4,4.2"/><path d="M746.9,74.6 l0.4,2.3"/><path d="M796.8,104.7 l-0.6,2.5"/><path d="M766.6,76.1 l0.7,6.4"/><path d="M756.9,72.4 l0.8,2.1"/><path d="M802.8,110.9 l0.3,2.7"/><path d="M771.8,75.1 l-0.7,6.6"/><path d="M776.7,94.3 l0.0,6.8"/><path d="M744.9,53.4 l1.3,2.9"/><path d="M776.8,82.8 l1.7,4.0"/><path d="M791.4,87.7 l-1.8,5.9"/><path d="M807.9,90.0 l0.5,3.9"/><path d="M759.1,84.1 l0.2,2.7"/><path d="M810.7,103.1 l0.3,2.5"/><path d="M778.0,75.1 l-1.1,3.2"/><path d="M741.0,49.6 l0.9,5.7"/><path d="M805.0,113.6 l1.5,2.8"/><path d="M744.3,61.5 l1.5,6.7"/><path d="M789.3,93.7 l2.0,4.3"/><path d="M781.1,82.0 l-0.5,6.1"/><path d="M746.8,53.3 l-0.1,3.3"/><path d="M811.1,115.1 l-0.4,2.6"/><path d="M794.3,109.6 l2.0,4.6"/><path d="M753.8,73.8 l-1.1,5.0"/><path d="M738.5,75.0 l1.0,3.2"/><path d="M800.4,108.5 l0.2,6.5"/><path d="M781.4,91.4 l-0.8,5.0"/><path d="M775.3,76.1 l2.3,4.7"/><path d="M746.4,74.2 l1.0,4.6"/><path d="M809.2,96.8 l-1.1,4.7"/><path d="M765.9,79.7 l-0.2,6.9"/><path d="M753.1,63.8 l-0.4,4.3"/><path d="M741.2,56.3 l-1.0,4.9"/><path d="M773.8,75.8 l0.3,3.3"/><path d="M776.9,92.6 l1.0,4.4"/><path d="M759.3,83.9 l2.0,6.4"/><path d="M745.4,50.2 l-0.4,6.3"/><path d="M763.7,81.3 l0.6,2.7"/><path d="M796.9,98.8 l0.8,2.4"/><path d="M756.3,76.5 l-1.4,4.7"/><path d="M781.2,85.0 l1.3,4.4"/><path d="M774.8,81.4 l0.4,2.0"/><path d="M754.4,70.0 l-1.2,4.2"/><path d="M792.8,81.7 l0.0,5.5"/><path d="M786.6,76.8 l-0.9,4.2"/><path d="M781.1,77.1 l0.3,6.5"/><path d="M752.4,80.6 l-0.3,6.3"/><path d="M796.0,96.2 l1.4,5.9"/><path d="M751.5,73.2 l0.9,1.8"/><path d="M781.6,89.4 l2.7,5.8"/><path d="M779.8,82.0 l0.3,2.7"/><path d="M743.7,67.1 l-1.0,6.5"/><path d="M746.7,65.5 l0.6,6.7"/><path d="M746.4,55.0 l0.4,6.9"/><path d="M804.5,96.6 l-0.5,5.3"/><path d="M771.9,79.3 l1.8,5.3"/><path d="M751.0,72.5 l0.7,2.2"/><path d="M808.5,112.6 l1.5,3.2"/><path d="M776.1,90.8 l-0.2,2.2"/><path d="M784.2,93.6 l1.6,4.3"/><path d="M788.2,86.7 l0.2,6.3"/><path d="M777.3,83.7 l0.2,3.9"/></g>
<g clip-path="url(#cb8)" stroke="#38a8a0" stroke-opacity="0.45" stroke-width="0.7" fill="none" stroke-linecap="round"><path d="M740.8,48.5 l-1.6,5.8"/><path d="M785.3,100.7 l-0.6,3.1"/><path d="M786.9,97.2 l-0.6,3.0"/><path d="M779.7,95.2 l0.5,3.0"/><path d="M764.0,88.0 l0.5,4.7"/><path d="M780.4,73.0 l-0.3,3.4"/><path d="M778.1,78.0 l-0.2,2.9"/><path d="M766.0,87.9 l1.6,5.6"/><path d="M775.1,80.0 l0.2,2.3"/><path d="M809.5,100.1 l-0.9,3.0"/><path d="M744.9,73.5 l-0.7,2.2"/><path d="M785.7,87.8 l0.3,4.4"/><path d="M803.6,95.0 l-0.3,2.0"/><path d="M786.8,77.7 l-0.6,2.2"/><path d="M765.8,91.0 l-0.1,2.8"/><path d="M744.4,70.5 l-0.4,2.6"/><path d="M810.6,113.0 l-0.6,5.8"/><path d="M780.3,94.4 l-0.3,4.5"/><path d="M751.9,63.8 l-0.9,5.4"/><path d="M762.6,61.2 l0.5,2.2"/><path d="M747.1,60.2 l-0.8,3.5"/><path d="M778.5,83.1 l-1.2,3.7"/><path d="M759.8,72.7 l1.0,2.4"/><path d="M777.3,81.7 l-0.6,2.1"/><path d="M751.2,53.8 l1.8,4.2"/><path d="M758.1,80.0 l0.6,3.7"/><path d="M768.7,72.6 l2.0,5.4"/><path d="M749.5,62.5 l2.3,4.3"/><path d="M787.8,103.8 l0.5,3.2"/><path d="M762.7,68.8 l0.8,4.6"/><path d="M789.7,91.6 l-0.4,4.2"/><path d="M786.3,78.3 l0.9,2.3"/><path d="M751.7,73.8 l-0.9,3.2"/><path d="M755.5,62.2 l-0.2,2.6"/><path d="M780.3,95.9 l0.7,4.7"/><path d="M784.0,86.6 l0.5,2.3"/><path d="M807.1,107.6 l-0.4,2.3"/><path d="M801.3,96.2 l1.2,3.9"/><path d="M753.3,75.7 l-1.2,3.8"/><path d="M810.3,117.2 l2.6,4.7"/><path d="M751.0,77.5 l-0.1,4.5"/><path d="M770.8,70.3 l1.2,4.0"/><path d="M750.0,68.5 l1.5,5.3"/><path d="M780.2,96.5 l-0.1,2.8"/><path d="M778.9,73.7 l0.3,3.9"/><path d="M797.3,88.7 l-0.6,3.2"/><path d="M757.0,57.7 l-0.2,2.3"/><path d="M773.9,82.5 l1.0,5.7"/><path d="M779.4,86.1 l-0.5,2.1"/><path d="M780.7,80.7 l-0.8,2.6"/></g>
<polygon points="811.50,90.50 834.00,80.50 833.50,80.00 833.50,95.00 833.50,110.00 811.50,120.50" fill="url(#g33)" />
<g clip-path="url(#cb8)" stroke="#13408e" stroke-opacity="0.35" stroke-width="0.8" fill="none" stroke-linecap="round"><path d="M829.7,105.6 l-0.2,5.0"/><path d="M816.6,97.3 l1.3,5.5"/><path d="M824.1,96.9 l0.5,2.1"/><path d="M825.9,111.2 l-0.8,6.9"/><path d="M823.2,96.8 l0.1,6.8"/><path d="M830.1,97.5 l0.1,6.2"/><path d="M816.9,106.2 l-0.1,2.4"/><path d="M817.0,113.3 l-0.4,2.8"/><path d="M825.2,113.6 l1.0,6.7"/><path d="M826.5,106.0 l-1.5,6.3"/><path d="M828.2,110.9 l-0.9,3.2"/><path d="M832.4,119.3 l-0.8,3.6"/><path d="M826.4,116.7 l0.2,6.0"/><path d="M820.6,115.6 l-0.1,5.3"/><path d="M830.4,97.3 l0.1,2.1"/><path d="M814.5,116.7 l-0.6,2.4"/><path d="M817.1,99.7 l-0.7,5.7"/><path d="M820.9,110.8 l-1.5,4.5"/></g>
<polygon points="740.40,44.30 811.50,90.50 811.50,92.50 740.40,46.30" fill="url(#g34)" opacity="0.85"/>
<path d="M726.10,31.20 L811.50,85.00 L834.00,75.00 M811.50,85.00 L811.50,90.50 M740.40,44.30 L811.50,90.50 L834.00,80.50" stroke="#2f9f80" stroke-width="1.5" fill="none"/>
<polygon points="726.10,31.20 740.40,44.30 743.50,67.50 730.20,59.00" fill="url(#g35)" stroke="#2f9f78" stroke-width="0.3"/>
<polygon points="726.10,31.20 811.50,85.00 811.50,90.50 740.40,44.30" fill="url(#g36)" />
<polygon points="740.40,41.69 811.50,86.92 811.50,90.50 740.40,44.30" fill="url(#g37)" />
<polygon points="811.50,85.00 834.00,75.00 834.00,80.50 811.50,90.50" fill="url(#g38)" />
<polygon points="726.10,31.20 745.30,25.90 834.00,75.00 811.50,85.00" fill="url(#g39)" stroke="#1f7cb8" stroke-width="0.3"/>
<polygon points="726.10,31.20 733.78,29.08 820.50,81.00 811.50,85.00" fill="url(#g40)" />
<text x="751.00" y="25.40" font-family="'Liberation Serif', serif" font-size="5.8" font-weight="bold" fill="#000" text-anchor="start" textLength="42.50" lengthAdjust="spacingAndGlyphs" transform="rotate(31.80 751.00 25.40)" stroke="#000" stroke-width="0.25">MetalEasy-OPT</text>
</g>
<g filter="url(#soft)">
<rect x="847.00" y="21.60" width="5.70" height="97.50" fill="url(#g41)" />
<path d="M852.7,21.6 h2.4" stroke="#666" stroke-width="0.5"/>
<text x="858.20" y="23.40" font-family="'Liberation Sans', sans-serif" font-size="4.9" font-weight="normal" fill="#3c3c3c" text-anchor="start" stroke="#3c3c3c" stroke-width="0.12">5.9e-01</text>
<path d="M852.7,37.2 h2.4" stroke="#666" stroke-width="0.5"/>
<text x="858.20" y="39.00" font-family="'Liberation Sans', sans-serif" font-size="4.9" font-weight="normal" fill="#3c3c3c" text-anchor="start" stroke="#3c3c3c" stroke-width="0.12">0.5</text>
<path d="M852.7,54.1 h2.4" stroke="#666" stroke-width="0.5"/>
<text x="858.20" y="55.90" font-family="'Liberation Sans', sans-serif" font-size="4.9" font-weight="normal" fill="#3c3c3c" text-anchor="start" stroke="#3c3c3c" stroke-width="0.12">0.4</text>
<path d="M852.7,70.6 h2.4" stroke="#666" stroke-width="0.5"/>
<text x="858.20" y="72.40" font-family="'Liberation Sans', sans-serif" font-size="4.9" font-weight="normal" fill="#3c3c3c" text-anchor="start" stroke="#3c3c3c" stroke-width="0.12">0.3</text>
<path d="M852.7,87.2 h2.4" stroke="#666" stroke-width="0.5"/>
<text x="858.20" y="89.00" font-family="'Liberation Sans', sans-serif" font-size="4.9" font-weight="normal" fill="#3c3c3c" text-anchor="start" stroke="#3c3c3c" stroke-width="0.12">0.2</text>
<path d="M852.7,103.3 h2.4" stroke="#666" stroke-width="0.5"/>
<text x="858.20" y="105.10" font-family="'Liberation Sans', sans-serif" font-size="4.9" font-weight="normal" fill="#3c3c3c" text-anchor="start" stroke="#3c3c3c" stroke-width="0.12">0.1</text>
<path d="M852.7,119.1 h2.4" stroke="#666" stroke-width="0.5"/>
<text x="858.20" y="120.90" font-family="'Liberation Sans', sans-serif" font-size="4.9" font-weight="normal" fill="#3c3c3c" text-anchor="start" stroke="#3c3c3c" stroke-width="0.12">0.0e+00</text>
</g>
<g filter="url(#soft)">
<rect x="476.00" y="140.00" width="144.00" height="35.80" fill="url(#g42)" />
<rect x="476.00" y="140.00" width="144.00" height="35.80" fill="url(#g43)" />
<path d="M562.8,158.8 l-0.0,5.5" stroke="#164e9e" stroke-opacity="0.3" stroke-width="0.6" fill="none"/>
<path d="M583.6,148.7 l0.2,8.6" stroke="#164e9e" stroke-opacity="0.3" stroke-width="0.6" fill="none"/>
<path d="M591.7,158.9 l-0.2,3.6" stroke="#164e9e" stroke-opacity="0.3" stroke-width="0.6" fill="none"/>
<path d="M515.3,158.8 l0.5,8.2" stroke="#164e9e" stroke-opacity="0.3" stroke-width="0.6" fill="none"/>
<path d="M525.7,163.8 l0.4,5.9" stroke="#164e9e" stroke-opacity="0.3" stroke-width="0.6" fill="none"/>
<path d="M602.8,150.4 l-0.2,6.1" stroke="#164e9e" stroke-opacity="0.3" stroke-width="0.6" fill="none"/>
<path d="M587.8,156.7 l-0.2,8.2" stroke="#164e9e" stroke-opacity="0.3" stroke-width="0.6" fill="none"/>
<path d="M549.6,156.0 l-0.3,5.9" stroke="#164e9e" stroke-opacity="0.3" stroke-width="0.6" fill="none"/>
<path d="M585.4,154.6 l0.2,6.0" stroke="#164e9e" stroke-opacity="0.3" stroke-width="0.6" fill="none"/>
<path d="M506.2,168.9 l-0.3,6.3" stroke="#164e9e" stroke-opacity="0.3" stroke-width="0.6" fill="none"/>
<path d="M614.3,150.9 l-0.5,4.2" stroke="#164e9e" stroke-opacity="0.3" stroke-width="0.6" fill="none"/>
<path d="M522.3,166.3 l0.0,3.3" stroke="#164e9e" stroke-opacity="0.3" stroke-width="0.6" fill="none"/>
<path d="M535.8,158.2 l-0.4,4.8" stroke="#164e9e" stroke-opacity="0.3" stroke-width="0.6" fill="none"/>
<path d="M608.1,156.6 l-0.3,6.6" stroke="#164e9e" stroke-opacity="0.3" stroke-width="0.6" fill="none"/>
<path d="M517.7,158.4 l0.2,3.5" stroke="#164e9e" stroke-opacity="0.3" stroke-width="0.6" fill="none"/>
<path d="M567.4,153.4 l0.3,6.7" stroke="#164e9e" stroke-opacity="0.3" stroke-width="0.6" fill="none"/>
<path d="M608.7,160.5 l-0.4,4.1" stroke="#164e9e" stroke-opacity="0.3" stroke-width="0.6" fill="none"/>
<path d="M585.2,165.3 l-0.5,5.5" stroke="#164e9e" stroke-opacity="0.3" stroke-width="0.6" fill="none"/>
<path d="M537.1,157.1 l0.4,6.4" stroke="#164e9e" stroke-opacity="0.3" stroke-width="0.6" fill="none"/>
<path d="M589.8,164.2 l-0.3,6.7" stroke="#164e9e" stroke-opacity="0.3" stroke-width="0.6" fill="none"/>
<path d="M547.6,157.3 l0.0,7.0" stroke="#164e9e" stroke-opacity="0.3" stroke-width="0.6" fill="none"/>
<path d="M524.0,166.0 l-0.4,4.9" stroke="#164e9e" stroke-opacity="0.3" stroke-width="0.6" fill="none"/>
<path d="M601.8,169.4 l-0.2,8.7" stroke="#164e9e" stroke-opacity="0.3" stroke-width="0.6" fill="none"/>
<path d="M509.1,168.7 l-0.4,3.2" stroke="#164e9e" stroke-opacity="0.3" stroke-width="0.6" fill="none"/>
<path d="M591.8,149.8 l0.3,3.0" stroke="#164e9e" stroke-opacity="0.3" stroke-width="0.6" fill="none"/>
<path d="M519.0,154.5 l-0.5,5.8" stroke="#164e9e" stroke-opacity="0.3" stroke-width="0.6" fill="none"/>
<path d="M544.3,163.6 l-0.0,8.8" stroke="#164e9e" stroke-opacity="0.3" stroke-width="0.6" fill="none"/>
<path d="M601.1,150.1 l0.5,8.4" stroke="#164e9e" stroke-opacity="0.3" stroke-width="0.6" fill="none"/>
<path d="M569.3,158.5 l-0.4,4.9" stroke="#164e9e" stroke-opacity="0.3" stroke-width="0.6" fill="none"/>
<path d="M529.9,150.7 l0.1,4.9" stroke="#164e9e" stroke-opacity="0.3" stroke-width="0.6" fill="none"/>
<path d="M592.5,159.6 l0.4,3.5" stroke="#164e9e" stroke-opacity="0.3" stroke-width="0.6" fill="none"/>
<path d="M601.5,158.1 l0.2,4.4" stroke="#164e9e" stroke-opacity="0.3" stroke-width="0.6" fill="none"/>
<path d="M584.3,155.7 l0.3,6.5" stroke="#164e9e" stroke-opacity="0.3" stroke-width="0.6" fill="none"/>
<path d="M520.8,153.2 l0.3,3.1" stroke="#164e9e" stroke-opacity="0.3" stroke-width="0.6" fill="none"/>
<path d="M577.0,159.0 l0.3,5.0" stroke="#164e9e" stroke-opacity="0.3" stroke-width="0.6" fill="none"/>
<path d="M559.3,157.3 l0.3,3.4" stroke="#164e9e" stroke-opacity="0.3" stroke-width="0.6" fill="none"/>
<path d="M563.1,152.2 l0.1,4.6" stroke="#164e9e" stroke-opacity="0.3" stroke-width="0.6" fill="none"/>
<path d="M528.3,151.5 l0.5,5.2" stroke="#164e9e" stroke-opacity="0.3" stroke-width="0.6" fill="none"/>
<path d="M605.3,163.5 l-0.3,6.3" stroke="#164e9e" stroke-opacity="0.3" stroke-width="0.6" fill="none"/>
<path d="M505.8,168.2 l0.2,3.7" stroke="#164e9e" stroke-opacity="0.3" stroke-width="0.6" fill="none"/>
<path d="M564.1,157.8 l0.2,4.7" stroke="#164e9e" stroke-opacity="0.3" stroke-width="0.6" fill="none"/>
<path d="M608.7,160.8 l-0.5,7.9" stroke="#164e9e" stroke-opacity="0.3" stroke-width="0.6" fill="none"/>
<path d="M605.8,153.2 l0.3,8.2" stroke="#164e9e" stroke-opacity="0.3" stroke-width="0.6" fill="none"/>
<path d="M605.5,147.7 l0.4,4.5" stroke="#164e9e" stroke-opacity="0.3" stroke-width="0.6" fill="none"/>
<path d="M596.4,162.3 l-0.0,8.4" stroke="#164e9e" stroke-opacity="0.3" stroke-width="0.6" fill="none"/>
<polygon points="501.39,147.01 504.12,147.01 507.02,151.56 505.53,156.71 505.11,164.29 507.43,170.65 508.59,175.80 505.03,175.80 502.72,165.19 502.30,156.71" fill="#0e2c50"/>
<path d="M503.38,148.53 Q504.95,160.65 507.18,175.19" stroke="#2a7aa0" stroke-width="0.6" fill="none" stroke-dasharray="3 2"/>
<path d="M508.59,176.41 C507.43,170.65 504.54,166.71 505.28,160.65 C505.78,154.59 508.67,151.56 511.15,147.32 L513.30,147.32 C514.46,154.59 513.80,166.71 513.47,176.41 Z" fill="#fff"/>
<ellipse cx="517.40" cy="148.54" rx="0.48" ry="1.76" fill="#fff"/>
<ellipse cx="522.00" cy="148.12" rx="0.36" ry="1.28" fill="#fff"/>
<ellipse cx="533.20" cy="149.52" rx="0.60" ry="2.88" fill="#fff"/>
<ellipse cx="537.70" cy="149.80" rx="0.60" ry="3.20" fill="#fff"/>
<ellipse cx="542.20" cy="149.94" rx="0.66" ry="3.36" fill="#fff"/>
<ellipse cx="547.30" cy="150.08" rx="0.72" ry="3.52" fill="#fff"/>
<ellipse cx="553.00" cy="149.80" rx="0.66" ry="3.20" fill="#fff"/>
<ellipse cx="558.60" cy="149.38" rx="0.60" ry="2.72" fill="#fff"/>
<ellipse cx="564.00" cy="148.68" rx="0.42" ry="1.92" fill="#fff"/>
<ellipse cx="577.00" cy="148.40" rx="0.36" ry="1.60" fill="#fff"/>
<ellipse cx="583.00" cy="148.54" rx="0.36" ry="1.76" fill="#fff"/>
<ellipse cx="594.00" cy="148.40" rx="0.36" ry="1.60" fill="#fff"/>
<ellipse cx="600.00" cy="148.68" rx="0.36" ry="1.92" fill="#fff"/>
<text x="476.00" y="184.30" font-family="'Liberation Serif', serif" font-size="5.6" font-weight="bold" fill="#000" text-anchor="start" textLength="46.00" lengthAdjust="spacingAndGlyphs" >MetalEasy-OPT</text>
<g clip-path="url(#cb9)">
<path d="M630.50,140.50 L655.00,140.50 L655.00,145.50 C655.00,150.50 654.00,149.50 654.00,161.25 C654.00,170.00 654.70,173.00 654.70,176.00 L630.80,176.00 C630.80,173.00 631.50,170.00 631.50,161.25 C631.50,149.50 630.50,150.50 630.50,145.50 Z" fill="url(#g44)"/>
<path d="M630.50,140.50 L655.00,140.50 L655.00,145.50 C655.00,150.50 654.00,149.50 654.00,161.25 C654.00,170.00 654.70,173.00 654.70,176.00 L630.80,176.00 C630.80,173.00 631.50,170.00 631.50,161.25 C631.50,149.50 630.50,150.50 630.50,145.50 Z" fill="url(#g45)"/>
</g>
<rect x="476.50" y="203.20" width="145.00" height="36.30" fill="url(#g46)" />
<rect x="476.50" y="203.20" width="145.00" height="36.30" fill="url(#g47)" />
<rect x="476.50" y="203.20" width="145.00" height="36.30" fill="url(#g48)" />
<path d="M597.9,233.4 l0.6,6.4" stroke="#164e9e" stroke-opacity="0.3" stroke-width="0.6" fill="none"/>
<path d="M590.0,225.5 l-0.1,6.0" stroke="#164e9e" stroke-opacity="0.3" stroke-width="0.6" fill="none"/>
<path d="M563.9,214.4 l-0.3,8.1" stroke="#164e9e" stroke-opacity="0.3" stroke-width="0.6" fill="none"/>
<path d="M602.8,226.1 l0.2,6.1" stroke="#164e9e" stroke-opacity="0.3" stroke-width="0.6" fill="none"/>
<path d="M571.4,225.4 l-0.6,5.7" stroke="#164e9e" stroke-opacity="0.3" stroke-width="0.6" fill="none"/>
<path d="M617.0,214.2 l-0.0,3.5" stroke="#164e9e" stroke-opacity="0.3" stroke-width="0.6" fill="none"/>
<path d="M534.8,229.2 l-0.6,7.8" stroke="#164e9e" stroke-opacity="0.3" stroke-width="0.6" fill="none"/>
<path d="M597.3,230.3 l-0.3,8.6" stroke="#164e9e" stroke-opacity="0.3" stroke-width="0.6" fill="none"/>
<path d="M548.2,220.1 l0.5,6.3" stroke="#164e9e" stroke-opacity="0.3" stroke-width="0.6" fill="none"/>
<path d="M583.8,211.9 l-0.6,4.6" stroke="#164e9e" stroke-opacity="0.3" stroke-width="0.6" fill="none"/>
<path d="M517.7,229.2 l-0.3,8.7" stroke="#164e9e" stroke-opacity="0.3" stroke-width="0.6" fill="none"/>
<path d="M583.5,213.9 l0.3,4.9" stroke="#164e9e" stroke-opacity="0.3" stroke-width="0.6" fill="none"/>
<path d="M566.1,211.0 l0.4,7.7" stroke="#164e9e" stroke-opacity="0.3" stroke-width="0.6" fill="none"/>
<path d="M572.3,226.0 l-0.2,3.8" stroke="#164e9e" stroke-opacity="0.3" stroke-width="0.6" fill="none"/>
<path d="M542.9,227.2 l0.1,3.8" stroke="#164e9e" stroke-opacity="0.3" stroke-width="0.6" fill="none"/>
<path d="M533.2,220.7 l-0.6,3.3" stroke="#164e9e" stroke-opacity="0.3" stroke-width="0.6" fill="none"/>
<path d="M557.2,212.5 l0.5,3.8" stroke="#164e9e" stroke-opacity="0.3" stroke-width="0.6" fill="none"/>
<path d="M591.7,228.5 l-0.2,6.3" stroke="#164e9e" stroke-opacity="0.3" stroke-width="0.6" fill="none"/>
<path d="M619.6,224.2 l-0.1,8.9" stroke="#164e9e" stroke-opacity="0.3" stroke-width="0.6" fill="none"/>
<path d="M535.4,232.4 l-0.2,5.5" stroke="#164e9e" stroke-opacity="0.3" stroke-width="0.6" fill="none"/>
<path d="M541.8,225.0 l0.5,7.1" stroke="#164e9e" stroke-opacity="0.3" stroke-width="0.6" fill="none"/>
<path d="M526.4,233.3 l0.3,6.0" stroke="#164e9e" stroke-opacity="0.3" stroke-width="0.6" fill="none"/>
<path d="M603.2,211.8 l0.1,7.7" stroke="#164e9e" stroke-opacity="0.3" stroke-width="0.6" fill="none"/>
<path d="M594.8,225.6 l-0.5,5.9" stroke="#164e9e" stroke-opacity="0.3" stroke-width="0.6" fill="none"/>
<path d="M536.4,224.0 l-0.1,5.7" stroke="#164e9e" stroke-opacity="0.3" stroke-width="0.6" fill="none"/>
<path d="M567.4,223.5 l0.5,4.7" stroke="#164e9e" stroke-opacity="0.3" stroke-width="0.6" fill="none"/>
<path d="M537.1,213.7 l-0.5,8.1" stroke="#164e9e" stroke-opacity="0.3" stroke-width="0.6" fill="none"/>
<path d="M611.2,212.3 l-0.2,8.4" stroke="#164e9e" stroke-opacity="0.3" stroke-width="0.6" fill="none"/>
<path d="M604.9,233.0 l0.6,4.8" stroke="#164e9e" stroke-opacity="0.3" stroke-width="0.6" fill="none"/>
<path d="M513.1,215.3 l0.0,3.1" stroke="#164e9e" stroke-opacity="0.3" stroke-width="0.6" fill="none"/>
<path d="M534.7,220.7 l0.2,3.9" stroke="#164e9e" stroke-opacity="0.3" stroke-width="0.6" fill="none"/>
<path d="M519.7,217.2 l-0.5,3.7" stroke="#164e9e" stroke-opacity="0.3" stroke-width="0.6" fill="none"/>
<path d="M517.4,228.6 l0.5,3.3" stroke="#164e9e" stroke-opacity="0.3" stroke-width="0.6" fill="none"/>
<path d="M598.0,229.7 l0.2,4.8" stroke="#164e9e" stroke-opacity="0.3" stroke-width="0.6" fill="none"/>
<path d="M599.8,211.2 l-0.5,8.7" stroke="#164e9e" stroke-opacity="0.3" stroke-width="0.6" fill="none"/>
<path d="M531.0,231.4 l0.3,3.3" stroke="#164e9e" stroke-opacity="0.3" stroke-width="0.6" fill="none"/>
<path d="M516.4,224.9 l-0.4,7.0" stroke="#164e9e" stroke-opacity="0.3" stroke-width="0.6" fill="none"/>
<path d="M582.8,214.8 l-0.0,4.3" stroke="#164e9e" stroke-opacity="0.3" stroke-width="0.6" fill="none"/>
<path d="M605.7,224.5 l0.2,6.7" stroke="#164e9e" stroke-opacity="0.3" stroke-width="0.6" fill="none"/>
<path d="M512.5,230.7 l0.3,6.1" stroke="#164e9e" stroke-opacity="0.3" stroke-width="0.6" fill="none"/>
<path d="M573.4,221.2 l0.3,6.2" stroke="#164e9e" stroke-opacity="0.3" stroke-width="0.6" fill="none"/>
<path d="M537.4,221.7 l-0.3,3.0" stroke="#164e9e" stroke-opacity="0.3" stroke-width="0.6" fill="none"/>
<path d="M565.4,230.4 l0.3,4.3" stroke="#164e9e" stroke-opacity="0.3" stroke-width="0.6" fill="none"/>
<path d="M564.0,223.4 l0.1,5.8" stroke="#164e9e" stroke-opacity="0.3" stroke-width="0.6" fill="none"/>
<path d="M564.1,225.9 l0.5,6.1" stroke="#164e9e" stroke-opacity="0.3" stroke-width="0.6" fill="none"/>
<path d="M501.70,239.50 C501.40,223.55 502.80,210.50 505.35,210.50 C507.91,210.50 509.30,223.55 509.00,239.50 Z" fill="#0e2c50"/>
<path d="M503.50,240.00 C503.20,224.05 504.40,211.00 506.50,211.00 C508.60,211.00 509.80,224.05 509.50,240.00 Z" fill="#fff"/>
<ellipse cx="515.00" cy="212.30" rx="0.48" ry="2.40" fill="#fff"/>
<ellipse cx="552.00" cy="212.30" rx="0.54" ry="2.40" fill="#fff"/>
<ellipse cx="556.00" cy="213.00" rx="0.60" ry="3.20" fill="#fff"/>
<ellipse cx="560.00" cy="213.35" rx="0.60" ry="3.60" fill="#fff"/>
<ellipse cx="564.00" cy="213.35" rx="0.60" ry="3.60" fill="#fff"/>
<ellipse cx="568.00" cy="213.35" rx="0.60" ry="3.60" fill="#fff"/>
<ellipse cx="572.00" cy="213.00" rx="0.60" ry="3.20" fill="#fff"/>
<ellipse cx="576.00" cy="212.65" rx="0.54" ry="2.80" fill="#fff"/>
<ellipse cx="580.00" cy="212.30" rx="0.48" ry="2.40" fill="#fff"/>
<ellipse cx="600.00" cy="212.30" rx="0.42" ry="2.40" fill="#fff"/>
<ellipse cx="606.00" cy="212.65" rx="0.42" ry="2.80" fill="#fff"/>
<ellipse cx="611.00" cy="212.30" rx="0.42" ry="2.40" fill="#fff"/>
<path d="M622.1,211.2 C620.5,215.2 619.2,217.2 619.2,223.3 C619.2,231.5 620.3,235.5 620.7,240.1 L622.1,240.1 Z" fill="#fff"/>
<text x="476.00" y="248.60" font-family="'Liberation Serif', serif" font-size="5.6" font-weight="bold" fill="#000" text-anchor="start" textLength="52.00" lengthAdjust="spacingAndGlyphs" >GravityEasy-OPT</text>
<g clip-path="url(#cb10)">
<path d="M631.00,202.60 L655.00,202.60 L655.00,207.60 C655.00,212.60 652.00,211.60 652.00,223.80 C652.00,233.00 654.10,236.00 654.10,239.00 L631.90,239.00 C631.90,236.00 634.00,233.00 634.00,223.80 C634.00,211.60 631.00,212.60 631.00,207.60 Z" fill="url(#g49)"/>
<path d="M631.00,202.60 L655.00,202.60 L655.00,207.60 C655.00,212.60 652.00,211.60 652.00,223.80 C652.00,233.00 654.10,236.00 654.10,239.00 L631.90,239.00 C631.90,236.00 634.00,233.00 634.00,223.80 C634.00,211.60 631.00,212.60 631.00,207.60 Z" fill="url(#g50)"/>
<path d="M631.00,202.60 L655.00,202.60 L655.00,207.60 C655.00,212.60 652.00,211.60 652.00,223.80 C652.00,233.00 654.10,236.00 654.10,239.00 L631.90,239.00 C631.90,236.00 634.00,233.00 634.00,223.80 C634.00,211.60 631.00,212.60 631.00,207.60 Z" fill="url(#g51)"/>
<path d="M631.00,202.60 L655.00,202.60 L655.00,207.60 C655.00,212.60 652.00,211.60 652.00,223.80 C652.00,233.00 654.10,236.00 654.10,239.00 L631.90,239.00 C631.90,236.00 634.00,233.00 634.00,223.80 C634.00,211.60 631.00,212.60 631.00,207.60 Z" fill="url(#g52)"/>
</g>
<rect x="684.80" y="140.50" width="146.20" height="36.30" fill="url(#g53)" />
<rect x="684.80" y="140.50" width="146.20" height="36.30" fill="url(#g54)" />
<rect x="714.04" y="140.50" width="116.96" height="7.00" fill="url(#g55)" />
<path d="M805.0,163.0 l-0.5,4.6" stroke="#164e9e" stroke-opacity="0.3" stroke-width="0.6" fill="none"/>
<path d="M750.4,155.1 l-0.0,4.8" stroke="#164e9e" stroke-opacity="0.3" stroke-width="0.6" fill="none"/>
<path d="M829.7,164.3 l-0.2,7.2" stroke="#164e9e" stroke-opacity="0.3" stroke-width="0.6" fill="none"/>
<path d="M821.3,150.4 l0.2,8.8" stroke="#164e9e" stroke-opacity="0.3" stroke-width="0.6" fill="none"/>
<path d="M757.6,167.8 l0.4,4.9" stroke="#164e9e" stroke-opacity="0.3" stroke-width="0.6" fill="none"/>
<path d="M730.8,166.1 l-0.1,5.1" stroke="#164e9e" stroke-opacity="0.3" stroke-width="0.6" fill="none"/>
<path d="M767.8,164.2 l0.5,8.5" stroke="#164e9e" stroke-opacity="0.3" stroke-width="0.6" fill="none"/>
<path d="M802.9,150.8 l-0.2,3.0" stroke="#164e9e" stroke-opacity="0.3" stroke-width="0.6" fill="none"/>
<path d="M737.3,154.8 l-0.4,5.9" stroke="#164e9e" stroke-opacity="0.3" stroke-width="0.6" fill="none"/>
<path d="M729.3,162.4 l-0.1,4.5" stroke="#164e9e" stroke-opacity="0.3" stroke-width="0.6" fill="none"/>
<path d="M793.6,154.5 l-0.6,8.0" stroke="#164e9e" stroke-opacity="0.3" stroke-width="0.6" fill="none"/>
<path d="M801.5,167.8 l-0.2,4.6" stroke="#164e9e" stroke-opacity="0.3" stroke-width="0.6" fill="none"/>
<path d="M794.8,150.1 l0.6,6.9" stroke="#164e9e" stroke-opacity="0.3" stroke-width="0.6" fill="none"/>
<path d="M777.6,147.8 l-0.3,5.5" stroke="#164e9e" stroke-opacity="0.3" stroke-width="0.6" fill="none"/>
<path d="M827.8,150.0 l0.1,3.5" stroke="#164e9e" stroke-opacity="0.3" stroke-width="0.6" fill="none"/>
<path d="M826.7,164.7 l0.4,7.5" stroke="#164e9e" stroke-opacity="0.3" stroke-width="0.6" fill="none"/>
<path d="M734.9,152.4 l-0.6,6.3" stroke="#164e9e" stroke-opacity="0.3" stroke-width="0.6" fill="none"/>
<path d="M723.4,151.1 l-0.4,8.5" stroke="#164e9e" stroke-opacity="0.3" stroke-width="0.6" fill="none"/>
<path d="M805.6,153.4 l0.6,4.0" stroke="#164e9e" stroke-opacity="0.3" stroke-width="0.6" fill="none"/>
<path d="M730.3,155.8 l0.4,3.6" stroke="#164e9e" stroke-opacity="0.3" stroke-width="0.6" fill="none"/>
<path d="M805.5,159.7 l0.4,5.0" stroke="#164e9e" stroke-opacity="0.3" stroke-width="0.6" fill="none"/>
<path d="M718.9,148.9 l0.3,6.0" stroke="#164e9e" stroke-opacity="0.3" stroke-width="0.6" fill="none"/>
<path d="M802.6,151.3 l-0.3,4.3" stroke="#164e9e" stroke-opacity="0.3" stroke-width="0.6" fill="none"/>
<path d="M812.7,163.6 l-0.4,7.4" stroke="#164e9e" stroke-opacity="0.3" stroke-width="0.6" fill="none"/>
<path d="M718.5,157.8 l-0.3,7.6" stroke="#164e9e" stroke-opacity="0.3" stroke-width="0.6" fill="none"/>
<path d="M797.4,163.1 l-0.4,3.3" stroke="#164e9e" stroke-opacity="0.3" stroke-width="0.6" fill="none"/>
<path d="M788.3,163.4 l-0.6,8.0" stroke="#164e9e" stroke-opacity="0.3" stroke-width="0.6" fill="none"/>
<path d="M818.1,155.3 l0.0,6.9" stroke="#164e9e" stroke-opacity="0.3" stroke-width="0.6" fill="none"/>
<path d="M821.4,162.3 l0.0,7.6" stroke="#164e9e" stroke-opacity="0.3" stroke-width="0.6" fill="none"/>
<path d="M770.8,147.3 l0.1,5.5" stroke="#164e9e" stroke-opacity="0.3" stroke-width="0.6" fill="none"/>
<path d="M752.9,156.1 l-0.3,4.9" stroke="#164e9e" stroke-opacity="0.3" stroke-width="0.6" fill="none"/>
<path d="M800.7,168.0 l-0.1,8.1" stroke="#164e9e" stroke-opacity="0.3" stroke-width="0.6" fill="none"/>
<path d="M728.6,159.0 l0.3,7.7" stroke="#164e9e" stroke-opacity="0.3" stroke-width="0.6" fill="none"/>
<path d="M758.9,150.6 l0.6,6.7" stroke="#164e9e" stroke-opacity="0.3" stroke-width="0.6" fill="none"/>
<path d="M789.8,154.9 l-0.5,6.4" stroke="#164e9e" stroke-opacity="0.3" stroke-width="0.6" fill="none"/>
<path d="M761.0,168.1 l0.2,7.5" stroke="#164e9e" stroke-opacity="0.3" stroke-width="0.6" fill="none"/>
<path d="M780.1,164.8 l-0.4,9.0" stroke="#164e9e" stroke-opacity="0.3" stroke-width="0.6" fill="none"/>
<path d="M781.4,161.0 l-0.4,3.5" stroke="#164e9e" stroke-opacity="0.3" stroke-width="0.6" fill="none"/>
<path d="M795.8,164.1 l0.2,4.5" stroke="#164e9e" stroke-opacity="0.3" stroke-width="0.6" fill="none"/>
<path d="M770.5,165.2 l0.2,8.5" stroke="#164e9e" stroke-opacity="0.3" stroke-width="0.6" fill="none"/>
<path d="M724.4,165.3 l-0.6,6.8" stroke="#164e9e" stroke-opacity="0.3" stroke-width="0.6" fill="none"/>
<path d="M776.0,148.3 l-0.1,7.0" stroke="#164e9e" stroke-opacity="0.3" stroke-width="0.6" fill="none"/>
<path d="M814.6,148.4 l0.0,7.8" stroke="#164e9e" stroke-opacity="0.3" stroke-width="0.6" fill="none"/>
<path d="M727.6,168.2 l0.5,5.1" stroke="#164e9e" stroke-opacity="0.3" stroke-width="0.6" fill="none"/>
<path d="M738.3,150.0 l-0.3,5.5" stroke="#164e9e" stroke-opacity="0.3" stroke-width="0.6" fill="none"/>
<polygon points="710.14,147.54 713.28,147.54 716.60,152.16 714.89,157.40 714.42,165.10 717.08,171.56 718.41,176.80 714.32,176.80 711.66,166.02 711.19,157.40" fill="#0e2c50"/>
<path d="M712.42,149.08 Q714.23,161.40 716.80,176.18" stroke="#2a7aa0" stroke-width="0.6" fill="none" stroke-dasharray="3 2"/>
<path d="M718.41,177.42 C717.08,171.56 713.75,167.56 714.61,161.40 C715.18,155.24 718.51,152.16 721.36,147.85 L723.83,147.85 C725.16,155.24 724.40,167.56 724.02,177.42 Z" fill="#fff"/>
<text x="686.00" y="185.20" font-family="'Liberation Serif', serif" font-size="5.6" font-weight="bold" fill="#000" text-anchor="start" textLength="32.00" lengthAdjust="spacingAndGlyphs" >Metal-OPT</text>
<g clip-path="url(#cb11)">
<path d="M841.00,140.50 L865.00,140.50 L865.00,145.50 C865.00,150.50 863.80,149.50 863.80,161.40 C863.80,170.30 864.64,173.30 864.64,176.30 L841.36,176.30 C841.36,173.30 842.20,170.30 842.20,161.40 C842.20,149.50 841.00,150.50 841.00,145.50 Z" fill="url(#g56)"/>
<path d="M841.00,140.50 L865.00,140.50 L865.00,145.50 C865.00,150.50 863.80,149.50 863.80,161.40 C863.80,170.30 864.64,173.30 864.64,176.30 L841.36,176.30 C841.36,173.30 842.20,170.30 842.20,161.40 C842.20,149.50 841.00,150.50 841.00,145.50 Z" fill="url(#g57)"/>
</g>
<rect x="686.00" y="202.60" width="145.00" height="35.40" fill="url(#g58)" />
<rect x="686.00" y="202.60" width="145.00" height="35.40" fill="url(#g59)" />
<rect x="715.00" y="202.60" width="116.00" height="7.00" fill="url(#g60)" />
<rect x="686.00" y="202.60" width="145.00" height="35.40" fill="url(#g61)" />
<path d="M796.3,230.5 l0.1,8.7" stroke="#164e9e" stroke-opacity="0.3" stroke-width="0.6" fill="none"/>
<path d="M764.1,224.0 l-0.6,5.5" stroke="#164e9e" stroke-opacity="0.3" stroke-width="0.6" fill="none"/>
<path d="M717.6,211.7 l0.4,3.7" stroke="#164e9e" stroke-opacity="0.3" stroke-width="0.6" fill="none"/>
<path d="M749.5,220.9 l0.0,3.2" stroke="#164e9e" stroke-opacity="0.3" stroke-width="0.6" fill="none"/>
<path d="M727.7,224.4 l-0.1,3.6" stroke="#164e9e" stroke-opacity="0.3" stroke-width="0.6" fill="none"/>
<path d="M770.0,217.3 l0.6,3.3" stroke="#164e9e" stroke-opacity="0.3" stroke-width="0.6" fill="none"/>
<path d="M735.7,210.3 l0.1,8.8" stroke="#164e9e" stroke-opacity="0.3" stroke-width="0.6" fill="none"/>
<path d="M804.4,211.2 l0.0,5.1" stroke="#164e9e" stroke-opacity="0.3" stroke-width="0.6" fill="none"/>
<path d="M827.4,225.1 l0.1,4.5" stroke="#164e9e" stroke-opacity="0.3" stroke-width="0.6" fill="none"/>
<path d="M765.2,220.9 l-0.1,6.4" stroke="#164e9e" stroke-opacity="0.3" stroke-width="0.6" fill="none"/>
<path d="M725.4,218.4 l0.6,5.4" stroke="#164e9e" stroke-opacity="0.3" stroke-width="0.6" fill="none"/>
<path d="M773.2,226.2 l0.4,7.4" stroke="#164e9e" stroke-opacity="0.3" stroke-width="0.6" fill="none"/>
<path d="M758.8,225.3 l-0.4,6.7" stroke="#164e9e" stroke-opacity="0.3" stroke-width="0.6" fill="none"/>
<path d="M716.8,213.1 l-0.4,5.1" stroke="#164e9e" stroke-opacity="0.3" stroke-width="0.6" fill="none"/>
<path d="M799.9,209.1 l0.5,3.6" stroke="#164e9e" stroke-opacity="0.3" stroke-width="0.6" fill="none"/>
<path d="M824.3,230.8 l0.1,8.0" stroke="#164e9e" stroke-opacity="0.3" stroke-width="0.6" fill="none"/>
<path d="M823.2,219.1 l0.4,3.2" stroke="#164e9e" stroke-opacity="0.3" stroke-width="0.6" fill="none"/>
<path d="M804.8,223.8 l0.3,3.9" stroke="#164e9e" stroke-opacity="0.3" stroke-width="0.6" fill="none"/>
<path d="M724.6,220.8 l0.1,7.1" stroke="#164e9e" stroke-opacity="0.3" stroke-width="0.6" fill="none"/>
<path d="M735.6,221.9 l0.6,4.5" stroke="#164e9e" stroke-opacity="0.3" stroke-width="0.6" fill="none"/>
<path d="M809.3,231.1 l0.2,5.6" stroke="#164e9e" stroke-opacity="0.3" stroke-width="0.6" fill="none"/>
<path d="M763.1,219.5 l-0.5,3.4" stroke="#164e9e" stroke-opacity="0.3" stroke-width="0.6" fill="none"/>
<path d="M747.2,212.7 l0.5,5.2" stroke="#164e9e" stroke-opacity="0.3" stroke-width="0.6" fill="none"/>
<path d="M815.7,221.8 l0.5,8.4" stroke="#164e9e" stroke-opacity="0.3" stroke-width="0.6" fill="none"/>
<path d="M796.8,219.1 l-0.3,6.4" stroke="#164e9e" stroke-opacity="0.3" stroke-width="0.6" fill="none"/>
<path d="M750.8,228.0 l-0.5,6.8" stroke="#164e9e" stroke-opacity="0.3" stroke-width="0.6" fill="none"/>
<path d="M754.0,218.4 l0.1,8.9" stroke="#164e9e" stroke-opacity="0.3" stroke-width="0.6" fill="none"/>
<path d="M829.3,217.0 l0.5,8.7" stroke="#164e9e" stroke-opacity="0.3" stroke-width="0.6" fill="none"/>
<path d="M775.5,221.8 l-0.4,7.7" stroke="#164e9e" stroke-opacity="0.3" stroke-width="0.6" fill="none"/>
<path d="M770.8,226.4 l0.5,6.7" stroke="#164e9e" stroke-opacity="0.3" stroke-width="0.6" fill="none"/>
<path d="M794.9,221.4 l-0.4,5.8" stroke="#164e9e" stroke-opacity="0.3" stroke-width="0.6" fill="none"/>
<path d="M722.2,212.8 l0.6,5.3" stroke="#164e9e" stroke-opacity="0.3" stroke-width="0.6" fill="none"/>
<path d="M730.5,218.8 l-0.5,6.6" stroke="#164e9e" stroke-opacity="0.3" stroke-width="0.6" fill="none"/>
<path d="M741.3,213.7 l0.2,8.6" stroke="#164e9e" stroke-opacity="0.3" stroke-width="0.6" fill="none"/>
<path d="M716.6,225.3 l0.1,5.9" stroke="#164e9e" stroke-opacity="0.3" stroke-width="0.6" fill="none"/>
<path d="M763.5,208.9 l-0.2,6.1" stroke="#164e9e" stroke-opacity="0.3" stroke-width="0.6" fill="none"/>
<path d="M753.6,231.9 l-0.2,8.1" stroke="#164e9e" stroke-opacity="0.3" stroke-width="0.6" fill="none"/>
<path d="M808.2,227.2 l-0.0,6.0" stroke="#164e9e" stroke-opacity="0.3" stroke-width="0.6" fill="none"/>
<path d="M812.0,211.4 l-0.3,3.1" stroke="#164e9e" stroke-opacity="0.3" stroke-width="0.6" fill="none"/>
<path d="M771.5,219.2 l0.5,8.6" stroke="#164e9e" stroke-opacity="0.3" stroke-width="0.6" fill="none"/>
<path d="M761.7,220.2 l-0.5,7.5" stroke="#164e9e" stroke-opacity="0.3" stroke-width="0.6" fill="none"/>
<path d="M774.7,212.5 l0.5,3.3" stroke="#164e9e" stroke-opacity="0.3" stroke-width="0.6" fill="none"/>
<path d="M737.1,219.8 l0.6,3.8" stroke="#164e9e" stroke-opacity="0.3" stroke-width="0.6" fill="none"/>
<path d="M745.6,227.1 l-0.2,8.6" stroke="#164e9e" stroke-opacity="0.3" stroke-width="0.6" fill="none"/>
<path d="M717.2,214.2 l-0.2,8.1" stroke="#164e9e" stroke-opacity="0.3" stroke-width="0.6" fill="none"/>
<path d="M712.20,238.00 C711.90,222.88 713.24,210.50 715.65,210.50 C718.07,210.50 719.40,222.88 719.10,238.00 Z" fill="#0e2c50"/>
<path d="M714.00,238.50 C713.70,223.38 714.84,211.00 716.80,211.00 C718.76,211.00 719.90,223.38 719.60,238.50 Z" fill="#fff"/>
<path d="M732.80,238.50 C732.50,223.65 733.82,211.50 736.20,211.50 C738.58,211.50 739.90,223.65 739.60,238.50 Z" fill="#fff"/>
<path d="M804.60,238.00 C804.30,223.43 805.76,211.50 808.45,211.50 C811.14,211.50 812.60,223.43 812.30,238.00 Z" fill="#0e2c50"/>
<path d="M806.40,238.50 C806.10,223.93 807.36,212.00 809.60,212.00 C811.84,212.00 813.10,223.93 812.80,238.50 Z" fill="#fff"/>
<path d="M831.6,210.6 C830.0,214.6 828.1,216.6 828.1,222.3 C828.1,230.0 829.8,234.0 830.2,238.6 L831.6,238.6 Z" fill="#fff"/>
<text x="686.00" y="246.80" font-family="'Liberation Serif', serif" font-size="5.6" font-weight="bold" fill="#000" text-anchor="start" textLength="38.00" lengthAdjust="spacingAndGlyphs" >Gravity-OPT</text>
<g clip-path="url(#cb12)">
<path d="M841.50,202.00 L865.00,202.00 L865.00,207.00 C865.00,212.00 861.60,211.00 861.60,223.40 C861.60,232.80 863.98,235.80 863.98,238.80 L842.52,238.80 C842.52,235.80 844.90,232.80 844.90,223.40 C844.90,211.00 841.50,212.00 841.50,207.00 Z" fill="url(#g62)"/>
<path d="M841.50,202.00 L865.00,202.00 L865.00,207.00 C865.00,212.00 861.60,211.00 861.60,223.40 C861.60,232.80 863.98,235.80 863.98,238.80 L842.52,238.80 C842.52,235.80 844.90,232.80 844.90,223.40 C844.90,211.00 841.50,212.00 841.50,207.00 Z" fill="url(#g63)"/>
<path d="M841.50,202.00 L865.00,202.00 L865.00,207.00 C865.00,212.00 861.60,211.00 861.60,223.40 C861.60,232.80 863.98,235.80 863.98,238.80 L842.52,238.80 C842.52,235.80 844.90,232.80 844.90,223.40 C844.90,211.00 841.50,212.00 841.50,207.00 Z" fill="url(#g64)"/>
<path d="M841.50,202.00 L865.00,202.00 L865.00,207.00 C865.00,212.00 861.60,211.00 861.60,223.40 C861.60,232.80 863.98,235.80 863.98,238.80 L842.52,238.80 C842.52,235.80 844.90,232.80 844.90,223.40 C844.90,211.00 841.50,212.00 841.50,207.00 Z" fill="url(#g65)"/>
</g>
</g>
<text x="675.50" y="270.50" font-family="'Liberation Serif', serif" font-size="13.7" font-weight="normal" fill="#000" text-anchor="middle" textLength="341.00" lengthAdjust="spacingAndGlyphs" >The residual distortion distributions for the optimized support</text>
<text x="674.50" y="287.00" font-family="'Liberation Serif', serif" font-size="13.7" font-weight="normal" fill="#000" text-anchor="middle" textLength="363.00" lengthAdjust="spacingAndGlyphs" >structures from Gravity-OPT, GravityEasy-OPT, Metal-OPT, and</text>
<text x="674.50" y="303.50" font-family="'Liberation Serif', serif" font-size="13.7" font-weight="normal" fill="#000" text-anchor="middle" textLength="89.00" lengthAdjust="spacingAndGlyphs" >MetalEasy-OPT</text>
<g filter="url(#soft)">
<polygon points="39.60,328.70 56.50,334.60 55.60,362.40 45.30,366.00 42.00,365.30" fill="#aab4c9" />
<polygon points="39.60,328.70 56.50,334.60 55.60,362.40 45.30,366.00 42.00,365.30" fill="url(#g66)" />
<polygon points="55.30,334.00 152.50,369.80 180.20,364.20 180.20,407.50 150.90,420.20 145.40,417.00 144.60,410.70 137.50,406.00 121.60,396.50 105.80,390.00 90.00,383.80 75.00,375.50 56.00,369.60 55.60,362.40" fill="#737e97" />
<polygon points="152.50,369.80 180.20,364.20 180.20,407.50 150.90,420.20 145.40,417.00 144.60,410.70 151.50,389.80" fill="#858fa8" />
<g clip-path="url(#cb13)" stroke="#59647f" stroke-opacity="0.55" stroke-width="0.8" fill="none" stroke-linecap="round"><path d="M65.8,370.6 l-2.3,9.6"/><path d="M60.0,344.0 l1.3,3.6"/><path d="M127.0,365.2 l2.6,4.3"/><path d="M146.3,384.6 l-3.9,8.9"/><path d="M74.3,348.6 l-0.1,7.4"/><path d="M106.7,372.2 l-0.5,5.2"/><path d="M145.7,386.0 l-0.7,3.9"/><path d="M98.5,374.3 l0.0,9.7"/><path d="M115.0,385.1 l2.6,4.7"/><path d="M143.1,401.2 l-0.8,9.5"/><path d="M148.0,395.6 l2.6,6.7"/><path d="M63.8,353.6 l0.1,3.9"/><path d="M80.0,376.0 l-1.3,7.2"/><path d="M134.4,380.0 l1.4,5.9"/><path d="M132.5,372.9 l3.0,7.4"/><path d="M56.7,363.1 l-2.2,4.8"/><path d="M124.4,387.9 l4.0,8.0"/><path d="M143.7,376.8 l0.3,5.6"/><path d="M105.7,355.1 l-1.0,7.3"/><path d="M122.4,390.7 l1.4,2.8"/><path d="M57.2,354.1 l0.3,4.6"/><path d="M53.6,369.8 l4.7,7.9"/><path d="M119.0,377.4 l-0.5,8.9"/><path d="M147.5,401.6 l-0.9,3.7"/><path d="M87.9,374.8 l-1.7,9.6"/><path d="M93.3,377.0 l0.2,3.4"/><path d="M111.3,367.0 l-1.2,7.2"/><path d="M93.0,381.2 l0.3,5.6"/><path d="M103.6,361.4 l1.0,4.9"/><path d="M117.3,393.6 l-1.0,6.4"/><path d="M93.4,363.1 l3.5,6.1"/><path d="M150.9,386.1 l1.1,3.0"/><path d="M88.6,352.6 l2.1,6.1"/><path d="M110.9,373.4 l-0.3,8.2"/><path d="M63.9,355.0 l-3.0,7.7"/><path d="M90.8,355.2 l4.3,6.2"/><path d="M135.2,380.4 l1.4,6.3"/><path d="M78.3,365.5 l1.1,3.2"/><path d="M145.0,378.2 l1.5,6.9"/><path d="M149.3,372.7 l1.9,4.2"/><path d="M97.6,374.9 l4.7,7.9"/><path d="M56.1,346.5 l0.6,3.9"/><path d="M91.4,382.9 l1.7,9.7"/><path d="M116.3,379.7 l-2.9,8.7"/><path d="M67.5,372.5 l-1.5,7.7"/><path d="M62.2,337.3 l-1.8,8.0"/><path d="M84.5,372.7 l-0.4,10.0"/><path d="M90.1,377.2 l2.2,9.5"/><path d="M78.6,357.8 l1.7,5.9"/><path d="M127.6,377.3 l1.7,8.8"/><path d="M97.4,385.1 l-1.1,8.2"/><path d="M137.4,398.9 l1.4,6.6"/><path d="M55.9,347.5 l-1.2,2.7"/><path d="M86.8,345.7 l-1.1,5.4"/><path d="M121.4,376.2 l-0.9,3.5"/><path d="M129.2,382.1 l0.8,8.6"/><path d="M101.4,378.3 l2.1,7.9"/><path d="M130.2,386.7 l-1.8,5.3"/><path d="M147.8,381.8 l0.9,5.4"/><path d="M112.1,375.9 l4.9,8.1"/><path d="M142.2,402.8 l-1.1,8.0"/><path d="M128.1,365.3 l-2.7,8.6"/><path d="M124.2,378.3 l1.5,6.4"/><path d="M102.6,387.9 l-3.0,6.8"/><path d="M142.3,395.1 l-0.1,5.7"/><path d="M110.9,365.3 l1.7,7.6"/><path d="M131.3,385.8 l3.1,9.5"/><path d="M57.2,353.7 l-1.9,7.3"/><path d="M141.4,402.4 l-0.9,5.7"/><path d="M135.6,379.3 l1.4,5.4"/><path d="M96.6,351.1 l-2.1,9.7"/><path d="M110.2,365.2 l-2.5,8.0"/><path d="M92.3,355.8 l-1.3,4.6"/><path d="M117.5,380.7 l2.5,3.5"/><path d="M90.2,353.7 l1.8,6.5"/><path d="M81.7,356.8 l-1.4,8.1"/><path d="M89.8,378.7 l0.0,6.9"/><path d="M122.1,392.1 l-1.2,2.8"/><path d="M114.8,389.7 l-0.1,9.3"/><path d="M56.6,349.7 l-1.8,6.8"/><path d="M69.4,350.3 l2.6,4.0"/><path d="M64.6,357.5 l4.0,8.7"/><path d="M82.8,368.1 l-0.5,5.5"/><path d="M68.0,360.9 l3.7,7.2"/><path d="M60.5,338.2 l-1.1,9.4"/><path d="M70.4,341.9 l0.9,3.5"/><path d="M142.2,393.3 l-0.0,7.5"/><path d="M105.5,370.7 l-1.5,5.6"/><path d="M84.1,370.0 l2.4,9.4"/><path d="M96.9,357.3 l-1.2,5.4"/><path d="M73.3,351.3 l-1.4,6.9"/><path d="M66.3,345.2 l-0.7,7.5"/><path d="M75.6,353.2 l-1.7,5.0"/><path d="M141.4,379.9 l2.4,5.7"/><path d="M101.8,353.9 l2.3,5.3"/><path d="M136.6,382.3 l-0.4,3.3"/><path d="M106.4,379.1 l2.7,7.8"/><path d="M80.0,344.9 l-1.4,9.5"/><path d="M102.6,354.6 l-1.4,6.7"/><path d="M65.0,363.7 l-1.4,6.1"/><path d="M97.1,381.1 l0.3,5.2"/><path d="M112.1,385.3 l-1.9,7.7"/><path d="M79.8,363.2 l4.0,5.9"/><path d="M134.0,369.0 l0.3,9.0"/><path d="M128.2,383.6 l4.9,8.0"/><path d="M86.2,369.5 l2.5,3.8"/><path d="M67.1,359.0 l0.8,6.1"/><path d="M56.5,343.9 l1.9,3.1"/><path d="M69.4,345.7 l2.7,5.7"/><path d="M128.2,372.3 l-1.4,3.2"/><path d="M63.9,365.1 l-2.0,6.1"/><path d="M70.4,372.9 l-2.5,8.9"/><path d="M97.7,381.1 l1.9,5.3"/><path d="M57.0,340.4 l2.7,9.1"/><path d="M91.4,372.2 l2.9,5.3"/><path d="M89.9,382.2 l-2.4,5.5"/><path d="M79.6,377.0 l-0.8,3.4"/><path d="M112.2,386.2 l-2.4,5.5"/><path d="M111.3,388.5 l-0.6,5.6"/><path d="M126.6,361.0 l-1.5,7.7"/></g>
<g clip-path="url(#cb13)" stroke="#b8c1d4" stroke-opacity="0.55" stroke-width="0.7" fill="none" stroke-linecap="round"><path d="M72.4,343.5 l2.5,4.6"/><path d="M137.3,401.2 l1.0,6.3"/><path d="M72.6,363.1 l-2.3,6.8"/><path d="M84.8,370.3 l-0.4,6.1"/><path d="M134.6,385.9 l3.2,6.1"/><path d="M147.9,371.4 l-0.2,3.0"/><path d="M86.7,355.3 l0.4,4.9"/><path d="M145.9,400.7 l0.1,6.3"/><path d="M148.8,395.6 l2.8,4.5"/><path d="M77.2,346.3 l1.4,5.7"/><path d="M94.2,379.0 l0.9,6.4"/><path d="M109.3,387.5 l2.8,4.9"/><path d="M141.1,370.6 l2.3,5.5"/><path d="M129.2,367.1 l-3.1,6.8"/><path d="M121.0,387.2 l-1.2,4.7"/><path d="M147.3,370.7 l-0.5,4.2"/><path d="M89.4,364.0 l0.3,2.8"/><path d="M65.7,345.5 l3.6,6.7"/><path d="M117.2,364.0 l0.2,5.8"/><path d="M113.8,373.7 l-0.3,7.0"/><path d="M78.2,375.3 l0.3,2.3"/><path d="M104.8,352.5 l-0.7,2.5"/><path d="M98.6,367.1 l1.2,2.0"/><path d="M136.9,371.0 l2.0,3.4"/><path d="M86.2,373.3 l-1.4,4.8"/><path d="M152.6,371.3 l-0.3,2.8"/><path d="M69.4,340.8 l-1.0,2.1"/><path d="M95.0,370.7 l0.7,2.6"/><path d="M92.0,376.2 l2.5,5.6"/><path d="M101.7,357.0 l-0.1,4.1"/><path d="M150.1,395.2 l0.3,4.8"/><path d="M135.4,386.2 l-0.7,3.8"/><path d="M124.4,365.2 l-0.8,6.5"/><path d="M111.0,389.3 l-0.4,3.4"/><path d="M132.8,396.3 l-1.5,3.6"/><path d="M113.7,387.6 l1.5,6.5"/><path d="M100.1,380.2 l-1.5,4.3"/><path d="M76.3,347.2 l0.9,2.9"/><path d="M60.1,358.7 l-1.0,4.3"/><path d="M109.0,356.7 l2.2,3.3"/><path d="M72.1,344.8 l1.2,5.4"/><path d="M122.1,388.8 l-3.0,7.2"/><path d="M95.9,376.5 l1.0,3.5"/><path d="M107.5,356.5 l-0.7,7.3"/><path d="M112.5,369.4 l-0.6,4.4"/><path d="M99.1,382.3 l1.4,2.1"/><path d="M145.6,397.8 l1.6,4.1"/><path d="M56.1,356.7 l1.3,1.9"/><path d="M84.6,372.1 l0.7,3.5"/><path d="M96.5,359.5 l0.3,4.1"/><path d="M77.9,370.2 l2.6,4.3"/><path d="M89.4,355.1 l0.1,4.3"/><path d="M89.4,379.5 l-0.8,2.3"/><path d="M64.6,357.7 l-0.2,4.5"/><path d="M140.4,367.9 l-1.0,3.0"/><path d="M114.5,369.9 l-0.4,3.9"/><path d="M112.1,360.3 l-0.5,4.0"/><path d="M143.3,395.6 l-0.2,2.7"/><path d="M88.0,356.9 l1.0,3.0"/><path d="M126.4,393.7 l2.3,3.8"/><path d="M132.9,389.5 l0.7,4.9"/><path d="M57.0,362.9 l-1.5,4.5"/><path d="M133.8,399.3 l0.4,2.0"/><path d="M105.3,385.4 l0.0,2.9"/><path d="M81.1,361.0 l1.6,3.4"/><path d="M120.6,360.9 l3.8,6.9"/><path d="M76.0,355.5 l-1.6,4.7"/><path d="M65.3,360.8 l0.8,3.4"/><path d="M100.0,378.7 l2.5,4.2"/><path d="M91.2,362.9 l-0.3,4.3"/></g>
<polygon points="55.30,334.00 152.50,369.80 152.50,373.30 55.30,337.50" fill="#4f5a74" opacity="0.45"/>
<g clip-path="url(#cb13)" stroke="#5f6a85" stroke-opacity="0.5" stroke-width="0.8" fill="none" stroke-linecap="round"><path d="M155.5,384.9 l1.9,6.9"/><path d="M164.4,390.8 l-0.1,4.6"/><path d="M162.7,382.3 l0.6,5.3"/><path d="M176.4,386.2 l1.0,8.9"/><path d="M165.6,377.0 l0.8,8.2"/><path d="M170.6,371.8 l1.0,6.2"/><path d="M176.2,377.1 l-0.4,8.7"/><path d="M162.6,382.2 l-1.2,8.5"/><path d="M174.0,382.7 l1.7,6.5"/><path d="M174.2,384.7 l0.9,6.8"/><path d="M172.6,381.6 l-1.7,4.6"/><path d="M172.8,385.8 l-1.1,8.0"/><path d="M163.6,393.6 l-1.0,8.4"/><path d="M164.8,380.8 l-0.9,3.2"/><path d="M174.2,383.5 l-1.2,5.7"/><path d="M155.0,378.0 l-0.3,4.5"/><path d="M162.9,383.8 l0.5,8.4"/><path d="M157.2,367.2 l0.2,8.0"/><path d="M165.0,367.6 l1.2,3.4"/><path d="M175.7,368.1 l0.1,4.9"/><path d="M168.1,373.0 l-0.7,6.8"/><path d="M177.8,369.4 l1.3,4.6"/><path d="M161.4,372.8 l-0.7,3.1"/><path d="M161.0,387.7 l-1.6,7.7"/><path d="M155.1,383.2 l-0.7,8.1"/></g>
<polygon points="120.89,357.57 152.50,368.80 180.20,358.30 180.20,359.80 152.50,370.70 120.89,359.02" fill="#c9d0e0" />
<path d="M22.70,314.00 L152.50,361.60 L180.20,351.40 M152.50,361.60 L152.50,368.80" stroke="#72001a" stroke-width="1.6" fill="none"/>
<polygon points="22.70,314.00 152.50,361.60 152.50,368.80 39.60,328.70 42.00,365.30 26.70,356.70" fill="#6e0019" stroke="#6e0019" stroke-width="0.4"/>
<polygon points="152.50,361.60 180.20,351.40 180.20,358.30 152.50,368.80" fill="#86001c" stroke="#86001c" stroke-width="0.3"/>
<polygon points="22.70,314.00 48.70,309.10 180.20,351.40 152.50,361.60" fill="#98001f" stroke="#98001f" stroke-width="0.4"/>
<text x="19.30" y="412.90" font-family="'Liberation Serif', serif" font-size="11" font-weight="bold" fill="#000" text-anchor="start" textLength="77.00" lengthAdjust="spacingAndGlyphs" >MetalEasy-OPT</text>
<polygon points="39.90,456.30 56.80,462.20 55.90,490.00 45.60,493.60 42.30,492.90" fill="#aab4c9" />
<polygon points="39.90,456.30 56.80,462.20 55.90,490.00 45.60,493.60 42.30,492.90" fill="url(#g67)" />
<polygon points="55.60,461.60 152.80,497.40 180.50,491.80 179.60,536.25 153.30,547.70 148.10,543.50 145.00,536.25 138.75,534.20 128.30,532.10 117.90,526.90 113.75,521.70 95.00,512.30 82.50,507.10 72.10,501.90 58.50,496.70 56.20,490.20" fill="#737e97" />
<polygon points="152.80,497.40 180.50,491.80 179.60,536.25 153.30,547.70 148.10,543.50 145.00,536.25 151.80,517.40" fill="#858fa8" />
<g clip-path="url(#cb14)" stroke="#59647f" stroke-opacity="0.55" stroke-width="0.8" fill="none" stroke-linecap="round"><path d="M113.9,513.7 l1.6,6.5"/><path d="M103.6,486.3 l-2.0,7.4"/><path d="M117.1,500.0 l3.8,7.4"/><path d="M105.4,499.5 l3.0,4.4"/><path d="M122.7,509.1 l-1.0,6.6"/><path d="M68.2,493.4 l3.7,8.3"/><path d="M125.1,513.3 l1.4,7.8"/><path d="M147.4,512.8 l3.5,7.2"/><path d="M142.0,526.5 l1.9,3.6"/><path d="M111.9,499.1 l-0.6,4.4"/><path d="M128.0,493.0 l0.0,3.3"/><path d="M64.2,484.9 l-2.3,9.2"/><path d="M120.5,503.9 l2.6,4.3"/><path d="M124.6,510.2 l0.9,6.5"/><path d="M144.4,499.7 l-1.8,9.5"/><path d="M144.6,509.8 l0.4,4.1"/><path d="M102.7,508.3 l-1.9,4.4"/><path d="M75.2,500.0 l-0.7,4.6"/><path d="M81.7,488.9 l-1.2,4.6"/><path d="M148.7,501.2 l0.5,3.1"/><path d="M127.7,523.7 l-1.0,9.9"/><path d="M80.5,473.4 l-1.0,5.7"/><path d="M85.0,492.9 l-0.6,9.3"/><path d="M65.9,474.1 l1.5,8.6"/><path d="M100.1,488.5 l-2.5,5.6"/><path d="M85.4,496.6 l-0.3,5.3"/><path d="M97.8,497.3 l0.1,8.1"/><path d="M122.9,492.1 l1.5,5.3"/><path d="M57.9,481.6 l-0.8,6.3"/><path d="M60.4,490.6 l-1.0,3.1"/><path d="M106.8,511.6 l1.5,5.7"/><path d="M98.8,494.3 l-3.3,7.3"/><path d="M128.4,515.9 l0.0,6.5"/><path d="M98.1,513.2 l0.2,7.0"/><path d="M65.8,499.8 l-0.9,4.6"/><path d="M81.1,481.2 l-1.4,7.0"/><path d="M60.0,482.2 l1.3,4.5"/><path d="M110.4,488.1 l1.3,3.3"/><path d="M116.8,512.6 l1.8,7.9"/><path d="M111.4,505.3 l2.7,7.0"/><path d="M118.9,521.5 l-2.4,6.4"/><path d="M119.4,512.7 l1.6,7.1"/><path d="M123.9,511.6 l-1.8,4.2"/><path d="M143.7,528.5 l2.5,9.6"/><path d="M73.0,486.6 l1.4,3.8"/><path d="M124.8,510.5 l-0.8,5.8"/><path d="M80.6,478.8 l-0.9,3.0"/><path d="M90.3,509.4 l0.2,5.6"/><path d="M68.8,499.1 l-2.1,8.5"/><path d="M143.4,496.3 l-0.3,3.9"/><path d="M108.0,507.5 l-0.1,4.5"/><path d="M94.6,505.3 l-1.0,4.2"/><path d="M129.3,505.7 l2.0,4.0"/><path d="M122.7,507.4 l1.8,5.3"/><path d="M72.4,483.5 l-1.2,3.9"/><path d="M69.4,473.0 l-1.4,6.8"/><path d="M60.2,488.8 l1.5,8.7"/><path d="M96.4,487.0 l2.8,8.7"/><path d="M144.5,527.9 l0.7,3.9"/><path d="M135.8,500.5 l0.2,3.1"/><path d="M107.8,490.9 l3.1,6.8"/><path d="M133.5,505.3 l0.1,3.9"/><path d="M82.6,498.5 l2.2,6.5"/><path d="M80.4,504.4 l-0.0,5.5"/><path d="M76.8,491.1 l-0.1,5.1"/><path d="M106.4,485.4 l2.6,5.3"/><path d="M109.0,504.3 l-0.2,9.2"/><path d="M129.0,521.5 l-0.1,9.5"/><path d="M136.2,507.3 l0.4,4.1"/><path d="M126.1,520.2 l-2.5,6.2"/><path d="M89.7,490.7 l-1.3,6.7"/><path d="M76.3,496.8 l-1.2,4.2"/><path d="M109.1,501.2 l3.1,7.8"/><path d="M146.7,501.3 l-0.7,7.1"/><path d="M115.8,490.6 l0.2,3.3"/><path d="M89.3,488.9 l2.8,8.7"/><path d="M123.1,496.9 l3.2,8.8"/><path d="M83.5,498.4 l1.8,7.6"/><path d="M67.3,478.4 l-0.5,6.8"/><path d="M53.8,492.0 l4.5,7.9"/><path d="M76.9,500.5 l-2.0,4.8"/><path d="M65.9,467.0 l-2.9,6.6"/><path d="M127.4,500.5 l-3.2,9.1"/><path d="M83.2,505.4 l0.9,4.4"/><path d="M130.8,523.2 l0.9,6.0"/><path d="M70.8,500.0 l-1.6,4.6"/><path d="M133.9,501.5 l1.4,2.7"/><path d="M137.9,526.9 l-1.8,4.6"/><path d="M97.8,511.0 l-0.9,8.7"/><path d="M81.7,478.7 l1.9,4.4"/><path d="M110.3,490.1 l2.0,8.9"/><path d="M53.8,482.2 l0.1,3.2"/><path d="M57.8,485.5 l2.5,6.3"/><path d="M139.0,521.7 l-3.8,8.7"/><path d="M91.4,490.1 l3.6,7.7"/><path d="M77.3,489.9 l2.5,9.6"/><path d="M55.4,494.3 l0.2,3.7"/><path d="M115.2,495.2 l-2.7,6.7"/><path d="M150.4,508.9 l-1.2,7.5"/><path d="M122.4,500.2 l1.9,7.8"/><path d="M76.5,490.5 l1.3,4.0"/><path d="M83.9,487.7 l0.6,9.8"/><path d="M108.5,501.6 l0.6,8.7"/><path d="M104.7,486.8 l2.2,3.9"/><path d="M81.3,487.2 l3.3,6.2"/><path d="M128.8,511.8 l-1.3,5.9"/><path d="M120.1,506.3 l-0.8,4.8"/><path d="M90.4,476.2 l4.6,8.8"/><path d="M81.6,472.6 l0.9,5.8"/><path d="M122.8,522.0 l2.6,4.5"/><path d="M74.4,479.3 l-2.3,7.0"/><path d="M64.2,498.2 l1.4,7.0"/><path d="M60.7,472.3 l3.8,6.2"/><path d="M105.7,479.7 l0.9,4.9"/><path d="M115.8,508.6 l1.5,5.8"/><path d="M116.3,518.4 l-0.0,6.7"/><path d="M120.2,503.7 l-0.1,7.6"/><path d="M151.9,515.6 l-2.4,9.5"/><path d="M108.6,488.1 l1.0,5.8"/><path d="M96.6,494.9 l3.4,6.1"/></g>
<g clip-path="url(#cb14)" stroke="#b8c1d4" stroke-opacity="0.55" stroke-width="0.7" fill="none" stroke-linecap="round"><path d="M120.4,492.4 l1.9,2.9"/><path d="M102.1,493.8 l-0.1,5.5"/><path d="M58.0,482.0 l-1.0,7.5"/><path d="M97.9,482.5 l-1.1,5.8"/><path d="M92.0,486.0 l-1.2,6.1"/><path d="M96.0,490.4 l0.8,2.0"/><path d="M142.9,496.7 l0.7,3.6"/><path d="M100.4,513.0 l1.7,4.9"/><path d="M58.8,497.3 l-1.8,6.1"/><path d="M141.2,495.0 l0.0,3.9"/><path d="M94.8,479.1 l-0.6,7.2"/><path d="M84.4,504.6 l-0.1,2.9"/><path d="M79.8,499.6 l1.6,7.5"/><path d="M104.1,492.8 l-3.0,7.1"/><path d="M153.9,515.3 l-2.0,5.6"/><path d="M99.1,506.6 l0.9,3.6"/><path d="M121.3,495.8 l1.5,2.8"/><path d="M145.9,524.5 l-0.9,5.0"/><path d="M122.1,505.5 l1.0,2.6"/><path d="M88.3,498.4 l1.2,3.2"/><path d="M141.7,527.4 l2.6,6.1"/><path d="M104.3,509.0 l0.4,3.4"/><path d="M110.8,491.7 l-0.6,6.4"/><path d="M99.3,497.2 l2.0,3.5"/><path d="M128.8,504.3 l-1.7,6.4"/><path d="M124.0,522.1 l-0.8,2.1"/><path d="M100.6,505.1 l-0.0,2.6"/><path d="M65.1,477.4 l1.4,4.0"/><path d="M134.8,501.7 l2.6,5.9"/><path d="M133.9,518.7 l-2.3,5.2"/><path d="M123.0,508.4 l1.7,5.1"/><path d="M86.5,502.9 l-0.8,7.7"/><path d="M104.2,505.8 l-2.2,5.5"/><path d="M127.8,498.7 l-0.5,2.2"/><path d="M96.7,478.9 l-1.6,4.7"/><path d="M83.4,499.7 l-0.1,6.0"/><path d="M80.4,492.2 l0.6,7.8"/><path d="M91.6,497.5 l-0.3,4.0"/><path d="M69.1,499.9 l-1.1,4.7"/><path d="M76.2,478.1 l-0.1,6.8"/><path d="M93.3,483.6 l-0.4,3.2"/><path d="M84.3,487.1 l-1.9,4.3"/><path d="M92.6,511.4 l0.8,6.3"/><path d="M93.1,481.6 l-0.3,4.8"/><path d="M65.7,471.9 l1.4,5.4"/><path d="M121.4,500.4 l2.2,3.7"/><path d="M76.6,499.1 l-1.1,2.6"/><path d="M143.9,514.3 l1.6,5.8"/><path d="M92.0,492.7 l0.1,4.6"/><path d="M66.6,476.7 l0.2,3.0"/><path d="M123.9,505.2 l1.0,5.9"/><path d="M149.9,497.1 l-0.6,5.4"/><path d="M92.3,488.0 l-0.7,3.4"/><path d="M138.6,513.4 l2.2,4.2"/><path d="M127.0,524.5 l-2.5,7.0"/><path d="M79.4,501.0 l-0.3,2.6"/><path d="M73.4,470.0 l-0.7,2.4"/><path d="M105.4,516.1 l2.5,6.2"/><path d="M123.7,504.1 l1.4,3.6"/><path d="M84.0,479.5 l1.5,7.1"/><path d="M111.3,506.8 l-1.1,2.7"/><path d="M147.5,507.2 l-0.4,7.0"/><path d="M58.0,488.6 l-2.0,4.9"/><path d="M133.8,526.2 l-1.4,3.8"/><path d="M56.9,465.0 l0.7,4.9"/><path d="M63.0,493.4 l1.2,3.1"/><path d="M130.6,489.9 l-1.4,3.6"/><path d="M81.5,488.2 l-1.7,7.1"/><path d="M93.6,476.5 l0.5,2.3"/><path d="M115.7,485.9 l2.9,6.5"/></g>
<polygon points="55.60,461.60 152.80,497.40 152.80,500.90 55.60,465.10" fill="#4f5a74" opacity="0.45"/>
<g clip-path="url(#cb14)" stroke="#5f6a85" stroke-opacity="0.5" stroke-width="0.8" fill="none" stroke-linecap="round"><path d="M156.1,496.8 l0.5,3.4"/><path d="M168.5,512.8 l-0.1,4.7"/><path d="M162.7,510.6 l-0.3,3.6"/><path d="M154.8,520.2 l-0.2,4.3"/><path d="M159.3,506.8 l-0.5,4.6"/><path d="M173.3,518.0 l0.3,8.8"/><path d="M167.8,504.2 l-0.0,4.7"/><path d="M177.9,496.0 l0.9,7.4"/><path d="M169.0,501.8 l0.0,7.3"/><path d="M162.1,506.9 l0.8,2.9"/><path d="M176.3,496.7 l-0.6,5.3"/><path d="M155.7,520.5 l-1.3,4.0"/><path d="M165.1,510.8 l1.9,6.4"/><path d="M166.8,515.4 l-1.3,7.6"/><path d="M170.9,498.0 l-0.0,5.5"/><path d="M155.8,515.8 l-0.2,3.6"/><path d="M161.1,499.0 l-0.7,8.7"/><path d="M172.2,511.4 l-1.6,6.2"/><path d="M156.3,505.0 l-0.3,4.3"/><path d="M164.1,520.2 l0.7,4.3"/><path d="M176.5,514.6 l0.5,5.6"/><path d="M172.2,498.6 l1.4,7.2"/><path d="M173.9,496.5 l-2.1,8.2"/><path d="M155.4,498.9 l-1.9,8.3"/><path d="M161.7,516.8 l1.1,6.4"/></g>
<polygon points="121.19,485.17 152.80,496.40 180.50,485.90 180.50,487.40 152.80,498.30 121.19,486.62" fill="#c9d0e0" />
<path d="M23.00,441.60 L152.80,489.20 L180.50,479.00 M152.80,489.20 L152.80,496.40" stroke="#72001a" stroke-width="1.6" fill="none"/>
<polygon points="23.00,441.60 152.80,489.20 152.80,496.40 39.90,456.30 42.30,492.90 27.00,484.30" fill="#6e0019" stroke="#6e0019" stroke-width="0.4"/>
<polygon points="152.80,489.20 180.50,479.00 180.50,485.90 152.80,496.40" fill="#86001c" stroke="#86001c" stroke-width="0.3"/>
<polygon points="23.00,441.60 49.00,436.70 180.50,479.00 152.80,489.20" fill="#98001f" stroke="#98001f" stroke-width="0.4"/>
<text x="18.00" y="545.60" font-family="'Liberation Serif', serif" font-size="11" font-weight="bold" fill="#000" text-anchor="start" textLength="54.00" lengthAdjust="spacingAndGlyphs" >Metal-OPT</text>
<g stroke="#222" stroke-width="1.15" fill="none" stroke-linecap="round"><path d="M14.3,384.2 L14.8,371.2 M14.3,384.2 L26.700000000000003,377.4 M14.3,384.2 L24.9,391.2"/></g>
<circle cx="14.3" cy="384.2" r="0.9" fill="#222"/>
<text x="15.90" y="371.00" font-family="'Liberation Sans', sans-serif" font-size="6.2" font-weight="bold" fill="#222" text-anchor="start" >z</text>
<text x="27.30" y="377.60" font-family="'Liberation Sans', sans-serif" font-size="6.2" font-weight="bold" fill="#222" text-anchor="start" >y</text>
<text x="25.90" y="393.80" font-family="'Liberation Sans', sans-serif" font-size="6.2" font-weight="bold" fill="#222" text-anchor="start" >x</text>
<g stroke="#222" stroke-width="1.15" fill="none" stroke-linecap="round"><path d="M15.2,518.9 L15.7,505.9 M15.2,518.9 L27.6,512.1 M15.2,518.9 L25.799999999999997,525.9"/></g>
<circle cx="15.2" cy="518.9" r="0.9" fill="#222"/>
<text x="16.80" y="505.70" font-family="'Liberation Sans', sans-serif" font-size="6.2" font-weight="bold" fill="#222" text-anchor="start" >z</text>
<text x="28.20" y="512.30" font-family="'Liberation Sans', sans-serif" font-size="6.2" font-weight="bold" fill="#222" text-anchor="start" >y</text>
<text x="26.80" y="528.50" font-family="'Liberation Sans', sans-serif" font-size="6.2" font-weight="bold" fill="#222" text-anchor="start" >x</text>
</g>
<g filter="url(#soft)">
<rect x="241.30" y="331.70" width="148.70" height="35.10" fill="#98a3bc" />
<path d="M347.9,343.7 l-0.6,9.0" stroke="#68738e" stroke-opacity="0.38" stroke-width="0.6" fill="none"/>
<path d="M351.8,339.3 l-0.1,7.8" stroke="#68738e" stroke-opacity="0.38" stroke-width="0.6" fill="none"/>
<path d="M306.2,339.6 l0.0,9.7" stroke="#68738e" stroke-opacity="0.38" stroke-width="0.6" fill="none"/>
<path d="M269.8,339.5 l-0.0,9.9" stroke="#68738e" stroke-opacity="0.38" stroke-width="0.6" fill="none"/>
<path d="M388.0,333.2 l0.2,4.0" stroke="#68738e" stroke-opacity="0.38" stroke-width="0.6" fill="none"/>
<path d="M284.6,336.5 l-0.0,10.0" stroke="#68738e" stroke-opacity="0.38" stroke-width="0.6" fill="none"/>
<path d="M384.5,342.5 l0.6,7.8" stroke="#68738e" stroke-opacity="0.38" stroke-width="0.6" fill="none"/>
<path d="M267.1,356.2 l-0.4,9.8" stroke="#68738e" stroke-opacity="0.38" stroke-width="0.6" fill="none"/>
<path d="M274.7,356.2 l0.0,6.6" stroke="#68738e" stroke-opacity="0.38" stroke-width="0.6" fill="none"/>
<path d="M281.4,345.6 l0.4,6.9" stroke="#68738e" stroke-opacity="0.38" stroke-width="0.6" fill="none"/>
<path d="M386.4,346.8 l0.6,3.9" stroke="#68738e" stroke-opacity="0.38" stroke-width="0.6" fill="none"/>
<path d="M354.3,348.5 l0.6,5.4" stroke="#68738e" stroke-opacity="0.38" stroke-width="0.6" fill="none"/>
<path d="M318.3,354.0 l-0.4,5.6" stroke="#68738e" stroke-opacity="0.38" stroke-width="0.6" fill="none"/>
<path d="M368.8,349.7 l-0.0,3.1" stroke="#68738e" stroke-opacity="0.38" stroke-width="0.6" fill="none"/>
<path d="M357.9,343.7 l-0.4,5.7" stroke="#68738e" stroke-opacity="0.38" stroke-width="0.6" fill="none"/>
<path d="M275.4,354.7 l0.5,9.8" stroke="#68738e" stroke-opacity="0.38" stroke-width="0.6" fill="none"/>
<path d="M346.1,337.2 l-0.1,10.0" stroke="#68738e" stroke-opacity="0.38" stroke-width="0.6" fill="none"/>
<path d="M257.4,341.8 l-0.6,4.2" stroke="#68738e" stroke-opacity="0.38" stroke-width="0.6" fill="none"/>
<path d="M293.5,349.0 l-0.7,9.1" stroke="#68738e" stroke-opacity="0.38" stroke-width="0.6" fill="none"/>
<path d="M314.0,337.5 l-0.6,6.7" stroke="#68738e" stroke-opacity="0.38" stroke-width="0.6" fill="none"/>
<path d="M303.3,345.9 l-0.6,5.5" stroke="#68738e" stroke-opacity="0.38" stroke-width="0.6" fill="none"/>
<path d="M323.9,335.2 l0.0,8.9" stroke="#68738e" stroke-opacity="0.38" stroke-width="0.6" fill="none"/>
<path d="M335.0,336.3 l0.2,3.6" stroke="#68738e" stroke-opacity="0.38" stroke-width="0.6" fill="none"/>
<path d="M276.0,333.2 l0.0,4.2" stroke="#68738e" stroke-opacity="0.38" stroke-width="0.6" fill="none"/>
<path d="M294.0,336.1 l0.6,4.0" stroke="#68738e" stroke-opacity="0.38" stroke-width="0.6" fill="none"/>
<path d="M346.1,353.8 l-0.1,7.1" stroke="#68738e" stroke-opacity="0.38" stroke-width="0.6" fill="none"/>
<path d="M301.2,354.1 l0.3,3.5" stroke="#68738e" stroke-opacity="0.38" stroke-width="0.6" fill="none"/>
<path d="M350.0,336.6 l-0.0,4.3" stroke="#68738e" stroke-opacity="0.38" stroke-width="0.6" fill="none"/>
<path d="M321.1,349.9 l0.4,5.3" stroke="#68738e" stroke-opacity="0.38" stroke-width="0.6" fill="none"/>
<path d="M264.5,344.6 l0.7,6.9" stroke="#68738e" stroke-opacity="0.38" stroke-width="0.6" fill="none"/>
<path d="M338.9,352.8 l0.2,9.6" stroke="#68738e" stroke-opacity="0.38" stroke-width="0.6" fill="none"/>
<path d="M383.0,352.1 l0.5,4.0" stroke="#68738e" stroke-opacity="0.38" stroke-width="0.6" fill="none"/>
<path d="M292.2,351.3 l0.1,9.0" stroke="#68738e" stroke-opacity="0.38" stroke-width="0.6" fill="none"/>
<path d="M359.2,341.6 l-0.5,7.6" stroke="#68738e" stroke-opacity="0.38" stroke-width="0.6" fill="none"/>
<path d="M271.9,345.8 l-0.4,5.8" stroke="#68738e" stroke-opacity="0.38" stroke-width="0.6" fill="none"/>
<path d="M343.4,349.3 l0.2,3.4" stroke="#68738e" stroke-opacity="0.38" stroke-width="0.6" fill="none"/>
<path d="M375.0,351.2 l0.7,7.3" stroke="#68738e" stroke-opacity="0.38" stroke-width="0.6" fill="none"/>
<path d="M342.4,355.9 l0.4,7.4" stroke="#68738e" stroke-opacity="0.38" stroke-width="0.6" fill="none"/>
<path d="M262.6,333.6 l0.3,8.9" stroke="#68738e" stroke-opacity="0.38" stroke-width="0.6" fill="none"/>
<path d="M308.2,338.4 l-0.1,8.9" stroke="#68738e" stroke-opacity="0.38" stroke-width="0.6" fill="none"/>
<path d="M356.8,336.4 l-0.5,4.5" stroke="#68738e" stroke-opacity="0.38" stroke-width="0.6" fill="none"/>
<path d="M355.5,339.5 l0.6,5.9" stroke="#68738e" stroke-opacity="0.38" stroke-width="0.6" fill="none"/>
<path d="M282.7,343.7 l-0.6,9.2" stroke="#68738e" stroke-opacity="0.38" stroke-width="0.6" fill="none"/>
<path d="M260.3,343.8 l-0.2,3.3" stroke="#68738e" stroke-opacity="0.38" stroke-width="0.6" fill="none"/>
<path d="M286.5,358.5 l0.6,5.9" stroke="#68738e" stroke-opacity="0.38" stroke-width="0.6" fill="none"/>
<path d="M372.3,356.4 l0.6,8.1" stroke="#68738e" stroke-opacity="0.38" stroke-width="0.6" fill="none"/>
<path d="M332.0,346.2 l0.3,7.2" stroke="#68738e" stroke-opacity="0.38" stroke-width="0.6" fill="none"/>
<path d="M385.5,337.6 l0.6,8.3" stroke="#68738e" stroke-opacity="0.38" stroke-width="0.6" fill="none"/>
<path d="M315.6,354.9 l-0.3,5.7" stroke="#68738e" stroke-opacity="0.38" stroke-width="0.6" fill="none"/>
<path d="M333.3,358.0 l-0.4,8.9" stroke="#68738e" stroke-opacity="0.38" stroke-width="0.6" fill="none"/>
<path d="M343.9,356.7 l-0.3,7.6" stroke="#68738e" stroke-opacity="0.38" stroke-width="0.6" fill="none"/>
<path d="M374.3,355.8 l0.3,8.9" stroke="#68738e" stroke-opacity="0.38" stroke-width="0.6" fill="none"/>
<path d="M340.8,347.3 l-0.5,6.6" stroke="#68738e" stroke-opacity="0.38" stroke-width="0.6" fill="none"/>
<path d="M386.0,357.4 l-0.7,5.1" stroke="#68738e" stroke-opacity="0.38" stroke-width="0.6" fill="none"/>
<path d="M288.8,354.7 l-0.5,8.4" stroke="#68738e" stroke-opacity="0.38" stroke-width="0.6" fill="none"/>
<path d="M283.1,341.8 l0.8,3.9" stroke="#68738e" stroke-opacity="0.38" stroke-width="0.6" fill="none"/>
<path d="M333.9,340.1 l0.4,3.5" stroke="#68738e" stroke-opacity="0.38" stroke-width="0.6" fill="none"/>
<path d="M346.5,339.6 l0.7,5.3" stroke="#68738e" stroke-opacity="0.38" stroke-width="0.6" fill="none"/>
<path d="M345.4,333.7 l0.7,7.4" stroke="#68738e" stroke-opacity="0.38" stroke-width="0.6" fill="none"/>
<path d="M377.7,352.2 l-0.7,8.2" stroke="#68738e" stroke-opacity="0.38" stroke-width="0.6" fill="none"/>
<path d="M307.5,338.2 l0.6,7.6" stroke="#68738e" stroke-opacity="0.38" stroke-width="0.6" fill="none"/>
<path d="M303.3,334.9 l0.2,3.4" stroke="#68738e" stroke-opacity="0.38" stroke-width="0.6" fill="none"/>
<path d="M288.8,334.2 l-0.5,8.2" stroke="#68738e" stroke-opacity="0.38" stroke-width="0.6" fill="none"/>
<path d="M292.5,358.4 l-0.4,8.6" stroke="#68738e" stroke-opacity="0.38" stroke-width="0.6" fill="none"/>
<path d="M354.2,349.6 l0.2,4.0" stroke="#68738e" stroke-opacity="0.38" stroke-width="0.6" fill="none"/>
<path d="M366.4,356.8 l0.0,4.3" stroke="#68738e" stroke-opacity="0.38" stroke-width="0.6" fill="none"/>
<path d="M268.6,339.6 l0.8,5.2" stroke="#68738e" stroke-opacity="0.38" stroke-width="0.6" fill="none"/>
<path d="M294.2,346.6 l-0.7,8.5" stroke="#68738e" stroke-opacity="0.38" stroke-width="0.6" fill="none"/>
<path d="M360.0,340.9 l-0.8,9.3" stroke="#68738e" stroke-opacity="0.38" stroke-width="0.6" fill="none"/>
<path d="M363.9,352.7 l-0.5,9.7" stroke="#68738e" stroke-opacity="0.38" stroke-width="0.6" fill="none"/>
<path d="M384.3,333.8 q1.5,4 0,11.9" stroke="#566079" stroke-opacity="0.5" stroke-width="0.7" fill="none"/>
<path d="M385.1,337.4 q1.5,4 0,11.2" stroke="#566079" stroke-opacity="0.5" stroke-width="0.7" fill="none"/>
<path d="M383.8,348.1 q1.5,4 0,5.2" stroke="#566079" stroke-opacity="0.5" stroke-width="0.7" fill="none"/>
<path d="M378.8,351.9 q1.5,4 0,5.1" stroke="#566079" stroke-opacity="0.5" stroke-width="0.7" fill="none"/>
<path d="M378.5,334.7 q1.5,4 0,9.1" stroke="#566079" stroke-opacity="0.5" stroke-width="0.7" fill="none"/>
<path d="M377.8,351.7 q1.5,4 0,8.2" stroke="#566079" stroke-opacity="0.5" stroke-width="0.7" fill="none"/>
<path d="M386.2,354.7 q1.5,4 0,11.8" stroke="#566079" stroke-opacity="0.5" stroke-width="0.7" fill="none"/>
<path d="M378.5,341.7 q1.5,4 0,10.6" stroke="#566079" stroke-opacity="0.5" stroke-width="0.7" fill="none"/>
<path d="M380.3,355.3 q1.5,4 0,7.4" stroke="#566079" stroke-opacity="0.5" stroke-width="0.7" fill="none"/>
<path d="M384.1,339.1 q1.5,4 0,10.1" stroke="#566079" stroke-opacity="0.5" stroke-width="0.7" fill="none"/>
<path d="M379.7,343.0 q1.5,4 0,10.1" stroke="#566079" stroke-opacity="0.5" stroke-width="0.7" fill="none"/>
<path d="M386.8,336.3 q1.5,4 0,6.2" stroke="#566079" stroke-opacity="0.5" stroke-width="0.7" fill="none"/>
<path d="M378.8,351.3 q1.5,4 0,9.7" stroke="#566079" stroke-opacity="0.5" stroke-width="0.7" fill="none"/>
<path d="M385.3,352.2 q1.5,4 0,6.6" stroke="#566079" stroke-opacity="0.5" stroke-width="0.7" fill="none"/>
<polygon points="242.50,331.84 245.80,331.84 249.30,337.36 247.50,343.62 247.00,352.82 249.80,360.54 251.20,366.80 246.90,366.80 244.10,353.92 243.60,343.62" fill="#3a4358"/>
<path d="M244.90,333.68 Q246.80,348.40 249.50,366.06" stroke="#8e99b3" stroke-width="0.7" fill="none" stroke-dasharray="3 2"/>
<path d="M251.20,367.54 C249.80,360.54 246.30,355.76 247.20,348.40 C247.80,341.04 251.30,337.36 254.30,332.21 L256.90,332.21 C258.30,341.04 257.50,355.76 257.10,367.54 Z" fill="#fff"/>
<ellipse cx="262.0" cy="333.6" rx="0.9" ry="3.0" fill="#fff"/>
<ellipse cx="266.0" cy="333.6" rx="0.9" ry="3.8" fill="#fff"/>
<ellipse cx="270.0" cy="333.6" rx="0.9" ry="2.2" fill="#fff"/>
<ellipse cx="284.0" cy="333.6" rx="0.9" ry="3.8" fill="#fff"/>
<ellipse cx="288.5" cy="333.6" rx="0.9" ry="2.2" fill="#fff"/>
<ellipse cx="292.0" cy="333.6" rx="0.9" ry="3.0" fill="#fff"/>
<ellipse cx="300.0" cy="333.6" rx="0.9" ry="2.2" fill="#fff"/>
<ellipse cx="305.5" cy="333.6" rx="0.9" ry="3.8" fill="#fff"/>
<ellipse cx="309.5" cy="333.6" rx="0.9" ry="2.2" fill="#fff"/>
<ellipse cx="316.0" cy="333.6" rx="0.9" ry="3.0" fill="#fff"/>
<ellipse cx="322.0" cy="333.6" rx="0.9" ry="3.0" fill="#fff"/>
<ellipse cx="329.0" cy="333.6" rx="0.9" ry="3.8" fill="#fff"/>
<ellipse cx="337.0" cy="333.6" rx="0.9" ry="3.0" fill="#fff"/>
<ellipse cx="345.0" cy="333.6" rx="0.9" ry="2.2" fill="#fff"/>
<ellipse cx="352.0" cy="333.6" rx="0.9" ry="3.0" fill="#fff"/>
<polygon points="211.20,322.70 390.50,321.90 390.50,329.40 241.30,330.00 241.30,367.20 211.20,367.20" fill="#8d001e" />
<path d="M211.2,322.7 L390.5,321.90" stroke="#4a0a2a" stroke-width="0.5"/>
<path d="M242.3,330.2 H404" stroke="#cc2630" stroke-width="0.9" stroke-dasharray="4 1.6 1 1.6" fill="none"/>
<text x="350.50" y="319.20" font-family="'Liberation Sans', sans-serif" font-size="7.7" font-weight="normal" fill="#cc2630" text-anchor="start" textLength="40.50" lengthAdjust="spacingAndGlyphs" stroke="#cc2630" stroke-width="0.25">Cut-off view</text>
<path d="M395.4,313.8 H399.0 V321.5 H401.4 L397.2,327.5 L393.0,321.5 H395.4 Z" fill="#e0161e"/>
<g stroke="#444" stroke-width="0.7" fill="none"><path d="M201.9,361.6 L201.9,374.6 L214.4,374.6"/></g>
<text x="200.40" y="360.60" font-family="'Liberation Sans', sans-serif" font-size="4.6" font-weight="normal" fill="#333" text-anchor="start" >z</text>
<text x="215.40" y="376.10" font-family="'Liberation Sans', sans-serif" font-size="4.6" font-weight="normal" fill="#333" text-anchor="start" >x</text>
<rect x="208.5" y="382.6" width="183.5" height="32.8" fill="none" stroke="#cc2630" stroke-width="0.8" stroke-dasharray="2.2 1.3 0.8 1.3"/>
<rect x="210.60" y="386.20" width="29.80" height="27.00" fill="#8d001e" />
<path d="M254.4,387.2 L258.6,386.8 Q259.1,389.2 259.8,391.2 Q260.6,389.2 261.2,386.8 L265.4,386.8 Q265.9,389.2 266.6,391.2 Q267.4,389.2 268.0,386.8 L272.2,386.8 Q272.7,389.2 273.4,391.2 Q274.2,389.2 274.7,386.8 L278.9,386.8 Q279.5,389.2 280.2,391.2 Q281.0,389.2 281.5,386.8 L285.7,386.8 Q286.3,389.2 286.9,391.2 Q287.8,389.2 288.3,386.8 L292.5,386.8 Q293.0,389.2 293.7,391.2 Q294.5,389.2 295.1,386.8 L299.3,386.8 Q299.8,389.2 300.5,391.2 Q301.3,389.2 301.9,386.8 L306.1,386.8 Q306.6,389.2 307.3,391.2 Q308.1,389.2 308.6,386.8 L312.8,386.8 Q313.4,389.2 314.1,391.2 Q314.9,389.2 315.4,386.8 L319.6,386.8 Q320.2,389.2 320.8,391.2 Q321.7,389.2 322.2,386.8 L326.4,386.8 Q326.9,389.2 327.6,391.2 Q328.4,389.2 329.0,386.8 L333.2,386.8 Q333.7,389.2 334.4,391.2 Q335.2,389.2 335.8,386.8 L340.0,386.8 Q340.5,389.2 341.2,391.2 Q342.0,389.2 342.5,386.8 L346.7,386.8 Q347.3,389.2 348.0,391.2 Q348.8,389.2 349.3,386.8 L353.5,386.8 Q354.1,389.2 354.7,391.2 Q355.6,389.2 356.1,386.8 L360.3,386.8 Q360.8,389.2 361.5,391.2 Q362.3,389.2 362.9,386.8 L367.1,386.8 Q367.6,389.2 368.3,391.2 Q369.1,389.2 369.7,386.8 L373.9,386.8 Q374.4,389.2 375.1,391.2 Q375.9,389.2 376.4,386.8 L380.6,386.8 Q381.2,389.2 381.9,391.2 Q382.7,389.2 383.2,386.8 L387.4,386.8 Q388.0,389.2 388.6,391.2 Q389.5,389.2 390.0,386.8 L390.0,387.2 L390.0,398.2 L384.0,398.9 L384.0,400.5 L390.0,401.2 L390.0,412.2 L389.5,412.6 Q389.1,410.2 388.6,408.2 Q388.0,410.2 387.4,412.6 L382.7,412.6 Q382.3,410.2 381.9,408.2 Q381.2,410.2 380.6,412.6 L375.9,412.6 Q375.5,410.2 375.1,408.2 Q374.4,410.2 373.9,412.6 L369.1,412.6 Q368.7,410.2 368.3,408.2 Q367.6,410.2 367.1,412.6 L362.3,412.6 Q361.9,410.2 361.5,408.2 Q360.8,410.2 360.3,412.6 L355.6,412.6 Q355.2,410.2 354.7,408.2 Q354.1,410.2 353.5,412.6 L348.8,412.6 Q348.4,410.2 348.0,408.2 Q347.3,410.2 346.7,412.6 L342.0,412.6 Q341.6,410.2 341.2,408.2 Q340.5,410.2 340.0,412.6 L335.2,412.6 Q334.8,410.2 334.4,408.2 Q333.7,410.2 333.2,412.6 L328.4,412.6 Q328.0,410.2 327.6,408.2 Q326.9,410.2 326.4,412.6 L321.7,412.6 Q321.3,410.2 320.8,408.2 Q320.2,410.2 319.6,412.6 L314.9,412.6 Q314.5,410.2 314.1,408.2 Q313.4,410.2 312.8,412.6 L308.1,412.6 Q307.7,410.2 307.3,408.2 Q306.6,410.2 306.1,412.6 L301.3,412.6 Q300.9,410.2 300.5,408.2 Q299.8,410.2 299.3,412.6 L294.5,412.6 Q294.1,410.2 293.7,408.2 Q293.0,410.2 292.5,412.6 L287.8,412.6 Q287.4,410.2 286.9,408.2 Q286.3,410.2 285.7,412.6 L281.0,412.6 Q280.6,410.2 280.2,408.2 Q279.5,410.2 278.9,412.6 L274.2,412.6 Q273.8,410.2 273.4,408.2 Q272.7,410.2 272.2,412.6 L267.4,412.6 Q267.0,410.2 266.6,408.2 Q265.9,410.2 265.4,412.6 L260.6,412.6 Q260.2,410.2 259.8,408.2 Q259.1,410.2 258.6,412.6 L254.4,412.2 Z" fill="#98a3bc"/>
<path d="M257.8,390.2 V409.2" stroke="#6b7690" stroke-opacity="0.55" stroke-width="1.2"/>
<path d="M264.6,390.2 V409.2" stroke="#6b7690" stroke-opacity="0.55" stroke-width="1.2"/>
<path d="M271.4,390.2 V409.2" stroke="#6b7690" stroke-opacity="0.55" stroke-width="1.2"/>
<path d="M278.1,390.2 V409.2" stroke="#6b7690" stroke-opacity="0.55" stroke-width="1.2"/>
<path d="M284.9,390.2 V409.2" stroke="#6b7690" stroke-opacity="0.55" stroke-width="1.2"/>
<path d="M291.7,390.2 V409.2" stroke="#6b7690" stroke-opacity="0.55" stroke-width="1.2"/>
<path d="M298.5,390.2 V409.2" stroke="#6b7690" stroke-opacity="0.55" stroke-width="1.2"/>
<path d="M305.2,390.2 V409.2" stroke="#6b7690" stroke-opacity="0.55" stroke-width="1.2"/>
<path d="M312.0,390.2 V409.2" stroke="#6b7690" stroke-opacity="0.55" stroke-width="1.2"/>
<path d="M318.8,390.2 V409.2" stroke="#6b7690" stroke-opacity="0.55" stroke-width="1.2"/>
<path d="M325.6,390.2 V409.2" stroke="#6b7690" stroke-opacity="0.55" stroke-width="1.2"/>
<path d="M332.4,390.2 V409.2" stroke="#6b7690" stroke-opacity="0.55" stroke-width="1.2"/>
<path d="M339.1,390.2 V409.2" stroke="#6b7690" stroke-opacity="0.55" stroke-width="1.2"/>
<path d="M345.9,390.2 V409.2" stroke="#6b7690" stroke-opacity="0.55" stroke-width="1.2"/>
<path d="M352.7,390.2 V409.2" stroke="#6b7690" stroke-opacity="0.55" stroke-width="1.2"/>
<path d="M359.5,390.2 V409.2" stroke="#6b7690" stroke-opacity="0.55" stroke-width="1.2"/>
<path d="M366.3,390.2 V409.2" stroke="#6b7690" stroke-opacity="0.55" stroke-width="1.2"/>
<path d="M373.1,390.2 V409.2" stroke="#6b7690" stroke-opacity="0.55" stroke-width="1.2"/>
<path d="M379.8,390.2 V409.2" stroke="#6b7690" stroke-opacity="0.55" stroke-width="1.2"/>
<path d="M386.6,390.2 V409.2" stroke="#6b7690" stroke-opacity="0.55" stroke-width="1.2"/>
<path d="M261.4,393.7 L271.4,405.7 M261.4,405.7 L271.4,393.7" stroke="#5a657f" stroke-opacity="0.6" stroke-width="1.3"/>
<path d="M311.4,393.7 L321.4,405.7 M311.4,405.7 L321.4,393.7" stroke="#5a657f" stroke-opacity="0.6" stroke-width="1.3"/>
<path d="M337.4,393.7 L347.4,405.7 M337.4,405.7 L347.4,393.7" stroke="#5a657f" stroke-opacity="0.6" stroke-width="1.3"/>
<path d="M361.4,393.7 L371.4,405.7 M361.4,405.7 L371.4,393.7" stroke="#5a657f" stroke-opacity="0.6" stroke-width="1.3"/>
<path d="M373.0,393.7 L383.0,405.7 M373.0,405.7 L383.0,393.7" stroke="#5a657f" stroke-opacity="0.6" stroke-width="1.3"/>
<ellipse cx="381.0" cy="399.7" rx="2.2" ry="1.6" fill="#3a4358"/>
<rect x="240.90" y="386.80" width="9.50" height="25.80" fill="#98a3bc" />
<ellipse cx="244.6" cy="390.2" rx="2.6" ry="1.5" fill="#3a4358"/>
<ellipse cx="244.6" cy="396.7" rx="2.6" ry="1.5" fill="#3a4358"/>
<ellipse cx="244.6" cy="402.7" rx="2.6" ry="1.5" fill="#3a4358"/>
<ellipse cx="244.6" cy="409.2" rx="2.6" ry="1.5" fill="#3a4358"/>
<path d="M248.9,387.2 Q251.4,399.7 248.9,412.2" stroke="#3a4358" stroke-width="1.4" fill="none"/>
<text x="277.50" y="425.40" font-family="'Liberation Sans', sans-serif" font-size="7.7" font-weight="normal" fill="#cc2630" text-anchor="start" textLength="41.00" lengthAdjust="spacingAndGlyphs" stroke="#cc2630" stroke-width="0.25">Cut-off view</text>
<rect x="242.00" y="463.30" width="147.00" height="34.70" fill="#98a3bc" />
<path d="M322.6,464.7 l-0.2,7.2" stroke="#68738e" stroke-opacity="0.38" stroke-width="0.6" fill="none"/>
<path d="M291.8,484.8 l-0.5,6.1" stroke="#68738e" stroke-opacity="0.38" stroke-width="0.6" fill="none"/>
<path d="M346.9,470.2 l0.3,5.8" stroke="#68738e" stroke-opacity="0.38" stroke-width="0.6" fill="none"/>
<path d="M264.3,467.3 l0.2,8.8" stroke="#68738e" stroke-opacity="0.38" stroke-width="0.6" fill="none"/>
<path d="M346.4,486.5 l0.3,8.4" stroke="#68738e" stroke-opacity="0.38" stroke-width="0.6" fill="none"/>
<path d="M367.0,479.7 l0.1,4.1" stroke="#68738e" stroke-opacity="0.38" stroke-width="0.6" fill="none"/>
<path d="M288.7,466.8 l-0.6,5.7" stroke="#68738e" stroke-opacity="0.38" stroke-width="0.6" fill="none"/>
<path d="M296.0,478.9 l0.5,4.9" stroke="#68738e" stroke-opacity="0.38" stroke-width="0.6" fill="none"/>
<path d="M374.3,485.8 l-0.5,7.1" stroke="#68738e" stroke-opacity="0.38" stroke-width="0.6" fill="none"/>
<path d="M283.7,466.2 l-0.4,4.4" stroke="#68738e" stroke-opacity="0.38" stroke-width="0.6" fill="none"/>
<path d="M259.0,465.3 l0.5,9.1" stroke="#68738e" stroke-opacity="0.38" stroke-width="0.6" fill="none"/>
<path d="M370.3,466.5 l-0.8,9.0" stroke="#68738e" stroke-opacity="0.38" stroke-width="0.6" fill="none"/>
<path d="M306.7,473.4 l0.3,6.7" stroke="#68738e" stroke-opacity="0.38" stroke-width="0.6" fill="none"/>
<path d="M300.8,468.4 l-0.6,8.0" stroke="#68738e" stroke-opacity="0.38" stroke-width="0.6" fill="none"/>
<path d="M375.7,465.6 l-0.4,6.7" stroke="#68738e" stroke-opacity="0.38" stroke-width="0.6" fill="none"/>
<path d="M292.6,477.0 l0.0,4.8" stroke="#68738e" stroke-opacity="0.38" stroke-width="0.6" fill="none"/>
<path d="M273.2,475.2 l0.5,4.0" stroke="#68738e" stroke-opacity="0.38" stroke-width="0.6" fill="none"/>
<path d="M327.9,485.2 l0.1,5.4" stroke="#68738e" stroke-opacity="0.38" stroke-width="0.6" fill="none"/>
<path d="M378.7,484.4 l0.8,5.1" stroke="#68738e" stroke-opacity="0.38" stroke-width="0.6" fill="none"/>
<path d="M320.9,476.0 l0.5,7.3" stroke="#68738e" stroke-opacity="0.38" stroke-width="0.6" fill="none"/>
<path d="M329.5,477.7 l0.6,5.5" stroke="#68738e" stroke-opacity="0.38" stroke-width="0.6" fill="none"/>
<path d="M275.1,469.1 l-0.4,3.7" stroke="#68738e" stroke-opacity="0.38" stroke-width="0.6" fill="none"/>
<path d="M385.0,478.7 l0.5,6.2" stroke="#68738e" stroke-opacity="0.38" stroke-width="0.6" fill="none"/>
<path d="M325.8,470.3 l0.6,5.9" stroke="#68738e" stroke-opacity="0.38" stroke-width="0.6" fill="none"/>
<path d="M310.8,483.5 l0.6,10.0" stroke="#68738e" stroke-opacity="0.38" stroke-width="0.6" fill="none"/>
<path d="M320.6,475.4 l0.5,6.0" stroke="#68738e" stroke-opacity="0.38" stroke-width="0.6" fill="none"/>
<path d="M284.3,476.7 l-0.3,4.8" stroke="#68738e" stroke-opacity="0.38" stroke-width="0.6" fill="none"/>
<path d="M358.4,473.5 l0.2,5.1" stroke="#68738e" stroke-opacity="0.38" stroke-width="0.6" fill="none"/>
<path d="M272.8,484.4 l0.4,7.9" stroke="#68738e" stroke-opacity="0.38" stroke-width="0.6" fill="none"/>
<path d="M337.3,469.0 l0.0,8.8" stroke="#68738e" stroke-opacity="0.38" stroke-width="0.6" fill="none"/>
<path d="M360.0,479.6 l0.2,4.2" stroke="#68738e" stroke-opacity="0.38" stroke-width="0.6" fill="none"/>
<path d="M265.2,486.1 l-0.8,4.8" stroke="#68738e" stroke-opacity="0.38" stroke-width="0.6" fill="none"/>
<path d="M310.0,482.4 l0.3,9.1" stroke="#68738e" stroke-opacity="0.38" stroke-width="0.6" fill="none"/>
<path d="M378.9,471.5 l-0.4,3.9" stroke="#68738e" stroke-opacity="0.38" stroke-width="0.6" fill="none"/>
<path d="M300.9,467.2 l0.7,7.0" stroke="#68738e" stroke-opacity="0.38" stroke-width="0.6" fill="none"/>
<path d="M321.8,466.1 l0.7,4.7" stroke="#68738e" stroke-opacity="0.38" stroke-width="0.6" fill="none"/>
<path d="M358.1,469.8 l-0.4,4.0" stroke="#68738e" stroke-opacity="0.38" stroke-width="0.6" fill="none"/>
<path d="M327.5,471.8 l0.1,8.0" stroke="#68738e" stroke-opacity="0.38" stroke-width="0.6" fill="none"/>
<path d="M287.4,467.9 l0.0,5.8" stroke="#68738e" stroke-opacity="0.38" stroke-width="0.6" fill="none"/>
<path d="M316.1,474.0 l-0.5,3.9" stroke="#68738e" stroke-opacity="0.38" stroke-width="0.6" fill="none"/>
<path d="M352.5,480.7 l0.3,7.5" stroke="#68738e" stroke-opacity="0.38" stroke-width="0.6" fill="none"/>
<path d="M324.7,469.6 l0.7,6.7" stroke="#68738e" stroke-opacity="0.38" stroke-width="0.6" fill="none"/>
<path d="M317.5,471.2 l-0.2,9.9" stroke="#68738e" stroke-opacity="0.38" stroke-width="0.6" fill="none"/>
<path d="M310.8,485.0 l-0.6,7.2" stroke="#68738e" stroke-opacity="0.38" stroke-width="0.6" fill="none"/>
<path d="M293.3,470.5 l-0.3,5.8" stroke="#68738e" stroke-opacity="0.38" stroke-width="0.6" fill="none"/>
<path d="M341.7,474.9 l0.6,4.1" stroke="#68738e" stroke-opacity="0.38" stroke-width="0.6" fill="none"/>
<path d="M369.2,475.7 l0.5,5.8" stroke="#68738e" stroke-opacity="0.38" stroke-width="0.6" fill="none"/>
<path d="M291.4,487.3 l0.2,8.1" stroke="#68738e" stroke-opacity="0.38" stroke-width="0.6" fill="none"/>
<path d="M325.9,482.6 l0.7,8.2" stroke="#68738e" stroke-opacity="0.38" stroke-width="0.6" fill="none"/>
<path d="M384.0,473.5 l-0.3,9.2" stroke="#68738e" stroke-opacity="0.38" stroke-width="0.6" fill="none"/>
<path d="M366.4,487.2 l-0.1,5.9" stroke="#68738e" stroke-opacity="0.38" stroke-width="0.6" fill="none"/>
<path d="M381.2,469.7 l-0.5,4.2" stroke="#68738e" stroke-opacity="0.38" stroke-width="0.6" fill="none"/>
<path d="M297.3,475.2 l-0.2,6.2" stroke="#68738e" stroke-opacity="0.38" stroke-width="0.6" fill="none"/>
<path d="M262.6,473.3 l0.0,3.4" stroke="#68738e" stroke-opacity="0.38" stroke-width="0.6" fill="none"/>
<path d="M320.6,487.6 l0.2,9.6" stroke="#68738e" stroke-opacity="0.38" stroke-width="0.6" fill="none"/>
<path d="M369.8,477.1 l-0.8,3.4" stroke="#68738e" stroke-opacity="0.38" stroke-width="0.6" fill="none"/>
<path d="M332.9,486.0 l-0.3,3.9" stroke="#68738e" stroke-opacity="0.38" stroke-width="0.6" fill="none"/>
<path d="M356.7,478.3 l-0.1,3.9" stroke="#68738e" stroke-opacity="0.38" stroke-width="0.6" fill="none"/>
<path d="M330.0,479.2 l0.3,9.3" stroke="#68738e" stroke-opacity="0.38" stroke-width="0.6" fill="none"/>
<path d="M267.9,485.7 l-0.3,5.9" stroke="#68738e" stroke-opacity="0.38" stroke-width="0.6" fill="none"/>
<path d="M302.7,485.1 l-0.1,3.5" stroke="#68738e" stroke-opacity="0.38" stroke-width="0.6" fill="none"/>
<path d="M319.6,468.4 l-0.8,3.4" stroke="#68738e" stroke-opacity="0.38" stroke-width="0.6" fill="none"/>
<path d="M307.5,476.0 l-0.8,4.0" stroke="#68738e" stroke-opacity="0.38" stroke-width="0.6" fill="none"/>
<path d="M375.2,478.4 l0.8,6.8" stroke="#68738e" stroke-opacity="0.38" stroke-width="0.6" fill="none"/>
<path d="M382.1,482.2 l-0.2,3.4" stroke="#68738e" stroke-opacity="0.38" stroke-width="0.6" fill="none"/>
<path d="M277.2,484.7 l0.3,5.1" stroke="#68738e" stroke-opacity="0.38" stroke-width="0.6" fill="none"/>
<path d="M279.2,480.9 l0.7,4.7" stroke="#68738e" stroke-opacity="0.38" stroke-width="0.6" fill="none"/>
<path d="M387.6,478.2 l-0.5,4.3" stroke="#68738e" stroke-opacity="0.38" stroke-width="0.6" fill="none"/>
<path d="M350.5,488.2 l-0.5,4.7" stroke="#68738e" stroke-opacity="0.38" stroke-width="0.6" fill="none"/>
<path d="M276.6,469.9 l-0.4,5.9" stroke="#68738e" stroke-opacity="0.38" stroke-width="0.6" fill="none"/>
<path d="M378.1,480.1 q1.5,4 0,6.7" stroke="#566079" stroke-opacity="0.5" stroke-width="0.7" fill="none"/>
<path d="M378.5,474.4 q1.5,4 0,6.2" stroke="#566079" stroke-opacity="0.5" stroke-width="0.7" fill="none"/>
<path d="M375.7,466.7 q1.5,4 0,5.0" stroke="#566079" stroke-opacity="0.5" stroke-width="0.7" fill="none"/>
<path d="M383.8,465.8 q1.5,4 0,8.4" stroke="#566079" stroke-opacity="0.5" stroke-width="0.7" fill="none"/>
<path d="M386.6,479.0 q1.5,4 0,7.1" stroke="#566079" stroke-opacity="0.5" stroke-width="0.7" fill="none"/>
<path d="M380.2,474.6 q1.5,4 0,7.2" stroke="#566079" stroke-opacity="0.5" stroke-width="0.7" fill="none"/>
<path d="M375.7,468.3 q1.5,4 0,6.0" stroke="#566079" stroke-opacity="0.5" stroke-width="0.7" fill="none"/>
<path d="M377.7,472.3 q1.5,4 0,5.7" stroke="#566079" stroke-opacity="0.5" stroke-width="0.7" fill="none"/>
<path d="M383.0,469.3 q1.5,4 0,8.6" stroke="#566079" stroke-opacity="0.5" stroke-width="0.7" fill="none"/>
<path d="M384.0,476.2 q1.5,4 0,10.2" stroke="#566079" stroke-opacity="0.5" stroke-width="0.7" fill="none"/>
<path d="M385.1,475.1 q1.5,4 0,6.5" stroke="#566079" stroke-opacity="0.5" stroke-width="0.7" fill="none"/>
<path d="M375.6,480.8 q1.5,4 0,7.6" stroke="#566079" stroke-opacity="0.5" stroke-width="0.7" fill="none"/>
<path d="M378.8,466.6 q1.5,4 0,6.3" stroke="#566079" stroke-opacity="0.5" stroke-width="0.7" fill="none"/>
<path d="M386.6,475.6 q1.5,4 0,10.9" stroke="#566079" stroke-opacity="0.5" stroke-width="0.7" fill="none"/>
<polygon points="243.30,463.42 246.86,463.42 250.64,468.88 248.70,475.07 248.16,484.17 251.18,491.81 252.69,498.00 248.05,498.00 245.02,485.26 244.48,475.07" fill="#3a4358"/>
<path d="M245.89,465.24 Q247.94,479.80 250.86,497.27" stroke="#8e99b3" stroke-width="0.7" fill="none" stroke-dasharray="3 2"/>
<path d="M252.69,498.73 C251.18,491.81 247.40,487.08 248.37,479.80 C249.02,472.52 252.80,468.88 256.04,463.78 L258.85,463.78 C260.36,472.52 259.50,487.08 259.07,498.73 Z" fill="#fff"/>
<polygon points="211.20,454.60 389.50,453.80 389.50,461.00 242.00,461.60 242.00,498.40 211.20,498.40" fill="#8d001e" />
<path d="M211.2,454.6 L389.5,453.80" stroke="#4a0a2a" stroke-width="0.5"/>
<path d="M243,461.9 H402.5" stroke="#cc2630" stroke-width="0.9" stroke-dasharray="4 1.6 1 1.6" fill="none"/>
<text x="350.00" y="450.20" font-family="'Liberation Sans', sans-serif" font-size="7.7" font-weight="normal" fill="#cc2630" text-anchor="start" textLength="40.50" lengthAdjust="spacingAndGlyphs" stroke="#cc2630" stroke-width="0.25">Cut-off view</text>
<path d="M394.8,445 H398.40000000000003 V453.5 H400.8 L396.6,459.5 L392.40000000000003,453.5 H394.8 Z" fill="#e0161e"/>
<g stroke="#444" stroke-width="0.7" fill="none"><path d="M202.6,493.2 L202.6,506.2 L215.1,506.2"/></g>
<text x="201.10" y="492.20" font-family="'Liberation Sans', sans-serif" font-size="4.6" font-weight="normal" fill="#333" text-anchor="start" >z</text>
<text x="216.10" y="507.70" font-family="'Liberation Sans', sans-serif" font-size="4.6" font-weight="normal" fill="#333" text-anchor="start" >x</text>
<rect x="209.6" y="513.8" width="184.4" height="33.6" fill="none" stroke="#cc2630" stroke-width="0.8" stroke-dasharray="2.2 1.3 0.8 1.3"/>
<rect x="212.00" y="517.00" width="30.00" height="27.50" fill="#8d001e" />
<path d="M242.5,517.5 L251.5,517.5 C253.5,520.0 256.5,520.0 260.5,518.6 L377.0,518.6 C381.0,517.5 385.0,516.5 389.0,517.5 Q391.8,520.0 390.0,523.0 L390.0,538.5 Q391.8,541.5 389.0,544.0 C385.0,545.0 381.0,544.0 377.0,542.9 L260.5,542.9 C256.5,541.5 253.5,541.5 251.5,544.0 L242.5,544.0 Z" fill="#98a3bc"/>
<circle cx="256.0" cy="523.5" r="2.2" fill="#fff"/>
<circle cx="259.5" cy="527.8" r="2.0" fill="#fff"/>
<circle cx="256.0" cy="530.8" r="2.4" fill="#fff"/>
<circle cx="259.5" cy="533.8" r="2.0" fill="#fff"/>
<circle cx="256.0" cy="538.0" r="2.2" fill="#fff"/>
<circle cx="253.0" cy="521.0" r="1.6" fill="#fff"/>
<circle cx="253.0" cy="540.5" r="1.6" fill="#fff"/>
<ellipse cx="314.5" cy="520.4" rx="1.6" ry="0.9" fill="#fff"/>
<ellipse cx="323.5" cy="520.4" rx="1.6" ry="0.9" fill="#fff"/>
<ellipse cx="314.5" cy="541.1" rx="1.6" ry="0.9" fill="#fff"/>
<ellipse cx="323.5" cy="541.1" rx="1.6" ry="0.9" fill="#fff"/>
<ellipse cx="368.5" cy="520.4" rx="1.6" ry="0.9" fill="#fff"/>
<ellipse cx="368.5" cy="541.1" rx="1.6" ry="0.9" fill="#fff"/>
<ellipse cx="246.1" cy="520.5" rx="2.2" ry="1.6" fill="#3a4358"/>
<ellipse cx="246.1" cy="528.8" rx="2.2" ry="1.6" fill="#3a4358"/>
<ellipse cx="246.1" cy="534.8" rx="2.2" ry="1.6" fill="#3a4358"/>
<ellipse cx="246.1" cy="541.0" rx="2.2" ry="1.6" fill="#3a4358"/>
<path d="M250.0,518.5 V543.0" stroke="#3a4358" stroke-width="1.1"/>
<ellipse cx="268.5" cy="530.8" rx="1.3" ry="1.6" fill="#5a657f" opacity="0.6"/>
<ellipse cx="276.5" cy="530.8" rx="1.3" ry="1.6" fill="#5a657f" opacity="0.6"/>
<ellipse cx="287.5" cy="530.8" rx="1.3" ry="1.6" fill="#5a657f" opacity="0.6"/>
<ellipse cx="300.5" cy="530.8" rx="1.3" ry="1.6" fill="#5a657f" opacity="0.6"/>
<ellipse cx="312.5" cy="530.8" rx="1.3" ry="1.6" fill="#5a657f" opacity="0.6"/>
<ellipse cx="342.5" cy="530.8" rx="1.3" ry="1.6" fill="#5a657f" opacity="0.6"/>
<ellipse cx="350.5" cy="530.8" rx="1.3" ry="1.6" fill="#5a657f" opacity="0.6"/>
<ellipse cx="360.5" cy="530.8" rx="1.3" ry="1.6" fill="#5a657f" opacity="0.6"/>
<ellipse cx="370.5" cy="530.8" rx="1.3" ry="1.6" fill="#5a657f" opacity="0.6"/>
<ellipse cx="268.5" cy="530.8" rx="1.8" ry="2.2" fill="#4a556c"/>
<path d="M376.0,535.8 Q381.0,522.8 386.0,535.8" stroke="#3a4358" stroke-width="2" fill="none"/>
<circle cx="381.0" cy="526.2" r="1.6" fill="#fff"/>
<text x="280.00" y="556.60" font-family="'Liberation Sans', sans-serif" font-size="7.7" font-weight="normal" fill="#cc2630" text-anchor="start" textLength="41.00" lengthAdjust="spacingAndGlyphs" stroke="#cc2630" stroke-width="0.25">Cut-off view</text>
</g>
<text x="200.50" y="577.00" font-family="'Liberation Serif', serif" font-size="13.7" font-weight="normal" fill="#000" text-anchor="middle" textLength="365.00" lengthAdjust="spacingAndGlyphs" >The materials to be removed from the cutting off operation for the</text>
<text x="200.00" y="593.50" font-family="'Liberation Serif', serif" font-size="13.7" font-weight="normal" fill="#000" text-anchor="middle" textLength="212.00" lengthAdjust="spacingAndGlyphs" >MetalEasy-OPT and Metal-OPT cases</text>
<g filter="url(#soft)">
<g transform="translate(0 0)">
<g clip-path="url(#cb15)">
<polygon points="474.60,397.00 489.60,360.00 491.00,358.40 493.00,358.60 526.30,366.40 641.20,356.20 642.80,356.60 648.80,368.40 648.60,369.60 637.60,380.40 643.50,416.20 483.50,416.20 482.60,403.20" fill="url(#g68)" />
<polygon points="474.60,397.00 489.60,360.00 491.00,358.40 493.00,358.60 526.30,366.40 641.20,356.20 642.80,356.60 648.80,368.40 648.60,369.60 637.60,380.40 643.50,416.20 483.50,416.20 482.60,403.20" fill="url(#g69)" />
<polygon points="474.60,397.00 489.60,360.00 491.00,358.40 493.00,358.60 526.30,366.40 641.20,356.20 642.80,356.60 648.80,368.40 648.60,369.60 637.60,380.40 643.50,416.20 483.50,416.20 482.60,403.20" fill="url(#g70)" />
<g filter="url(#soft2)" fill="none" stroke-linejoin="round"><path d="M596.0,402.1 L600.0,398.6 L603.5,395.5 L617.5,381.6 L636.5,380.6 L649.2,369.2" stroke="#2458ff" stroke-width="13" stroke-opacity="0.55"/><path d="M596.0,402.1 L600.0,398.6 L603.5,395.5 L617.5,381.6 L636.5,380.6 L649.2,369.2" stroke="#2c8cff" stroke-width="6.5" stroke-opacity="0.6"/></g>
<g filter="url(#soft)" fill="none" stroke-linejoin="round"><path d="M600.0,398.6 L603.5,395.5 L617.5,381.6 M636.5,380.6 L649.2,369.2" stroke="#48d8e8" stroke-width="3.2" stroke-opacity="0.9"/><path d="M600.0,398.6 L603.5,395.5 L617.5,381.6 M636.5,380.6 L649.2,369.2" stroke="#e8e048" stroke-width="1.4"/></g>
<polygon points="474.60,397.00 489.60,360.00 491.00,358.40 493.00,358.60 526.30,366.40 641.20,356.20 642.80,356.60 648.80,368.40 648.60,369.60 637.60,380.40 643.50,416.20 483.50,416.20 482.60,403.20" fill="url(#g71)" />
<polygon points="482.60,403.20 500.00,407.50 520.00,409.50 540.00,407.00 565.00,399.50 590.00,389.00 612.00,378.00 637.60,380.40 644.00,416.20 483.00,416.20" fill="url(#g72)" />
</g>
<path d="M604.4,416.5 C601,409 600.5,400 603.1,395 L617.5,381.2 C622.5,387 626.5,397.5 628.1,406 L627.5,416.5 Z" fill="#fff"/>
<ellipse cx="484.0" cy="408.4" rx="0.99" ry="5.70" fill="#fff" transform="rotate(0 484.0 408.4)"/>
<ellipse cx="488.1" cy="408.8" rx="1.12" ry="5.30" fill="#fff" transform="rotate(0 488.1 408.8)"/>
<ellipse cx="492.3" cy="408.8" rx="0.81" ry="4.10" fill="#fff" transform="rotate(0 492.3 408.8)"/>
<ellipse cx="497.5" cy="409.9" rx="1.12" ry="4.60" fill="#fff" transform="rotate(0 497.5 409.9)"/>
<ellipse cx="502.5" cy="409.5" rx="0.62" ry="2.30" fill="#fff" transform="rotate(0 502.5 409.5)"/>
<ellipse cx="507.5" cy="411.1" rx="0.93" ry="3.40" fill="#fff" transform="rotate(0 507.5 411.1)"/>
<ellipse cx="510.2" cy="410.9" rx="0.74" ry="3.00" fill="#fff" transform="rotate(0 510.2 410.9)"/>
<ellipse cx="513.2" cy="410.6" rx="0.68" ry="2.15" fill="#fff" transform="rotate(0 513.2 410.6)"/>
<ellipse cx="537.5" cy="409.1" rx="0.93" ry="2.50" fill="#fff" transform="rotate(8 537.5 409.1)"/>
<ellipse cx="541.9" cy="408.4" rx="1.18" ry="3.75" fill="#fff" transform="rotate(8 541.9 408.4)"/>
<ellipse cx="550.0" cy="406.2" rx="1.24" ry="4.05" fill="#fff" transform="rotate(8 550.0 406.2)"/>
<ellipse cx="558.1" cy="405.6" rx="1.55" ry="5.95" fill="#fff" transform="rotate(6 558.1 405.6)"/>
<ellipse cx="570.3" cy="406.2" rx="3.80" ry="9.20" fill="#fff" transform="rotate(0 570.3 406.2)"/>
<ellipse cx="578.6" cy="399.0" rx="1.20" ry="4.50" fill="#fff" transform="rotate(14 578.6 399.0)"/>
<ellipse cx="588.6" cy="394.4" rx="1.10" ry="4.40" fill="#fff" transform="rotate(16 588.6 394.4)"/>
<ellipse cx="595.0" cy="390.9" rx="0.95" ry="2.90" fill="#fff" transform="rotate(18 595.0 390.9)"/>
<ellipse cx="600.0" cy="388.0" rx="0.75" ry="2.00" fill="#fff" transform="rotate(20 600.0 388.0)"/>
<ellipse cx="583.5" cy="395.0" rx="0.70" ry="2.00" fill="#fff" transform="rotate(14 583.5 395.0)"/>
<path d="M622.6,378.6 L625.6,384.5 L624.6,378.4 Z M627.2,377.6 L628.6,388 L629.4,377.6 Z M632.2,376.2 L631.6,382 L634,376.4 Z" fill="#fff" stroke="#fff" stroke-width="0.5" stroke-linejoin="round"/>
<ellipse cx="517.8" cy="409.6" rx="0.9" ry="0.7" fill="#fff"/>
<ellipse cx="521.8" cy="409.9" rx="0.9" ry="0.7" fill="#fff"/>
<ellipse cx="526.2" cy="409.9" rx="0.9" ry="0.7" fill="#fff"/>
<ellipse cx="530.0" cy="409.6" rx="0.9" ry="0.7" fill="#fff"/>
<ellipse cx="533.8" cy="409.0" rx="0.9" ry="0.7" fill="#fff"/>
<ellipse cx="638.0" cy="378.5" rx="0.9" ry="0.5" fill="#fff" transform="rotate(-40 638.0 378.5)"/>
<ellipse cx="640.6" cy="376.0" rx="0.9" ry="0.5" fill="#fff" transform="rotate(-40 640.6 376.0)"/>
<ellipse cx="643.2" cy="373.5" rx="0.9" ry="0.5" fill="#fff" transform="rotate(-40 643.2 373.5)"/>
<ellipse cx="645.8" cy="371.0" rx="0.9" ry="0.5" fill="#fff" transform="rotate(-40 645.8 371.0)"/>
<ellipse cx="648.4" cy="368.5" rx="0.9" ry="0.5" fill="#fff" transform="rotate(-40 648.4 368.5)"/>
<ellipse cx="482.6" cy="414.6" rx="0.95" ry="0.75" fill="#fff"/>
<ellipse cx="486.6" cy="414.6" rx="0.95" ry="0.75" fill="#fff"/>
<ellipse cx="490.6" cy="414.6" rx="0.95" ry="0.75" fill="#fff"/>
<ellipse cx="494.6" cy="414.6" rx="0.95" ry="0.75" fill="#fff"/>
<ellipse cx="498.6" cy="414.6" rx="0.95" ry="0.75" fill="#fff"/>
<ellipse cx="502.6" cy="414.6" rx="0.95" ry="0.75" fill="#fff"/>
<ellipse cx="506.6" cy="414.6" rx="0.95" ry="0.75" fill="#fff"/>
<ellipse cx="510.6" cy="414.6" rx="0.95" ry="0.75" fill="#fff"/>
<ellipse cx="514.6" cy="414.6" rx="0.95" ry="0.75" fill="#fff"/>
<ellipse cx="518.6" cy="414.6" rx="0.95" ry="0.75" fill="#fff"/>
<ellipse cx="522.6" cy="414.6" rx="0.95" ry="0.75" fill="#fff"/>
<ellipse cx="526.6" cy="414.6" rx="0.95" ry="0.75" fill="#fff"/>
<ellipse cx="530.6" cy="414.6" rx="0.95" ry="0.75" fill="#fff"/>
<ellipse cx="534.6" cy="414.6" rx="0.95" ry="0.75" fill="#fff"/>
<ellipse cx="538.6" cy="414.6" rx="0.95" ry="0.75" fill="#fff"/>
<ellipse cx="542.6" cy="414.6" rx="0.95" ry="0.75" fill="#fff"/>
<ellipse cx="546.6" cy="414.6" rx="0.95" ry="0.75" fill="#fff"/>
<ellipse cx="550.6" cy="414.6" rx="0.95" ry="0.75" fill="#fff"/>
<ellipse cx="554.6" cy="414.6" rx="0.95" ry="0.75" fill="#fff"/>
<ellipse cx="558.6" cy="414.6" rx="0.95" ry="0.75" fill="#fff"/>
<ellipse cx="562.6" cy="414.6" rx="0.95" ry="0.75" fill="#fff"/>
<ellipse cx="578.6" cy="414.6" rx="0.95" ry="0.75" fill="#fff"/>
<ellipse cx="582.6" cy="414.6" rx="0.95" ry="0.75" fill="#fff"/>
<ellipse cx="586.6" cy="414.6" rx="0.95" ry="0.75" fill="#fff"/>
<ellipse cx="590.6" cy="414.6" rx="0.95" ry="0.75" fill="#fff"/>
<ellipse cx="594.6" cy="414.6" rx="0.95" ry="0.75" fill="#fff"/>
<ellipse cx="598.6" cy="414.6" rx="0.95" ry="0.75" fill="#fff"/>
<ellipse cx="630.5" cy="414.6" rx="0.9" ry="0.7" fill="#fff"/>
<ellipse cx="633.9" cy="414.6" rx="0.9" ry="0.7" fill="#fff"/>
<ellipse cx="637.3" cy="414.6" rx="0.9" ry="0.7" fill="#fff"/>
<ellipse cx="640.7" cy="414.6" rx="0.9" ry="0.7" fill="#fff"/>
<rect x="473.60" y="415.60" width="175.80" height="2.20" fill="#0a0a8c" />
</g>
<text x="560.90" y="427.30" font-family="'Liberation Serif', serif" font-size="6.8" font-weight="normal" fill="#222" text-anchor="middle" textLength="86.20" lengthAdjust="spacingAndGlyphs" >Minimum length radius R = 3.0</text>
<g transform="translate(189.3 0)">
<g clip-path="url(#cb16)">
<polygon points="474.60,397.00 489.60,360.00 491.00,358.40 493.00,358.60 526.30,366.40 640.80,356.20 642.40,356.60 648.40,368.40 648.20,369.60 637.00,381.20 647.00,416.20 483.50,416.20 482.60,403.20" fill="url(#g68)" />
<polygon points="474.60,397.00 489.60,360.00 491.00,358.40 493.00,358.60 526.30,366.40 640.80,356.20 642.40,356.60 648.40,368.40 648.20,369.60 637.00,381.20 647.00,416.20 483.50,416.20 482.60,403.20" fill="url(#g69)" />
<polygon points="474.60,397.00 489.60,360.00 491.00,358.40 493.00,358.60 526.30,366.40 640.80,356.20 642.40,356.60 648.40,368.40 648.20,369.60 637.00,381.20 647.00,416.20 483.50,416.20 482.60,403.20" fill="url(#g70)" />
<g filter="url(#soft2)" fill="none" stroke-linejoin="round"><path d="M594.0,405.5 L598.0,402.0 L600.6,399.5 L619.4,380.4 L637.5,381.0 L648.4,369.0" stroke="#2458ff" stroke-width="13" stroke-opacity="0.55"/><path d="M594.0,405.5 L598.0,402.0 L600.6,399.5 L619.4,380.4 L637.5,381.0 L648.4,369.0" stroke="#2c8cff" stroke-width="6.5" stroke-opacity="0.6"/></g>
<g filter="url(#soft)" fill="none" stroke-linejoin="round"><path d="M598.0,402.0 L600.6,399.5 L619.4,380.4 M637.5,381.0 L648.4,369.0" stroke="#48d8e8" stroke-width="3.2" stroke-opacity="0.9"/><path d="M598.0,402.0 L600.6,399.5 L619.4,380.4 M637.5,381.0 L648.4,369.0" stroke="#e8e048" stroke-width="1.4"/></g>
<polygon points="474.60,397.00 489.60,360.00 491.00,358.40 493.00,358.60 526.30,366.40 640.80,356.20 642.40,356.60 648.40,368.40 648.20,369.60 637.00,381.20 647.00,416.20 483.50,416.20 482.60,403.20" fill="url(#g71)" />
<polygon points="482.60,403.20 500.00,407.50 520.00,409.50 540.00,407.00 565.00,399.50 590.00,389.00 612.00,378.00 637.00,381.20 647.50,416.20 483.00,416.20" fill="url(#g72)" />
</g>
<path d="M602,416.5 C600.5,410 600,404 600.6,399.5 L619.4,380.2 C624,385 628.5,392 629.4,403.8 L628.8,416.5 Z" fill="#fff"/>
<ellipse cx="484.0" cy="408.4" rx="0.99" ry="5.70" fill="#fff" transform="rotate(0 484.0 408.4)"/>
<ellipse cx="488.1" cy="408.8" rx="1.12" ry="5.30" fill="#fff" transform="rotate(0 488.1 408.8)"/>
<ellipse cx="492.3" cy="408.8" rx="0.81" ry="4.10" fill="#fff" transform="rotate(0 492.3 408.8)"/>
<ellipse cx="497.5" cy="409.9" rx="1.12" ry="4.60" fill="#fff" transform="rotate(0 497.5 409.9)"/>
<ellipse cx="502.5" cy="409.5" rx="0.62" ry="2.30" fill="#fff" transform="rotate(0 502.5 409.5)"/>
<ellipse cx="507.5" cy="411.1" rx="0.93" ry="3.40" fill="#fff" transform="rotate(0 507.5 411.1)"/>
<ellipse cx="510.2" cy="410.9" rx="0.74" ry="3.00" fill="#fff" transform="rotate(0 510.2 410.9)"/>
<ellipse cx="513.2" cy="410.6" rx="0.68" ry="2.15" fill="#fff" transform="rotate(0 513.2 410.6)"/>
<ellipse cx="537.5" cy="409.1" rx="0.93" ry="2.50" fill="#fff" transform="rotate(8 537.5 409.1)"/>
<ellipse cx="541.9" cy="408.4" rx="1.18" ry="3.75" fill="#fff" transform="rotate(8 541.9 408.4)"/>
<ellipse cx="550.0" cy="406.2" rx="1.24" ry="4.05" fill="#fff" transform="rotate(8 550.0 406.2)"/>
<ellipse cx="558.1" cy="405.6" rx="1.55" ry="5.95" fill="#fff" transform="rotate(6 558.1 405.6)"/>
<ellipse cx="546.0" cy="407.2" rx="0.87" ry="3.55" fill="#fff" transform="rotate(8 546.0 407.2)"/>
<ellipse cx="554.0" cy="405.2" rx="0.74" ry="4.05" fill="#fff" transform="rotate(8 554.0 405.2)"/>
<ellipse cx="568.2" cy="405.8" rx="2.20" ry="9.80" fill="#fff" transform="rotate(0 568.2 405.8)"/>
<ellipse cx="578.8" cy="398.8" rx="1.55" ry="6.25" fill="#fff" transform="rotate(4 578.8 398.8)"/>
<ellipse cx="585.7" cy="393.8" rx="0.95" ry="3.15" fill="#fff" transform="rotate(12 585.7 393.8)"/>
<ellipse cx="573.8" cy="395.9" rx="0.65" ry="1.55" fill="#fff" transform="rotate(0 573.8 395.9)"/>
<ellipse cx="563.2" cy="400.2" rx="0.75" ry="2.20" fill="#fff" transform="rotate(0 563.2 400.2)"/>
<ellipse cx="590.7" cy="390.0" rx="0.60" ry="1.40" fill="#fff" transform="rotate(25 590.7 390.0)"/>
<ellipse cx="595.1" cy="388.6" rx="0.60" ry="1.40" fill="#fff" transform="rotate(25 595.1 388.6)"/>
<ellipse cx="624.4" cy="380.2" rx="0.65" ry="2.25" fill="#fff" transform="rotate(-20 624.4 380.2)"/>
<ellipse cx="628.8" cy="378.9" rx="0.65" ry="1.95" fill="#fff" transform="rotate(-10 628.8 378.9)"/>
<ellipse cx="633.8" cy="378.1" rx="0.70" ry="2.50" fill="#fff" transform="rotate(10 633.8 378.1)"/>
<ellipse cx="638.2" cy="376.2" rx="0.60" ry="1.80" fill="#fff" transform="rotate(25 638.2 376.2)"/>
<ellipse cx="517.8" cy="409.6" rx="0.9" ry="0.7" fill="#fff"/>
<ellipse cx="521.8" cy="409.9" rx="0.9" ry="0.7" fill="#fff"/>
<ellipse cx="526.2" cy="409.9" rx="0.9" ry="0.7" fill="#fff"/>
<ellipse cx="530.0" cy="409.6" rx="0.9" ry="0.7" fill="#fff"/>
<ellipse cx="533.8" cy="409.0" rx="0.9" ry="0.7" fill="#fff"/>
<ellipse cx="637.6" cy="378.5" rx="0.9" ry="0.5" fill="#fff" transform="rotate(-40 637.6 378.5)"/>
<ellipse cx="640.2" cy="376.0" rx="0.9" ry="0.5" fill="#fff" transform="rotate(-40 640.2 376.0)"/>
<ellipse cx="642.8" cy="373.5" rx="0.9" ry="0.5" fill="#fff" transform="rotate(-40 642.8 373.5)"/>
<ellipse cx="645.4" cy="371.0" rx="0.9" ry="0.5" fill="#fff" transform="rotate(-40 645.4 371.0)"/>
<ellipse cx="648.0" cy="368.5" rx="0.9" ry="0.5" fill="#fff" transform="rotate(-40 648.0 368.5)"/>
<ellipse cx="482.6" cy="414.6" rx="0.95" ry="0.75" fill="#fff"/>
<ellipse cx="486.6" cy="414.6" rx="0.95" ry="0.75" fill="#fff"/>
<ellipse cx="490.6" cy="414.6" rx="0.95" ry="0.75" fill="#fff"/>
<ellipse cx="494.6" cy="414.6" rx="0.95" ry="0.75" fill="#fff"/>
<ellipse cx="498.6" cy="414.6" rx="0.95" ry="0.75" fill="#fff"/>
<ellipse cx="502.6" cy="414.6" rx="0.95" ry="0.75" fill="#fff"/>
<ellipse cx="506.6" cy="414.6" rx="0.95" ry="0.75" fill="#fff"/>
<ellipse cx="510.6" cy="414.6" rx="0.95" ry="0.75" fill="#fff"/>
<ellipse cx="514.6" cy="414.6" rx="0.95" ry="0.75" fill="#fff"/>
<ellipse cx="518.6" cy="414.6" rx="0.95" ry="0.75" fill="#fff"/>
<ellipse cx="522.6" cy="414.6" rx="0.95" ry="0.75" fill="#fff"/>
<ellipse cx="526.6" cy="414.6" rx="0.95" ry="0.75" fill="#fff"/>
<ellipse cx="530.6" cy="414.6" rx="0.95" ry="0.75" fill="#fff"/>
<ellipse cx="534.6" cy="414.6" rx="0.95" ry="0.75" fill="#fff"/>
<ellipse cx="538.6" cy="414.6" rx="0.95" ry="0.75" fill="#fff"/>
<ellipse cx="542.6" cy="414.6" rx="0.95" ry="0.75" fill="#fff"/>
<ellipse cx="546.6" cy="414.6" rx="0.95" ry="0.75" fill="#fff"/>
<ellipse cx="550.6" cy="414.6" rx="0.95" ry="0.75" fill="#fff"/>
<ellipse cx="554.6" cy="414.6" rx="0.95" ry="0.75" fill="#fff"/>
<ellipse cx="558.6" cy="414.6" rx="0.95" ry="0.75" fill="#fff"/>
<ellipse cx="562.6" cy="414.6" rx="0.95" ry="0.75" fill="#fff"/>
<ellipse cx="574.6" cy="414.6" rx="0.95" ry="0.75" fill="#fff"/>
<ellipse cx="578.6" cy="414.6" rx="0.95" ry="0.75" fill="#fff"/>
<ellipse cx="582.6" cy="414.6" rx="0.95" ry="0.75" fill="#fff"/>
<ellipse cx="586.6" cy="414.6" rx="0.95" ry="0.75" fill="#fff"/>
<ellipse cx="590.6" cy="414.6" rx="0.95" ry="0.75" fill="#fff"/>
<ellipse cx="594.6" cy="414.6" rx="0.95" ry="0.75" fill="#fff"/>
<ellipse cx="633.0" cy="414.6" rx="0.9" ry="0.7" fill="#fff"/>
<ellipse cx="637.2" cy="414.6" rx="0.9" ry="0.7" fill="#fff"/>
<ellipse cx="641.4" cy="414.6" rx="0.9" ry="0.7" fill="#fff"/>
<rect x="473.60" y="415.60" width="176.00" height="2.20" fill="#0a0a8c" />
</g>
<text x="750.00" y="427.30" font-family="'Liberation Serif', serif" font-size="6.8" font-weight="normal" fill="#222" text-anchor="middle" textLength="86.00" lengthAdjust="spacingAndGlyphs" >Minimum length radius R = 3.5</text>
<g transform="translate(-0.6 85)">
<g clip-path="url(#cb17)">
<polygon points="474.60,397.00 489.60,360.00 491.00,358.40 493.00,358.60 526.30,366.40 639.30,356.20 640.90,356.60 646.90,368.40 646.70,369.60 638.10,380.00 646.80,416.20 483.50,416.20 482.60,403.20" fill="url(#g68)" />
<polygon points="474.60,397.00 489.60,360.00 491.00,358.40 493.00,358.60 526.30,366.40 639.30,356.20 640.90,356.60 646.90,368.40 646.70,369.60 638.10,380.00 646.80,416.20 483.50,416.20 482.60,403.20" fill="url(#g69)" />
<polygon points="474.60,397.00 489.60,360.00 491.00,358.40 493.00,358.60 526.30,366.40 639.30,356.20 640.90,356.60 646.90,368.40 646.70,369.60 638.10,380.00 646.80,416.20 483.50,416.20 482.60,403.20" fill="url(#g70)" />
<g filter="url(#soft2)" fill="none" stroke-linejoin="round"><path d="M592.0,401.5 L596.0,398.0 L598.6,395.5 L615.0,382.0 L639.4,375.0 L646.9,368.9" stroke="#2458ff" stroke-width="13" stroke-opacity="0.55"/><path d="M592.0,401.5 L596.0,398.0 L598.6,395.5 L615.0,382.0 L639.4,375.0 L646.9,368.9" stroke="#2c8cff" stroke-width="6.5" stroke-opacity="0.6"/></g>
<g filter="url(#soft)" fill="none" stroke-linejoin="round"><path d="M596.0,398.0 L598.6,395.5 L615.0,382.0 M639.4,375.0 L646.9,368.9" stroke="#48d8e8" stroke-width="3.2" stroke-opacity="0.9"/><path d="M596.0,398.0 L598.6,395.5 L615.0,382.0 M639.4,375.0 L646.9,368.9" stroke="#e8e048" stroke-width="1.4"/></g>
<polygon points="474.60,397.00 489.60,360.00 491.00,358.40 493.00,358.60 526.30,366.40 639.30,356.20 640.90,356.60 646.90,368.40 646.70,369.60 638.10,380.00 646.80,416.20 483.50,416.20 482.60,403.20" fill="url(#g71)" />
<polygon points="482.60,403.20 500.00,407.50 520.00,409.50 540.00,407.00 565.00,399.50 590.00,389.00 612.00,378.00 638.10,380.00 647.30,416.20 483.00,416.20" fill="url(#g72)" />
</g>
<path d="M599,416.5 C597.6,410 597.6,402 598.6,395.5 L615,381.9 L628,393.5 C629,400 628.6,408 628.1,416.5 Z" fill="#fff"/>
<ellipse cx="484.0" cy="408.4" rx="0.99" ry="5.70" fill="#fff" transform="rotate(0 484.0 408.4)"/>
<ellipse cx="488.1" cy="408.8" rx="1.12" ry="5.30" fill="#fff" transform="rotate(0 488.1 408.8)"/>
<ellipse cx="492.3" cy="408.8" rx="0.81" ry="4.10" fill="#fff" transform="rotate(0 492.3 408.8)"/>
<ellipse cx="497.5" cy="409.9" rx="1.12" ry="4.60" fill="#fff" transform="rotate(0 497.5 409.9)"/>
<ellipse cx="502.5" cy="409.5" rx="0.62" ry="2.30" fill="#fff" transform="rotate(0 502.5 409.5)"/>
<ellipse cx="507.5" cy="411.1" rx="0.93" ry="3.40" fill="#fff" transform="rotate(0 507.5 411.1)"/>
<ellipse cx="510.2" cy="410.9" rx="0.74" ry="3.00" fill="#fff" transform="rotate(0 510.2 410.9)"/>
<ellipse cx="513.2" cy="410.6" rx="0.68" ry="2.15" fill="#fff" transform="rotate(0 513.2 410.6)"/>
<ellipse cx="537.5" cy="409.1" rx="0.93" ry="2.50" fill="#fff" transform="rotate(8 537.5 409.1)"/>
<ellipse cx="541.9" cy="408.4" rx="1.18" ry="3.75" fill="#fff" transform="rotate(8 541.9 408.4)"/>
<ellipse cx="550.0" cy="406.2" rx="1.24" ry="4.05" fill="#fff" transform="rotate(8 550.0 406.2)"/>
<ellipse cx="558.1" cy="405.6" rx="1.55" ry="5.95" fill="#fff" transform="rotate(6 558.1 405.6)"/>
<ellipse cx="569.0" cy="406.6" rx="4.00" ry="9.05" fill="#fff" transform="rotate(0 569.0 406.6)"/>
<ellipse cx="582.1" cy="399.4" rx="1.50" ry="6.85" fill="#fff" transform="rotate(3 582.1 399.4)"/>
<ellipse cx="586.9" cy="393.1" rx="0.65" ry="1.50" fill="#fff" transform="rotate(20 586.9 393.1)"/>
<ellipse cx="591.9" cy="391.3" rx="0.65" ry="1.50" fill="#fff" transform="rotate(20 591.9 391.3)"/>
<ellipse cx="596.9" cy="388.8" rx="0.65" ry="1.60" fill="#fff" transform="rotate(20 596.9 388.8)"/>
<ellipse cx="577.0" cy="395.5" rx="0.60" ry="1.50" fill="#fff" transform="rotate(0 577.0 395.5)"/>
<ellipse cx="634.0" cy="383.8" rx="1.50" ry="7.45" fill="#fff" transform="rotate(4 634.0 383.8)"/>
<ellipse cx="629.0" cy="379.5" rx="0.60" ry="1.50" fill="#fff" transform="rotate(0 629.0 379.5)"/>
<ellipse cx="640.5" cy="374.8" rx="0.55" ry="1.25" fill="#fff" transform="rotate(30 640.5 374.8)"/>
<path d="M619.4,381.4 L625.6,379.4 L625,390 Z" fill="#fff" stroke="#fff" stroke-width="0.5" stroke-linejoin="round"/>
<ellipse cx="517.8" cy="409.6" rx="0.9" ry="0.7" fill="#fff"/>
<ellipse cx="521.8" cy="409.9" rx="0.9" ry="0.7" fill="#fff"/>
<ellipse cx="526.2" cy="409.9" rx="0.9" ry="0.7" fill="#fff"/>
<ellipse cx="530.0" cy="409.6" rx="0.9" ry="0.7" fill="#fff"/>
<ellipse cx="533.8" cy="409.0" rx="0.9" ry="0.7" fill="#fff"/>
<ellipse cx="638.7" cy="376.0" rx="0.9" ry="0.5" fill="#fff" transform="rotate(-40 638.7 376.0)"/>
<ellipse cx="641.3" cy="373.5" rx="0.9" ry="0.5" fill="#fff" transform="rotate(-40 641.3 373.5)"/>
<ellipse cx="643.9" cy="371.0" rx="0.9" ry="0.5" fill="#fff" transform="rotate(-40 643.9 371.0)"/>
<ellipse cx="646.5" cy="368.5" rx="0.9" ry="0.5" fill="#fff" transform="rotate(-40 646.5 368.5)"/>
<ellipse cx="482.6" cy="414.6" rx="0.95" ry="0.75" fill="#fff"/>
<ellipse cx="486.6" cy="414.6" rx="0.95" ry="0.75" fill="#fff"/>
<ellipse cx="490.6" cy="414.6" rx="0.95" ry="0.75" fill="#fff"/>
<ellipse cx="494.6" cy="414.6" rx="0.95" ry="0.75" fill="#fff"/>
<ellipse cx="498.6" cy="414.6" rx="0.95" ry="0.75" fill="#fff"/>
<ellipse cx="502.6" cy="414.6" rx="0.95" ry="0.75" fill="#fff"/>
<ellipse cx="506.6" cy="414.6" rx="0.95" ry="0.75" fill="#fff"/>
<ellipse cx="510.6" cy="414.6" rx="0.95" ry="0.75" fill="#fff"/>
<ellipse cx="514.6" cy="414.6" rx="0.95" ry="0.75" fill="#fff"/>
<ellipse cx="518.6" cy="414.6" rx="0.95" ry="0.75" fill="#fff"/>
<ellipse cx="522.6" cy="414.6" rx="0.95" ry="0.75" fill="#fff"/>
<ellipse cx="526.6" cy="414.6" rx="0.95" ry="0.75" fill="#fff"/>
<ellipse cx="530.6" cy="414.6" rx="0.95" ry="0.75" fill="#fff"/>
<ellipse cx="534.6" cy="414.6" rx="0.95" ry="0.75" fill="#fff"/>
<ellipse cx="538.6" cy="414.6" rx="0.95" ry="0.75" fill="#fff"/>
<ellipse cx="542.6" cy="414.6" rx="0.95" ry="0.75" fill="#fff"/>
<ellipse cx="546.6" cy="414.6" rx="0.95" ry="0.75" fill="#fff"/>
<ellipse cx="550.6" cy="414.6" rx="0.95" ry="0.75" fill="#fff"/>
<ellipse cx="554.6" cy="414.6" rx="0.95" ry="0.75" fill="#fff"/>
<ellipse cx="558.6" cy="414.6" rx="0.95" ry="0.75" fill="#fff"/>
<ellipse cx="562.6" cy="414.6" rx="0.95" ry="0.75" fill="#fff"/>
<ellipse cx="574.6" cy="414.6" rx="0.95" ry="0.75" fill="#fff"/>
<ellipse cx="578.6" cy="414.6" rx="0.95" ry="0.75" fill="#fff"/>
<ellipse cx="582.6" cy="414.6" rx="0.95" ry="0.75" fill="#fff"/>
<ellipse cx="586.6" cy="414.6" rx="0.95" ry="0.75" fill="#fff"/>
<ellipse cx="590.6" cy="414.6" rx="0.95" ry="0.75" fill="#fff"/>
<ellipse cx="594.6" cy="414.6" rx="0.95" ry="0.75" fill="#fff"/>
<ellipse cx="632.8" cy="414.6" rx="0.9" ry="0.7" fill="#fff"/>
<ellipse cx="637.0" cy="414.6" rx="0.9" ry="0.7" fill="#fff"/>
<ellipse cx="641.2" cy="414.6" rx="0.9" ry="0.7" fill="#fff"/>
<rect x="473.60" y="415.60" width="173.90" height="2.20" fill="#0a0a8c" />
</g>
<text x="559.65" y="512.30" font-family="'Liberation Serif', serif" font-size="6.8" font-weight="normal" fill="#222" text-anchor="middle" textLength="86.30" lengthAdjust="spacingAndGlyphs" >Minimum length radius R = 4.0</text>
<g transform="translate(189.3 85)">
<g clip-path="url(#cb18)">
<polygon points="474.60,397.00 489.60,360.00 491.00,358.40 493.00,358.60 526.30,366.40 640.80,356.20 642.40,356.60 648.40,368.40 648.20,369.60 637.40,381.00 647.00,416.20 483.50,416.20 482.60,403.20" fill="url(#g68)" />
<polygon points="474.60,397.00 489.60,360.00 491.00,358.40 493.00,358.60 526.30,366.40 640.80,356.20 642.40,356.60 648.40,368.40 648.20,369.60 637.40,381.00 647.00,416.20 483.50,416.20 482.60,403.20" fill="url(#g69)" />
<polygon points="474.60,397.00 489.60,360.00 491.00,358.40 493.00,358.60 526.30,366.40 640.80,356.20 642.40,356.60 648.40,368.40 648.20,369.60 637.40,381.00 647.00,416.20 483.50,416.20 482.60,403.20" fill="url(#g70)" />
<g filter="url(#soft2)" fill="none" stroke-linejoin="round"><path d="M595.0,404.5 L599.0,401.0 L601.3,398.8 L619.4,380.8 L637.5,380.5 L648.4,369.0" stroke="#2458ff" stroke-width="13" stroke-opacity="0.55"/><path d="M595.0,404.5 L599.0,401.0 L601.3,398.8 L619.4,380.8 L637.5,380.5 L648.4,369.0" stroke="#2c8cff" stroke-width="6.5" stroke-opacity="0.6"/></g>
<g filter="url(#soft)" fill="none" stroke-linejoin="round"><path d="M599.0,401.0 L601.3,398.8 L619.4,380.8 M637.5,380.5 L648.4,369.0" stroke="#48d8e8" stroke-width="3.2" stroke-opacity="0.9"/><path d="M599.0,401.0 L601.3,398.8 L619.4,380.8 M637.5,380.5 L648.4,369.0" stroke="#e8e048" stroke-width="1.4"/></g>
<polygon points="474.60,397.00 489.60,360.00 491.00,358.40 493.00,358.60 526.30,366.40 640.80,356.20 642.40,356.60 648.40,368.40 648.20,369.60 637.40,381.00 647.00,416.20 483.50,416.20 482.60,403.20" fill="url(#g71)" />
<polygon points="482.60,403.20 500.00,407.50 520.00,409.50 540.00,407.00 565.00,399.50 590.00,389.00 612.00,378.00 637.40,381.00 647.50,416.20 483.00,416.20" fill="url(#g72)" />
</g>
<path d="M604.4,416.5 L601.3,398.8 L619.4,380.6 C623.5,385 627.5,391 628.2,397.5 C628.2,404 627,410 626.3,416.5 Z" fill="#fff"/>
<ellipse cx="484.0" cy="408.4" rx="0.99" ry="5.70" fill="#fff" transform="rotate(0 484.0 408.4)"/>
<ellipse cx="488.1" cy="408.8" rx="1.12" ry="5.30" fill="#fff" transform="rotate(0 488.1 408.8)"/>
<ellipse cx="492.3" cy="408.8" rx="0.81" ry="4.10" fill="#fff" transform="rotate(0 492.3 408.8)"/>
<ellipse cx="497.5" cy="409.9" rx="1.12" ry="4.60" fill="#fff" transform="rotate(0 497.5 409.9)"/>
<ellipse cx="502.5" cy="409.5" rx="0.62" ry="2.30" fill="#fff" transform="rotate(0 502.5 409.5)"/>
<ellipse cx="507.5" cy="411.1" rx="0.93" ry="3.40" fill="#fff" transform="rotate(0 507.5 411.1)"/>
<ellipse cx="510.2" cy="410.9" rx="0.74" ry="3.00" fill="#fff" transform="rotate(0 510.2 410.9)"/>
<ellipse cx="513.2" cy="410.6" rx="0.68" ry="2.15" fill="#fff" transform="rotate(0 513.2 410.6)"/>
<ellipse cx="537.5" cy="409.1" rx="0.93" ry="2.50" fill="#fff" transform="rotate(8 537.5 409.1)"/>
<ellipse cx="541.9" cy="408.4" rx="1.18" ry="3.75" fill="#fff" transform="rotate(8 541.9 408.4)"/>
<ellipse cx="550.0" cy="406.2" rx="1.24" ry="4.05" fill="#fff" transform="rotate(8 550.0 406.2)"/>
<ellipse cx="558.1" cy="405.6" rx="1.55" ry="5.95" fill="#fff" transform="rotate(6 558.1 405.6)"/>
<ellipse cx="546.0" cy="407.2" rx="0.87" ry="3.55" fill="#fff" transform="rotate(8 546.0 407.2)"/>
<ellipse cx="554.0" cy="405.2" rx="0.74" ry="4.05" fill="#fff" transform="rotate(8 554.0 405.2)"/>
<ellipse cx="586.3" cy="398.7" rx="2.20" ry="7.50" fill="#fff" transform="rotate(3 586.3 398.7)"/>
<ellipse cx="579.5" cy="395.6" rx="1.00" ry="2.50" fill="#fff" transform="rotate(8 579.5 395.6)"/>
<ellipse cx="593.2" cy="392.5" rx="1.10" ry="3.70" fill="#fff" transform="rotate(10 593.2 392.5)"/>
<ellipse cx="573.8" cy="396.5" rx="0.60" ry="1.10" fill="#fff" transform="rotate(0 573.8 396.5)"/>
<ellipse cx="563.2" cy="400.4" rx="0.75" ry="1.65" fill="#fff" transform="rotate(0 563.2 400.4)"/>
<ellipse cx="598.5" cy="388.1" rx="0.60" ry="1.50" fill="#fff" transform="rotate(25 598.5 388.1)"/>
<ellipse cx="625.7" cy="380.0" rx="0.75" ry="1.90" fill="#fff" transform="rotate(-15 625.7 380.0)"/>
<ellipse cx="631.3" cy="382.2" rx="1.55" ry="5.30" fill="#fff" transform="rotate(-4 631.3 382.2)"/>
<ellipse cx="635.7" cy="377.2" rx="0.75" ry="1.60" fill="#fff" transform="rotate(15 635.7 377.2)"/>
<path d="M565.3,416.5 L565.8,404 L569.5,396.9 L573,403 L573.8,416.5 Z" fill="#fff" stroke="#fff" stroke-width="0.5" stroke-linejoin="round"/>
<ellipse cx="517.8" cy="409.6" rx="0.9" ry="0.7" fill="#fff"/>
<ellipse cx="521.8" cy="409.9" rx="0.9" ry="0.7" fill="#fff"/>
<ellipse cx="526.2" cy="409.9" rx="0.9" ry="0.7" fill="#fff"/>
<ellipse cx="530.0" cy="409.6" rx="0.9" ry="0.7" fill="#fff"/>
<ellipse cx="533.8" cy="409.0" rx="0.9" ry="0.7" fill="#fff"/>
<ellipse cx="637.6" cy="378.5" rx="0.9" ry="0.5" fill="#fff" transform="rotate(-40 637.6 378.5)"/>
<ellipse cx="640.2" cy="376.0" rx="0.9" ry="0.5" fill="#fff" transform="rotate(-40 640.2 376.0)"/>
<ellipse cx="642.8" cy="373.5" rx="0.9" ry="0.5" fill="#fff" transform="rotate(-40 642.8 373.5)"/>
<ellipse cx="645.4" cy="371.0" rx="0.9" ry="0.5" fill="#fff" transform="rotate(-40 645.4 371.0)"/>
<ellipse cx="648.0" cy="368.5" rx="0.9" ry="0.5" fill="#fff" transform="rotate(-40 648.0 368.5)"/>
<ellipse cx="482.6" cy="414.6" rx="0.95" ry="0.75" fill="#fff"/>
<ellipse cx="486.6" cy="414.6" rx="0.95" ry="0.75" fill="#fff"/>
<ellipse cx="490.6" cy="414.6" rx="0.95" ry="0.75" fill="#fff"/>
<ellipse cx="494.6" cy="414.6" rx="0.95" ry="0.75" fill="#fff"/>
<ellipse cx="498.6" cy="414.6" rx="0.95" ry="0.75" fill="#fff"/>
<ellipse cx="502.6" cy="414.6" rx="0.95" ry="0.75" fill="#fff"/>
<ellipse cx="506.6" cy="414.6" rx="0.95" ry="0.75" fill="#fff"/>
<ellipse cx="510.6" cy="414.6" rx="0.95" ry="0.75" fill="#fff"/>
<ellipse cx="514.6" cy="414.6" rx="0.95" ry="0.75" fill="#fff"/>
<ellipse cx="518.6" cy="414.6" rx="0.95" ry="0.75" fill="#fff"/>
<ellipse cx="522.6" cy="414.6" rx="0.95" ry="0.75" fill="#fff"/>
<ellipse cx="526.6" cy="414.6" rx="0.95" ry="0.75" fill="#fff"/>
<ellipse cx="530.6" cy="414.6" rx="0.95" ry="0.75" fill="#fff"/>
<ellipse cx="534.6" cy="414.6" rx="0.95" ry="0.75" fill="#fff"/>
<ellipse cx="538.6" cy="414.6" rx="0.95" ry="0.75" fill="#fff"/>
<ellipse cx="542.6" cy="414.6" rx="0.95" ry="0.75" fill="#fff"/>
<ellipse cx="546.6" cy="414.6" rx="0.95" ry="0.75" fill="#fff"/>
<ellipse cx="550.6" cy="414.6" rx="0.95" ry="0.75" fill="#fff"/>
<ellipse cx="554.6" cy="414.6" rx="0.95" ry="0.75" fill="#fff"/>
<ellipse cx="558.6" cy="414.6" rx="0.95" ry="0.75" fill="#fff"/>
<ellipse cx="562.6" cy="414.6" rx="0.95" ry="0.75" fill="#fff"/>
<ellipse cx="578.8" cy="415.0" rx="1.5" ry="1.3" fill="#fff"/>
<ellipse cx="585.1" cy="414.4" rx="1.5" ry="1.3" fill="#fff"/>
<ellipse cx="593.2" cy="414.7" rx="1.5" ry="1.3" fill="#fff"/>
<ellipse cx="599.4" cy="415.0" rx="1.5" ry="1.3" fill="#fff"/>
<ellipse cx="633.0" cy="414.6" rx="0.9" ry="0.7" fill="#fff"/>
<ellipse cx="637.2" cy="414.6" rx="0.9" ry="0.7" fill="#fff"/>
<ellipse cx="641.4" cy="414.6" rx="0.9" ry="0.7" fill="#fff"/>
<rect x="473.60" y="415.60" width="176.00" height="2.20" fill="#0a0a8c" />
</g>
<text x="750.00" y="512.30" font-family="'Liberation Serif', serif" font-size="6.8" font-weight="normal" fill="#222" text-anchor="middle" textLength="86.00" lengthAdjust="spacingAndGlyphs" >Minimum length radius R = 4.5</text>
<rect x="852.00" y="354.60" width="8.20" height="158.00" fill="url(#g73)" />
<text x="862.20" y="367.20" font-family="'Liberation Sans', sans-serif" font-size="4.2" font-weight="normal" fill="#444" text-anchor="start" >1.8</text>
<text x="862.20" y="383.40" font-family="'Liberation Sans', sans-serif" font-size="4.2" font-weight="normal" fill="#444" text-anchor="start" >1.6</text>
<text x="862.20" y="399.90" font-family="'Liberation Sans', sans-serif" font-size="4.2" font-weight="normal" fill="#444" text-anchor="start" >1.4</text>
<text x="862.20" y="416.40" font-family="'Liberation Sans', sans-serif" font-size="4.2" font-weight="normal" fill="#444" text-anchor="start" >1.2</text>
<text x="862.20" y="432.60" font-family="'Liberation Sans', sans-serif" font-size="4.2" font-weight="normal" fill="#444" text-anchor="start" >1</text>
<text x="862.20" y="448.90" font-family="'Liberation Sans', sans-serif" font-size="4.2" font-weight="normal" fill="#444" text-anchor="start" >0.8</text>
<text x="862.20" y="465.40" font-family="'Liberation Sans', sans-serif" font-size="4.2" font-weight="normal" fill="#444" text-anchor="start" >0.6</text>
<text x="862.20" y="481.80" font-family="'Liberation Sans', sans-serif" font-size="4.2" font-weight="normal" fill="#444" text-anchor="start" >0.4</text>
<text x="862.20" y="498.10" font-family="'Liberation Sans', sans-serif" font-size="4.2" font-weight="normal" fill="#444" text-anchor="start" >0.2</text>
<text x="862.20" y="514.40" font-family="'Liberation Sans', sans-serif" font-size="4.2" font-weight="normal" fill="#444" text-anchor="start" >0</text>
<text x="878.00" y="433.00" font-family="'Liberation Serif', serif" font-size="6.8" font-weight="normal" fill="#333" text-anchor="middle" textLength="101.00" lengthAdjust="spacingAndGlyphs" transform="rotate(-90.00 878.00 433.00)" >Residual distortion value (unit: mm)</text>
</g>
<text x="675.50" y="544.00" font-family="'Liberation Serif', serif" font-size="13.7" font-weight="normal" fill="#000" text-anchor="middle" textLength="387.00" lengthAdjust="spacingAndGlyphs" >The residual distortion distributions with different length scale control</text>
<text x="675.50" y="560.60" font-family="'Liberation Serif', serif" font-size="13.7" font-weight="normal" fill="#000" text-anchor="middle" textLength="259.00" lengthAdjust="spacingAndGlyphs" >sizes: R = 3.0, R = 3.5, R = 4.0, and R = 4.5.</text></svg></body></html>
